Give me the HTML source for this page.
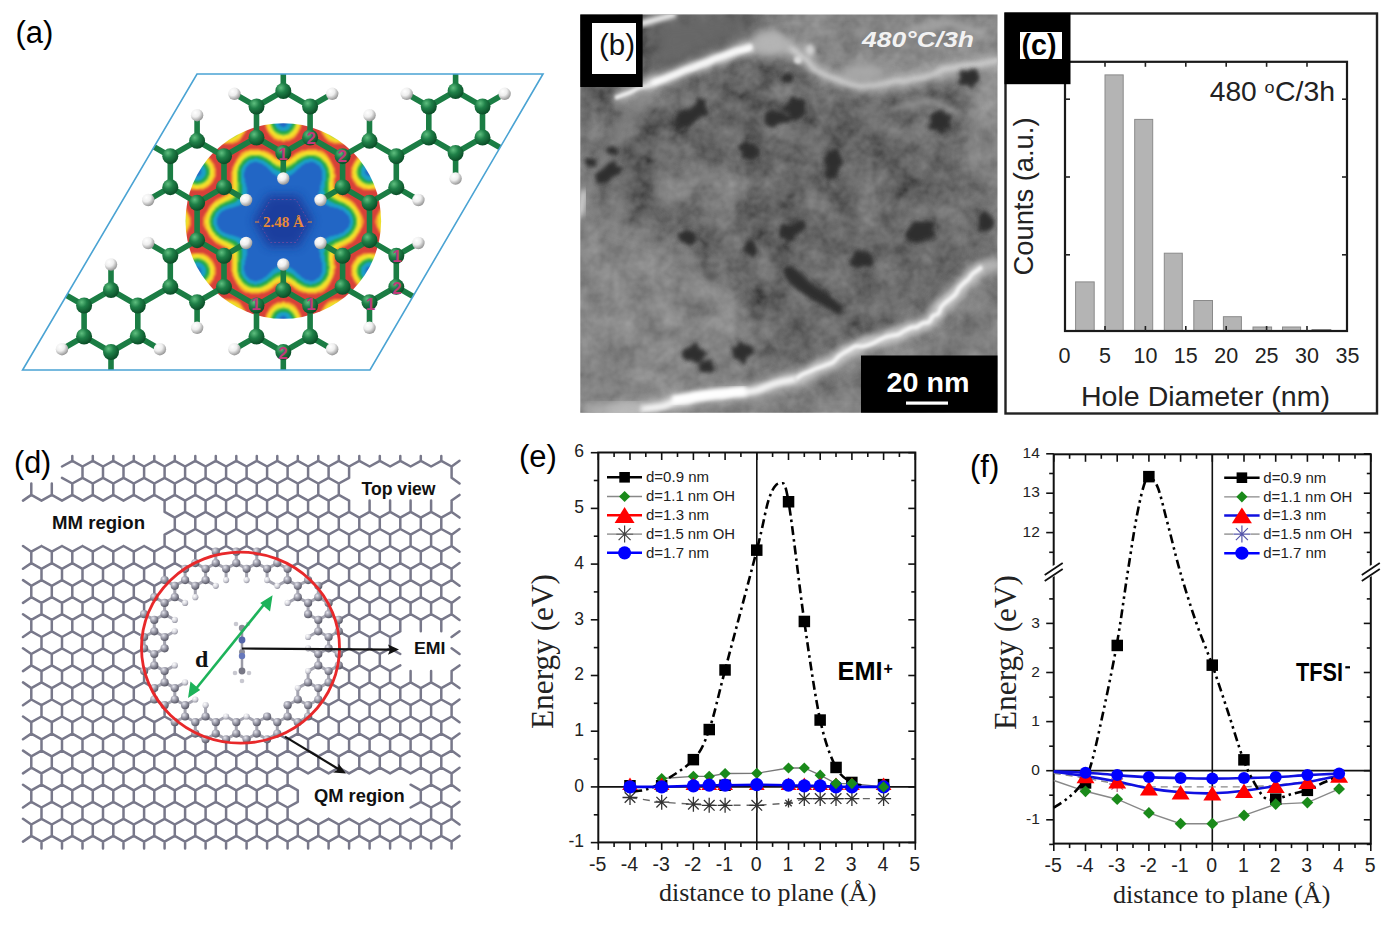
<!DOCTYPE html>
<html><head><meta charset="utf-8"><style>html,body{margin:0;padding:0;background:#fff;overflow:hidden}svg{display:block}</style></head>
<body><svg width="1394" height="932" viewBox="0 0 1394 932">
<rect width="1394" height="932" fill="#fff"/>
<rect x="598.3" y="452.5" width="317.0" height="389.9" fill="none" stroke="#111" stroke-width="2"/>
<line x1="598.3" y1="842.4" x2="598.3" y2="849.9" stroke="#111" stroke-width="1.6"/>
<line x1="598.3" y1="452.5" x2="598.3" y2="460.0" stroke="#111" stroke-width="1.6"/>
<text x="597.7" y="870.7" text-anchor="middle" font-size="19.5" fill="#222" font-family="Liberation Sans, sans-serif">-5</text>
<line x1="614.1" y1="842.4" x2="614.1" y2="846.9" stroke="#111" stroke-width="1.6"/>
<line x1="614.1" y1="452.5" x2="614.1" y2="457.0" stroke="#111" stroke-width="1.6"/>
<line x1="630.0" y1="842.4" x2="630.0" y2="849.9" stroke="#111" stroke-width="1.6"/>
<line x1="630.0" y1="452.5" x2="630.0" y2="460.0" stroke="#111" stroke-width="1.6"/>
<text x="629.4" y="870.7" text-anchor="middle" font-size="19.5" fill="#222" font-family="Liberation Sans, sans-serif">-4</text>
<line x1="645.8" y1="842.4" x2="645.8" y2="846.9" stroke="#111" stroke-width="1.6"/>
<line x1="645.8" y1="452.5" x2="645.8" y2="457.0" stroke="#111" stroke-width="1.6"/>
<line x1="661.7" y1="842.4" x2="661.7" y2="849.9" stroke="#111" stroke-width="1.6"/>
<line x1="661.7" y1="452.5" x2="661.7" y2="460.0" stroke="#111" stroke-width="1.6"/>
<text x="661.1" y="870.7" text-anchor="middle" font-size="19.5" fill="#222" font-family="Liberation Sans, sans-serif">-3</text>
<line x1="677.5" y1="842.4" x2="677.5" y2="846.9" stroke="#111" stroke-width="1.6"/>
<line x1="677.5" y1="452.5" x2="677.5" y2="457.0" stroke="#111" stroke-width="1.6"/>
<line x1="693.4" y1="842.4" x2="693.4" y2="849.9" stroke="#111" stroke-width="1.6"/>
<line x1="693.4" y1="452.5" x2="693.4" y2="460.0" stroke="#111" stroke-width="1.6"/>
<text x="692.8" y="870.7" text-anchor="middle" font-size="19.5" fill="#222" font-family="Liberation Sans, sans-serif">-2</text>
<line x1="709.2" y1="842.4" x2="709.2" y2="846.9" stroke="#111" stroke-width="1.6"/>
<line x1="709.2" y1="452.5" x2="709.2" y2="457.0" stroke="#111" stroke-width="1.6"/>
<line x1="725.1" y1="842.4" x2="725.1" y2="849.9" stroke="#111" stroke-width="1.6"/>
<line x1="725.1" y1="452.5" x2="725.1" y2="460.0" stroke="#111" stroke-width="1.6"/>
<text x="724.5" y="870.7" text-anchor="middle" font-size="19.5" fill="#222" font-family="Liberation Sans, sans-serif">-1</text>
<line x1="740.9" y1="842.4" x2="740.9" y2="846.9" stroke="#111" stroke-width="1.6"/>
<line x1="740.9" y1="452.5" x2="740.9" y2="457.0" stroke="#111" stroke-width="1.6"/>
<line x1="756.8" y1="842.4" x2="756.8" y2="849.9" stroke="#111" stroke-width="1.6"/>
<line x1="756.8" y1="452.5" x2="756.8" y2="460.0" stroke="#111" stroke-width="1.6"/>
<text x="756.2" y="870.7" text-anchor="middle" font-size="19.5" fill="#222" font-family="Liberation Sans, sans-serif">0</text>
<line x1="772.6" y1="842.4" x2="772.6" y2="846.9" stroke="#111" stroke-width="1.6"/>
<line x1="772.6" y1="452.5" x2="772.6" y2="457.0" stroke="#111" stroke-width="1.6"/>
<line x1="788.5" y1="842.4" x2="788.5" y2="849.9" stroke="#111" stroke-width="1.6"/>
<line x1="788.5" y1="452.5" x2="788.5" y2="460.0" stroke="#111" stroke-width="1.6"/>
<text x="787.9" y="870.7" text-anchor="middle" font-size="19.5" fill="#222" font-family="Liberation Sans, sans-serif">1</text>
<line x1="804.3" y1="842.4" x2="804.3" y2="846.9" stroke="#111" stroke-width="1.6"/>
<line x1="804.3" y1="452.5" x2="804.3" y2="457.0" stroke="#111" stroke-width="1.6"/>
<line x1="820.2" y1="842.4" x2="820.2" y2="849.9" stroke="#111" stroke-width="1.6"/>
<line x1="820.2" y1="452.5" x2="820.2" y2="460.0" stroke="#111" stroke-width="1.6"/>
<text x="819.6" y="870.7" text-anchor="middle" font-size="19.5" fill="#222" font-family="Liberation Sans, sans-serif">2</text>
<line x1="836.0" y1="842.4" x2="836.0" y2="846.9" stroke="#111" stroke-width="1.6"/>
<line x1="836.0" y1="452.5" x2="836.0" y2="457.0" stroke="#111" stroke-width="1.6"/>
<line x1="851.9" y1="842.4" x2="851.9" y2="849.9" stroke="#111" stroke-width="1.6"/>
<line x1="851.9" y1="452.5" x2="851.9" y2="460.0" stroke="#111" stroke-width="1.6"/>
<text x="851.3" y="870.7" text-anchor="middle" font-size="19.5" fill="#222" font-family="Liberation Sans, sans-serif">3</text>
<line x1="867.8" y1="842.4" x2="867.8" y2="846.9" stroke="#111" stroke-width="1.6"/>
<line x1="867.8" y1="452.5" x2="867.8" y2="457.0" stroke="#111" stroke-width="1.6"/>
<line x1="883.6" y1="842.4" x2="883.6" y2="849.9" stroke="#111" stroke-width="1.6"/>
<line x1="883.6" y1="452.5" x2="883.6" y2="460.0" stroke="#111" stroke-width="1.6"/>
<text x="883.0" y="870.7" text-anchor="middle" font-size="19.5" fill="#222" font-family="Liberation Sans, sans-serif">4</text>
<line x1="899.4" y1="842.4" x2="899.4" y2="846.9" stroke="#111" stroke-width="1.6"/>
<line x1="899.4" y1="452.5" x2="899.4" y2="457.0" stroke="#111" stroke-width="1.6"/>
<line x1="915.3" y1="842.4" x2="915.3" y2="849.9" stroke="#111" stroke-width="1.6"/>
<line x1="915.3" y1="452.5" x2="915.3" y2="460.0" stroke="#111" stroke-width="1.6"/>
<text x="914.7" y="870.7" text-anchor="middle" font-size="19.5" fill="#222" font-family="Liberation Sans, sans-serif">5</text>
<line x1="598.3" y1="842.6" x2="590.8" y2="842.6" stroke="#111" stroke-width="1.6"/>
<line x1="915.3" y1="842.6" x2="908.3" y2="842.6" stroke="#111" stroke-width="1.6"/>
<text x="584" y="847.3" text-anchor="end" font-size="17.5" fill="#222" font-family="Liberation Sans, sans-serif">-1</text>
<line x1="598.3" y1="814.8" x2="593.8" y2="814.8" stroke="#111" stroke-width="1.6"/>
<line x1="915.3" y1="814.8" x2="911.3" y2="814.8" stroke="#111" stroke-width="1.6"/>
<line x1="598.3" y1="786.9" x2="590.8" y2="786.9" stroke="#111" stroke-width="1.6"/>
<line x1="915.3" y1="786.9" x2="908.3" y2="786.9" stroke="#111" stroke-width="1.6"/>
<text x="584" y="791.6" text-anchor="end" font-size="17.5" fill="#222" font-family="Liberation Sans, sans-serif">0</text>
<line x1="598.3" y1="759.0" x2="593.8" y2="759.0" stroke="#111" stroke-width="1.6"/>
<line x1="915.3" y1="759.0" x2="911.3" y2="759.0" stroke="#111" stroke-width="1.6"/>
<line x1="598.3" y1="731.2" x2="590.8" y2="731.2" stroke="#111" stroke-width="1.6"/>
<line x1="915.3" y1="731.2" x2="908.3" y2="731.2" stroke="#111" stroke-width="1.6"/>
<text x="584" y="735.9" text-anchor="end" font-size="17.5" fill="#222" font-family="Liberation Sans, sans-serif">1</text>
<line x1="598.3" y1="703.3" x2="593.8" y2="703.3" stroke="#111" stroke-width="1.6"/>
<line x1="915.3" y1="703.3" x2="911.3" y2="703.3" stroke="#111" stroke-width="1.6"/>
<line x1="598.3" y1="675.5" x2="590.8" y2="675.5" stroke="#111" stroke-width="1.6"/>
<line x1="915.3" y1="675.5" x2="908.3" y2="675.5" stroke="#111" stroke-width="1.6"/>
<text x="584" y="680.2" text-anchor="end" font-size="17.5" fill="#222" font-family="Liberation Sans, sans-serif">2</text>
<line x1="598.3" y1="647.6" x2="593.8" y2="647.6" stroke="#111" stroke-width="1.6"/>
<line x1="915.3" y1="647.6" x2="911.3" y2="647.6" stroke="#111" stroke-width="1.6"/>
<line x1="598.3" y1="619.8" x2="590.8" y2="619.8" stroke="#111" stroke-width="1.6"/>
<line x1="915.3" y1="619.8" x2="908.3" y2="619.8" stroke="#111" stroke-width="1.6"/>
<text x="584" y="624.5" text-anchor="end" font-size="17.5" fill="#222" font-family="Liberation Sans, sans-serif">3</text>
<line x1="598.3" y1="591.9" x2="593.8" y2="591.9" stroke="#111" stroke-width="1.6"/>
<line x1="915.3" y1="591.9" x2="911.3" y2="591.9" stroke="#111" stroke-width="1.6"/>
<line x1="598.3" y1="564.1" x2="590.8" y2="564.1" stroke="#111" stroke-width="1.6"/>
<line x1="915.3" y1="564.1" x2="908.3" y2="564.1" stroke="#111" stroke-width="1.6"/>
<text x="584" y="568.8" text-anchor="end" font-size="17.5" fill="#222" font-family="Liberation Sans, sans-serif">4</text>
<line x1="598.3" y1="536.2" x2="593.8" y2="536.2" stroke="#111" stroke-width="1.6"/>
<line x1="915.3" y1="536.2" x2="911.3" y2="536.2" stroke="#111" stroke-width="1.6"/>
<line x1="598.3" y1="508.4" x2="590.8" y2="508.4" stroke="#111" stroke-width="1.6"/>
<line x1="915.3" y1="508.4" x2="908.3" y2="508.4" stroke="#111" stroke-width="1.6"/>
<text x="584" y="513.1" text-anchor="end" font-size="17.5" fill="#222" font-family="Liberation Sans, sans-serif">5</text>
<line x1="598.3" y1="480.5" x2="593.8" y2="480.5" stroke="#111" stroke-width="1.6"/>
<line x1="915.3" y1="480.5" x2="911.3" y2="480.5" stroke="#111" stroke-width="1.6"/>
<line x1="598.3" y1="452.7" x2="590.8" y2="452.7" stroke="#111" stroke-width="1.6"/>
<line x1="915.3" y1="452.7" x2="908.3" y2="452.7" stroke="#111" stroke-width="1.6"/>
<text x="584" y="457.4" text-anchor="end" font-size="17.5" fill="#222" font-family="Liberation Sans, sans-serif">6</text>
<line x1="598.3" y1="786.9" x2="915.3" y2="786.9" stroke="#111" stroke-width="1.8"/>
<line x1="756.8" y1="452.5" x2="756.8" y2="842.4" stroke="#111" stroke-width="1.6"/>
<path d="M630.0,797.5 L661.7,802.2 L693.4,804.2 L709.2,805.3 L725.1,805.3 L756.8,805.3 L788.5,803.1 L804.3,798.6 L820.2,798.6 L836.0,798.6 L851.9,798.6 L883.6,798.6" stroke="#666" stroke-width="1.4" fill="none" stroke-dasharray="7,6"/>
<path d="M622.5,797.5 L637.5,797.5 M624.7,792.2 L635.3,802.8 M630.0,790.0 L630.0,805.0 M635.3,792.2 L624.7,802.8 " stroke="#333" stroke-width="1.3" fill="none"/>
<path d="M654.2,802.2 L669.2,802.2 M656.4,796.9 L667.0,807.5 M661.7,794.7 L661.7,809.7 M667.0,796.9 L656.4,807.5 " stroke="#333" stroke-width="1.3" fill="none"/>
<path d="M685.9,804.2 L700.9,804.2 M688.1,798.9 L698.7,809.5 M693.4,796.7 L693.4,811.7 M698.7,798.9 L688.1,809.5 " stroke="#333" stroke-width="1.3" fill="none"/>
<path d="M701.8,805.3 L716.8,805.3 M703.9,800.0 L714.6,810.6 M709.2,797.8 L709.2,812.8 M714.6,800.0 L703.9,810.6 " stroke="#333" stroke-width="1.3" fill="none"/>
<path d="M717.6,805.3 L732.6,805.3 M719.8,800.0 L730.4,810.6 M725.1,797.8 L725.1,812.8 M730.4,800.0 L719.8,810.6 " stroke="#333" stroke-width="1.3" fill="none"/>
<path d="M749.3,805.3 L764.3,805.3 M751.5,800.0 L762.1,810.6 M756.8,797.8 L756.8,812.8 M762.1,800.0 L751.5,810.6 " stroke="#333" stroke-width="1.3" fill="none"/>
<path d="M784.0,803.1 L793.0,803.1 M785.3,799.9 L791.7,806.2 M788.5,798.6 L788.5,807.6 M791.7,799.9 L785.3,806.2 " stroke="#333" stroke-width="1.3" fill="none"/>
<path d="M796.8,798.6 L811.8,798.6 M799.0,793.3 L809.7,803.9 M804.3,791.1 L804.3,806.1 M809.7,793.3 L799.0,803.9 " stroke="#333" stroke-width="1.3" fill="none"/>
<path d="M812.7,798.6 L827.7,798.6 M814.9,793.3 L825.5,803.9 M820.2,791.1 L820.2,806.1 M825.5,793.3 L814.9,803.9 " stroke="#333" stroke-width="1.3" fill="none"/>
<path d="M828.5,798.6 L843.5,798.6 M830.7,793.3 L841.4,803.9 M836.0,791.1 L836.0,806.1 M841.4,793.3 L830.7,803.9 " stroke="#333" stroke-width="1.3" fill="none"/>
<path d="M844.4,798.6 L859.4,798.6 M846.6,793.3 L857.2,803.9 M851.9,791.1 L851.9,806.1 M857.2,793.3 L846.6,803.9 " stroke="#333" stroke-width="1.3" fill="none"/>
<path d="M876.1,798.6 L891.1,798.6 M878.3,793.3 L888.9,803.9 M883.6,791.1 L883.6,806.1 M888.9,793.3 L878.3,803.9 " stroke="#333" stroke-width="1.3" fill="none"/>
<path d="M661.7,778.5 L693.4,776.3 L709.2,776.3 L725.1,773.5 L756.8,773.3 L788.5,768.0 L804.3,768.0 L820.2,775.2 L836.0,783.6 L851.9,783.6 L883.6,786.9" stroke="#777" stroke-width="1.3" fill="none"/>
<path d="M633.2,791.4 C635.3,791.1 641.1,791.2 645.8,789.7 C650.6,788.2 653.8,787.5 661.7,782.4 C669.6,777.4 685.5,768.4 693.4,759.6 C701.3,750.8 704.0,744.5 709.2,729.5 C714.5,714.6 717.2,699.8 725.1,669.9 C733.0,640.0 749.4,579.0 756.8,550.2 C764.2,521.4 765.5,508.4 769.5,497.3 C773.4,486.1 777.4,482.6 780.6,483.3 C783.7,484.1 784.5,478.7 788.5,501.7 C792.5,524.7 799.1,585.1 804.3,621.5 C809.6,657.9 814.9,695.7 820.2,720.1 C825.5,744.4 830.8,757.0 836.0,767.4 C841.3,777.8 847.7,779.5 851.9,782.4 C856.1,785.4 859.8,784.8 861.4,785.2" stroke="#000" stroke-width="2.6" fill="none" stroke-dasharray="9,4,2.5,4"/>
<rect x="624.2" y="780.0" width="11.5" height="11.5" fill="#000"/>
<rect x="655.9" y="780.0" width="11.5" height="11.5" fill="#000"/>
<rect x="719.3" y="779.5" width="11.5" height="11.5" fill="#000"/>
<rect x="687.6" y="753.9" width="11.5" height="11.5" fill="#000"/>
<rect x="703.5" y="723.8" width="11.5" height="11.5" fill="#000"/>
<rect x="719.3" y="664.2" width="11.5" height="11.5" fill="#000"/>
<rect x="751.0" y="544.4" width="11.5" height="11.5" fill="#000"/>
<rect x="782.8" y="496.0" width="11.5" height="11.5" fill="#000"/>
<rect x="798.6" y="615.7" width="11.5" height="11.5" fill="#000"/>
<rect x="814.4" y="714.3" width="11.5" height="11.5" fill="#000"/>
<rect x="830.3" y="761.7" width="11.5" height="11.5" fill="#000"/>
<rect x="846.1" y="776.7" width="11.5" height="11.5" fill="#000"/>
<rect x="877.8" y="778.9" width="11.5" height="11.5" fill="#000"/>
<path d="M661.7,772.9 L667.3,778.5 L661.7,784.1 L656.1,778.5Z" fill="#1a8a1a"/>
<path d="M693.4,770.7 L699.0,776.3 L693.4,781.9 L687.8,776.3Z" fill="#1a8a1a"/>
<path d="M709.2,770.7 L714.9,776.3 L709.2,781.9 L703.6,776.3Z" fill="#1a8a1a"/>
<path d="M725.1,767.9 L730.7,773.5 L725.1,779.1 L719.5,773.5Z" fill="#1a8a1a"/>
<path d="M756.8,767.7 L762.4,773.3 L756.8,778.9 L751.2,773.3Z" fill="#1a8a1a"/>
<path d="M788.5,762.4 L794.1,768.0 L788.5,773.6 L782.9,768.0Z" fill="#1a8a1a"/>
<path d="M804.3,762.4 L809.9,768.0 L804.3,773.6 L798.7,768.0Z" fill="#1a8a1a"/>
<path d="M820.2,769.6 L825.8,775.2 L820.2,780.8 L814.6,775.2Z" fill="#1a8a1a"/>
<path d="M836.0,778.0 L841.6,783.6 L836.0,789.2 L830.4,783.6Z" fill="#1a8a1a"/>
<path d="M851.9,778.0 L857.5,783.6 L851.9,789.2 L846.3,783.6Z" fill="#1a8a1a"/>
<path d="M883.6,781.3 L889.2,786.9 L883.6,792.5 L878.0,786.9Z" fill="#1a8a1a"/>
<path d="M630.0,777.5 L637.9,790.1 L622.1,790.1Z" fill="#f00"/>
<path d="M661.7,777.5 L669.6,790.1 L653.8,790.1Z" fill="#f00"/>
<path d="M693.4,777.5 L701.3,790.1 L685.5,790.1Z" fill="#f00"/>
<path d="M709.2,777.5 L717.2,790.1 L701.3,790.1Z" fill="#f00"/>
<path d="M725.1,777.5 L733.0,790.1 L717.2,790.1Z" fill="#f00"/>
<path d="M756.8,777.5 L764.7,790.1 L748.9,790.1Z" fill="#f00"/>
<path d="M788.5,777.5 L796.4,790.1 L780.6,790.1Z" fill="#f00"/>
<path d="M804.3,777.5 L812.3,790.1 L796.4,790.1Z" fill="#f00"/>
<path d="M820.2,777.5 L828.1,790.1 L812.3,790.1Z" fill="#f00"/>
<path d="M836.0,777.5 L844.0,790.1 L828.1,790.1Z" fill="#f00"/>
<path d="M851.9,777.5 L859.8,790.1 L844.0,790.1Z" fill="#f00"/>
<path d="M883.6,777.5 L891.5,790.1 L875.7,790.1Z" fill="#f00"/>
<path d="M630.0,786.9 L661.7,786.9 L693.4,785.8 L709.2,785.2 L725.1,785.2 L756.8,784.7 L788.5,785.2 L804.3,785.8 L820.2,785.8 L836.0,786.9 L851.9,786.9 L883.6,786.9" stroke="#0000ee" stroke-width="2.6" fill="none"/>
<circle cx="630.0" cy="786.9" r="6.6" fill="#00f"/>
<circle cx="661.7" cy="786.9" r="6.6" fill="#00f"/>
<circle cx="693.4" cy="785.8" r="6.6" fill="#00f"/>
<circle cx="709.2" cy="785.2" r="6.6" fill="#00f"/>
<circle cx="725.1" cy="785.2" r="6.6" fill="#00f"/>
<circle cx="756.8" cy="784.7" r="6.6" fill="#00f"/>
<circle cx="788.5" cy="785.2" r="6.6" fill="#00f"/>
<circle cx="804.3" cy="785.8" r="6.6" fill="#00f"/>
<circle cx="820.2" cy="785.8" r="6.6" fill="#00f"/>
<circle cx="836.0" cy="786.9" r="6.6" fill="#00f"/>
<circle cx="851.9" cy="786.9" r="6.6" fill="#00f"/>
<circle cx="883.6" cy="786.9" r="6.6" fill="#00f"/>
<path d="M836.0,778.0 L841.6,783.6 L836.0,789.2 L830.4,783.6Z" fill="#1a8a1a"/>
<path d="M851.9,778.0 L857.5,783.6 L851.9,789.2 L846.3,783.6Z" fill="#1a8a1a"/>
<path d="M883.6,781.3 L889.2,786.9 L883.6,792.5 L878.0,786.9Z" fill="#1a8a1a"/>
<line x1="607" y1="477.3" x2="642" y2="477.3" stroke="#000" stroke-width="2.6"/><rect x="619.3" y="472.0" width="10.6" height="10.6" fill="#000"/>
<line x1="607" y1="496.5" x2="642" y2="496.5" stroke="#888" stroke-width="1.3"/><path d="M624.6,490.9 L630.2,496.5 L624.6,502.1 L619.0,496.5Z" fill="#1a8a1a"/>
<line x1="607" y1="515.2" x2="642" y2="515.2" stroke="#f00" stroke-width="2.6"/><path d="M624.6,507.1 L634.6,523.0 L614.6,523.0Z" fill="#f00"/>
<line x1="607" y1="534.1" x2="616" y2="534.1" stroke="#888" stroke-width="1.3"/><line x1="633" y1="534.1" x2="642" y2="534.1" stroke="#888" stroke-width="1.3"/><path d="M616.1,534.1 L633.1,534.1 M618.6,528.1 L630.6,540.1 M624.6,525.6 L624.6,542.6 M630.6,528.1 L618.6,540.1 " stroke="#444" stroke-width="1.2" fill="none"/>
<line x1="607" y1="552.8" x2="642" y2="552.8" stroke="#00f" stroke-width="2.6"/><circle cx="624.6" cy="552.8" r="6.6" fill="#00f"/>
<text x="646" y="482.1" font-size="15" fill="#222" textLength="63" lengthAdjust="spacingAndGlyphs" font-family="Liberation Sans, sans-serif">d=0.9 nm</text>
<text x="646" y="501.3" font-size="15" fill="#222" textLength="89" lengthAdjust="spacingAndGlyphs" font-family="Liberation Sans, sans-serif">d=1.1 nm OH</text>
<text x="646" y="520.0" font-size="15" fill="#222" textLength="63" lengthAdjust="spacingAndGlyphs" font-family="Liberation Sans, sans-serif">d=1.3 nm</text>
<text x="646" y="538.9" font-size="15" fill="#222" textLength="89" lengthAdjust="spacingAndGlyphs" font-family="Liberation Sans, sans-serif">d=1.5 nm OH</text>
<text x="646" y="557.6" font-size="15" fill="#222" textLength="63" lengthAdjust="spacingAndGlyphs" font-family="Liberation Sans, sans-serif">d=1.7 nm</text>
<text x="519" y="467" font-size="31" fill="#000" font-family="Liberation Sans, sans-serif">(e)</text>
<text x="837.5" y="680" font-size="25" font-weight="bold" fill="#000" textLength="45" lengthAdjust="spacingAndGlyphs" font-family="Liberation Sans, sans-serif">EMI</text><text x="883.5" y="673.5" font-size="16" font-weight="bold" fill="#000" font-family="Liberation Sans, sans-serif">+</text>
<text x="659" y="901" font-size="26" fill="#222" font-family="Liberation Serif, serif">distance to plane (Å)</text>
<text transform="translate(553,729) rotate(-90)" font-size="32" fill="#222" textLength="155" lengthAdjust="spacingAndGlyphs" font-family="Liberation Serif, serif">Energy (eV)</text>
<rect x="1053.7" y="454.3" width="317.1" height="389.3" fill="none" stroke="#111" stroke-width="2"/>
<line x1="1053.8" y1="843.6" x2="1053.8" y2="851.1" stroke="#111" stroke-width="1.6"/>
<line x1="1053.8" y1="454.3" x2="1053.8" y2="461.8" stroke="#111" stroke-width="1.6"/>
<text x="1053.2" y="871.5" text-anchor="middle" font-size="19.5" fill="#222" font-family="Liberation Sans, sans-serif">-5</text>
<line x1="1069.6" y1="843.6" x2="1069.6" y2="848.1" stroke="#111" stroke-width="1.6"/>
<line x1="1069.6" y1="454.3" x2="1069.6" y2="458.8" stroke="#111" stroke-width="1.6"/>
<line x1="1085.5" y1="843.6" x2="1085.5" y2="851.1" stroke="#111" stroke-width="1.6"/>
<line x1="1085.5" y1="454.3" x2="1085.5" y2="461.8" stroke="#111" stroke-width="1.6"/>
<text x="1084.9" y="871.5" text-anchor="middle" font-size="19.5" fill="#222" font-family="Liberation Sans, sans-serif">-4</text>
<line x1="1101.3" y1="843.6" x2="1101.3" y2="848.1" stroke="#111" stroke-width="1.6"/>
<line x1="1101.3" y1="454.3" x2="1101.3" y2="458.8" stroke="#111" stroke-width="1.6"/>
<line x1="1117.2" y1="843.6" x2="1117.2" y2="851.1" stroke="#111" stroke-width="1.6"/>
<line x1="1117.2" y1="454.3" x2="1117.2" y2="461.8" stroke="#111" stroke-width="1.6"/>
<text x="1116.6" y="871.5" text-anchor="middle" font-size="19.5" fill="#222" font-family="Liberation Sans, sans-serif">-3</text>
<line x1="1133.0" y1="843.6" x2="1133.0" y2="848.1" stroke="#111" stroke-width="1.6"/>
<line x1="1133.0" y1="454.3" x2="1133.0" y2="458.8" stroke="#111" stroke-width="1.6"/>
<line x1="1148.9" y1="843.6" x2="1148.9" y2="851.1" stroke="#111" stroke-width="1.6"/>
<line x1="1148.9" y1="454.3" x2="1148.9" y2="461.8" stroke="#111" stroke-width="1.6"/>
<text x="1148.3" y="871.5" text-anchor="middle" font-size="19.5" fill="#222" font-family="Liberation Sans, sans-serif">-2</text>
<line x1="1164.8" y1="843.6" x2="1164.8" y2="848.1" stroke="#111" stroke-width="1.6"/>
<line x1="1164.8" y1="454.3" x2="1164.8" y2="458.8" stroke="#111" stroke-width="1.6"/>
<line x1="1180.6" y1="843.6" x2="1180.6" y2="851.1" stroke="#111" stroke-width="1.6"/>
<line x1="1180.6" y1="454.3" x2="1180.6" y2="461.8" stroke="#111" stroke-width="1.6"/>
<text x="1180.0" y="871.5" text-anchor="middle" font-size="19.5" fill="#222" font-family="Liberation Sans, sans-serif">-1</text>
<line x1="1196.5" y1="843.6" x2="1196.5" y2="848.1" stroke="#111" stroke-width="1.6"/>
<line x1="1196.5" y1="454.3" x2="1196.5" y2="458.8" stroke="#111" stroke-width="1.6"/>
<line x1="1212.3" y1="843.6" x2="1212.3" y2="851.1" stroke="#111" stroke-width="1.6"/>
<line x1="1212.3" y1="454.3" x2="1212.3" y2="461.8" stroke="#111" stroke-width="1.6"/>
<text x="1211.7" y="871.5" text-anchor="middle" font-size="19.5" fill="#222" font-family="Liberation Sans, sans-serif">0</text>
<line x1="1228.1" y1="843.6" x2="1228.1" y2="848.1" stroke="#111" stroke-width="1.6"/>
<line x1="1228.1" y1="454.3" x2="1228.1" y2="458.8" stroke="#111" stroke-width="1.6"/>
<line x1="1244.0" y1="843.6" x2="1244.0" y2="851.1" stroke="#111" stroke-width="1.6"/>
<line x1="1244.0" y1="454.3" x2="1244.0" y2="461.8" stroke="#111" stroke-width="1.6"/>
<text x="1243.4" y="871.5" text-anchor="middle" font-size="19.5" fill="#222" font-family="Liberation Sans, sans-serif">1</text>
<line x1="1259.8" y1="843.6" x2="1259.8" y2="848.1" stroke="#111" stroke-width="1.6"/>
<line x1="1259.8" y1="454.3" x2="1259.8" y2="458.8" stroke="#111" stroke-width="1.6"/>
<line x1="1275.7" y1="843.6" x2="1275.7" y2="851.1" stroke="#111" stroke-width="1.6"/>
<line x1="1275.7" y1="454.3" x2="1275.7" y2="461.8" stroke="#111" stroke-width="1.6"/>
<text x="1275.1" y="871.5" text-anchor="middle" font-size="19.5" fill="#222" font-family="Liberation Sans, sans-serif">2</text>
<line x1="1291.5" y1="843.6" x2="1291.5" y2="848.1" stroke="#111" stroke-width="1.6"/>
<line x1="1291.5" y1="454.3" x2="1291.5" y2="458.8" stroke="#111" stroke-width="1.6"/>
<line x1="1307.4" y1="843.6" x2="1307.4" y2="851.1" stroke="#111" stroke-width="1.6"/>
<line x1="1307.4" y1="454.3" x2="1307.4" y2="461.8" stroke="#111" stroke-width="1.6"/>
<text x="1306.8" y="871.5" text-anchor="middle" font-size="19.5" fill="#222" font-family="Liberation Sans, sans-serif">3</text>
<line x1="1323.2" y1="843.6" x2="1323.2" y2="848.1" stroke="#111" stroke-width="1.6"/>
<line x1="1323.2" y1="454.3" x2="1323.2" y2="458.8" stroke="#111" stroke-width="1.6"/>
<line x1="1339.1" y1="843.6" x2="1339.1" y2="851.1" stroke="#111" stroke-width="1.6"/>
<line x1="1339.1" y1="454.3" x2="1339.1" y2="461.8" stroke="#111" stroke-width="1.6"/>
<text x="1338.5" y="871.5" text-anchor="middle" font-size="19.5" fill="#222" font-family="Liberation Sans, sans-serif">4</text>
<line x1="1355.0" y1="843.6" x2="1355.0" y2="848.1" stroke="#111" stroke-width="1.6"/>
<line x1="1355.0" y1="454.3" x2="1355.0" y2="458.8" stroke="#111" stroke-width="1.6"/>
<line x1="1370.8" y1="843.6" x2="1370.8" y2="851.1" stroke="#111" stroke-width="1.6"/>
<line x1="1370.8" y1="454.3" x2="1370.8" y2="461.8" stroke="#111" stroke-width="1.6"/>
<text x="1370.2" y="871.5" text-anchor="middle" font-size="19.5" fill="#222" font-family="Liberation Sans, sans-serif">5</text>
<line x1="1053.7" y1="844.4" x2="1049.2" y2="844.4" stroke="#111" stroke-width="1.6"/>
<line x1="1370.8" y1="844.4" x2="1366.8" y2="844.4" stroke="#111" stroke-width="1.6"/>
<line x1="1053.7" y1="819.8" x2="1046.2" y2="819.8" stroke="#111" stroke-width="1.6"/>
<line x1="1370.8" y1="819.8" x2="1363.8" y2="819.8" stroke="#111" stroke-width="1.6"/>
<text x="1039.8" y="824.0" text-anchor="end" font-size="15.5" fill="#222" font-family="Liberation Sans, sans-serif">-1</text>
<line x1="1053.7" y1="795.2" x2="1049.2" y2="795.2" stroke="#111" stroke-width="1.6"/>
<line x1="1370.8" y1="795.2" x2="1366.8" y2="795.2" stroke="#111" stroke-width="1.6"/>
<line x1="1053.7" y1="770.7" x2="1046.2" y2="770.7" stroke="#111" stroke-width="1.6"/>
<line x1="1370.8" y1="770.7" x2="1363.8" y2="770.7" stroke="#111" stroke-width="1.6"/>
<text x="1039.8" y="774.9" text-anchor="end" font-size="15.5" fill="#222" font-family="Liberation Sans, sans-serif">0</text>
<line x1="1053.7" y1="746.2" x2="1049.2" y2="746.2" stroke="#111" stroke-width="1.6"/>
<line x1="1370.8" y1="746.2" x2="1366.8" y2="746.2" stroke="#111" stroke-width="1.6"/>
<line x1="1053.7" y1="721.6" x2="1046.2" y2="721.6" stroke="#111" stroke-width="1.6"/>
<line x1="1370.8" y1="721.6" x2="1363.8" y2="721.6" stroke="#111" stroke-width="1.6"/>
<text x="1039.8" y="725.8" text-anchor="end" font-size="15.5" fill="#222" font-family="Liberation Sans, sans-serif">1</text>
<line x1="1053.7" y1="697.1" x2="1049.2" y2="697.1" stroke="#111" stroke-width="1.6"/>
<line x1="1370.8" y1="697.1" x2="1366.8" y2="697.1" stroke="#111" stroke-width="1.6"/>
<line x1="1053.7" y1="672.5" x2="1046.2" y2="672.5" stroke="#111" stroke-width="1.6"/>
<line x1="1370.8" y1="672.5" x2="1363.8" y2="672.5" stroke="#111" stroke-width="1.6"/>
<text x="1039.8" y="676.7" text-anchor="end" font-size="15.5" fill="#222" font-family="Liberation Sans, sans-serif">2</text>
<line x1="1053.7" y1="648.0" x2="1049.2" y2="648.0" stroke="#111" stroke-width="1.6"/>
<line x1="1370.8" y1="648.0" x2="1366.8" y2="648.0" stroke="#111" stroke-width="1.6"/>
<line x1="1053.7" y1="623.4" x2="1046.2" y2="623.4" stroke="#111" stroke-width="1.6"/>
<line x1="1370.8" y1="623.4" x2="1363.8" y2="623.4" stroke="#111" stroke-width="1.6"/>
<text x="1039.8" y="627.6" text-anchor="end" font-size="15.5" fill="#222" font-family="Liberation Sans, sans-serif">3</text>
<line x1="1053.7" y1="598.9" x2="1049.2" y2="598.9" stroke="#111" stroke-width="1.6"/>
<line x1="1370.8" y1="598.9" x2="1366.8" y2="598.9" stroke="#111" stroke-width="1.6"/>
<line x1="1053.7" y1="552.3" x2="1049.2" y2="552.3" stroke="#111" stroke-width="1.6"/>
<line x1="1370.8" y1="552.3" x2="1366.8" y2="552.3" stroke="#111" stroke-width="1.6"/>
<line x1="1053.7" y1="532.6" x2="1046.2" y2="532.6" stroke="#111" stroke-width="1.6"/>
<line x1="1370.8" y1="532.6" x2="1363.8" y2="532.6" stroke="#111" stroke-width="1.6"/>
<text x="1039.8" y="536.8" text-anchor="end" font-size="15.5" fill="#222" font-family="Liberation Sans, sans-serif">12</text>
<line x1="1053.7" y1="512.9" x2="1049.2" y2="512.9" stroke="#111" stroke-width="1.6"/>
<line x1="1370.8" y1="512.9" x2="1366.8" y2="512.9" stroke="#111" stroke-width="1.6"/>
<line x1="1053.7" y1="493.2" x2="1046.2" y2="493.2" stroke="#111" stroke-width="1.6"/>
<line x1="1370.8" y1="493.2" x2="1363.8" y2="493.2" stroke="#111" stroke-width="1.6"/>
<text x="1039.8" y="497.4" text-anchor="end" font-size="15.5" fill="#222" font-family="Liberation Sans, sans-serif">13</text>
<line x1="1053.7" y1="473.5" x2="1049.2" y2="473.5" stroke="#111" stroke-width="1.6"/>
<line x1="1370.8" y1="473.5" x2="1366.8" y2="473.5" stroke="#111" stroke-width="1.6"/>
<line x1="1053.7" y1="453.8" x2="1046.2" y2="453.8" stroke="#111" stroke-width="1.6"/>
<line x1="1370.8" y1="453.8" x2="1363.8" y2="453.8" stroke="#111" stroke-width="1.6"/>
<text x="1039.8" y="458.0" text-anchor="end" font-size="15.5" fill="#222" font-family="Liberation Sans, sans-serif">14</text>
<rect x="1045.7" y="566" width="16" height="10" fill="#fff" transform="rotate(-25 1053.7 571)"/>
<path d="M1044.7,575 L1062.7,563 M1044.7,581 L1062.7,569" stroke="#111" stroke-width="1.8"/>
<rect x="1362.8" y="566" width="16" height="10" fill="#fff" transform="rotate(-25 1370.8 571)"/>
<path d="M1361.8,575 L1379.8,563 M1361.8,581 L1379.8,569" stroke="#111" stroke-width="1.8"/>
<line x1="1053.7" y1="770.7" x2="1370.8" y2="770.7" stroke="#111" stroke-width="1.8"/>
<line x1="1212.3" y1="454.3" x2="1212.3" y2="843.6" stroke="#111" stroke-width="1.6"/>
<path d="M1053.8,780.5 L1085.5,791.3 L1117.2,799.2 L1148.9,812.9 L1180.6,823.7 L1212.3,823.7 L1244.0,815.4 L1275.7,804.1 L1307.4,802.6 L1339.1,788.9" stroke="#888" stroke-width="1.4" fill="none"/>
<path d="M1053.8,773.2 L1085.5,778.1 L1117.2,784.0 L1148.9,786.9 L1180.6,786.9 L1212.3,786.9 L1244.0,786.9 L1275.7,785.4 L1307.4,781.5 L1339.1,775.6" stroke="#888" stroke-width="1.4" fill="none" stroke-dasharray="7,5"/>
<path d="M1109.2,784.0 L1125.2,784.0 M1111.5,778.3 L1122.9,789.6 M1117.2,776.0 L1117.2,792.0 M1122.9,778.3 L1111.5,789.6 " stroke="#b06080" stroke-width="1.3" fill="none"/>
<path d="M1053.8,771.7 C1059.1,772.4 1074.9,774.5 1085.5,776.1 C1096.1,777.7 1106.6,779.5 1117.2,781.5 C1127.8,783.5 1138.3,786.6 1148.9,788.4 C1159.5,790.2 1170.0,791.5 1180.6,792.3 C1191.2,793.1 1201.7,793.5 1212.3,793.3 C1222.9,793.0 1233.4,792.1 1244.0,790.8 C1254.6,789.6 1265.1,787.4 1275.7,785.9 C1286.3,784.4 1296.8,783.7 1307.4,782.0 C1318.0,780.3 1333.8,776.7 1339.1,775.6" stroke="#1010e0" stroke-width="2.6" fill="none"/>
<path d="M1053.8,771.2 C1059.1,771.4 1074.9,772.0 1085.5,772.7 C1096.1,773.3 1106.6,774.4 1117.2,775.1 C1127.8,775.9 1138.3,776.6 1148.9,777.1 C1159.5,777.6 1170.0,777.8 1180.6,778.1 C1191.2,778.3 1201.7,778.6 1212.3,778.6 C1222.9,778.6 1233.4,778.3 1244.0,778.1 C1254.6,777.8 1265.1,777.6 1275.7,777.1 C1286.3,776.6 1296.8,775.7 1307.4,775.1 C1318.0,774.5 1333.8,773.9 1339.1,773.6" stroke="#1010e0" stroke-width="2.6" fill="none"/>
<path d="M1053.7,807.7 C1056.1,806.1 1063.6,801.6 1068.0,798.0 C1072.4,794.4 1076.5,790.7 1080.0,786.0 C1083.5,781.3 1086.0,779.8 1089.3,770.0 C1092.6,760.2 1095.5,747.8 1100.0,727.0 C1104.5,706.2 1112.0,671.2 1116.6,645.5 C1121.2,619.8 1124.2,594.8 1127.6,573.0 C1131.0,551.2 1134.1,530.2 1137.0,515.0 C1139.9,499.8 1142.8,488.2 1145.0,482.0 C1147.2,475.8 1147.8,477.0 1150.0,478.0 C1152.2,479.0 1155.0,480.2 1158.0,488.0 C1161.0,495.8 1164.2,510.8 1168.0,525.0 C1171.8,539.2 1175.8,556.8 1180.5,573.0 C1185.2,589.2 1190.7,606.6 1196.0,622.0 C1201.3,637.4 1207.0,650.2 1212.3,665.2 C1217.6,680.2 1222.8,696.2 1228.0,712.0 C1233.2,727.8 1239.1,748.0 1243.6,760.0 C1248.1,772.0 1251.4,777.7 1255.0,784.0 C1258.6,790.3 1261.5,795.5 1265.0,798.0 C1268.5,800.5 1271.5,799.7 1276.0,799.0 C1280.5,798.3 1286.8,795.5 1292.0,794.0 C1297.2,792.5 1301.9,792.0 1307.4,790.0 C1312.9,788.0 1319.7,784.3 1325.0,782.0 C1330.3,779.7 1336.7,777.0 1339.0,776.0" stroke="#000" stroke-width="2.6" fill="none" stroke-dasharray="9,4,2.5,4,2.5,4"/>
<rect x="1079.8" y="777.2" width="11.5" height="11.5" fill="#000"/>
<rect x="1111.5" y="639.7" width="11.5" height="11.5" fill="#000"/>
<rect x="1143.1" y="470.9" width="11.5" height="11.5" fill="#000"/>
<rect x="1206.5" y="659.4" width="11.5" height="11.5" fill="#000"/>
<rect x="1238.2" y="754.1" width="11.5" height="11.5" fill="#000"/>
<rect x="1270.0" y="793.4" width="11.5" height="11.5" fill="#000"/>
<rect x="1301.6" y="784.6" width="11.5" height="11.5" fill="#000"/>
<path d="M1085.5,768.9 L1094.5,783.2 L1076.5,783.2Z" fill="#f00"/>
<path d="M1117.2,774.3 L1126.2,788.6 L1108.2,788.6Z" fill="#f00"/>
<path d="M1148.9,781.2 L1157.9,795.5 L1139.9,795.5Z" fill="#f00"/>
<path d="M1180.6,785.1 L1189.6,799.4 L1171.6,799.4Z" fill="#f00"/>
<path d="M1212.3,786.1 L1221.3,800.4 L1203.3,800.4Z" fill="#f00"/>
<path d="M1244.0,783.6 L1253.0,798.0 L1235.0,798.0Z" fill="#f00"/>
<path d="M1275.7,778.7 L1284.7,793.1 L1266.7,793.1Z" fill="#f00"/>
<path d="M1307.4,774.8 L1316.4,789.1 L1298.4,789.1Z" fill="#f00"/>
<path d="M1339.1,768.4 L1348.1,782.7 L1330.1,782.7Z" fill="#f00"/>
<path d="M1085.5,785.4 L1091.4,791.3 L1085.5,797.2 L1079.6,791.3Z" fill="#1a8a1a"/>
<path d="M1117.2,793.3 L1123.1,799.2 L1117.2,805.1 L1111.3,799.2Z" fill="#1a8a1a"/>
<path d="M1148.9,807.0 L1154.8,812.9 L1148.9,818.8 L1143.0,812.9Z" fill="#1a8a1a"/>
<path d="M1180.6,817.8 L1186.5,823.7 L1180.6,829.6 L1174.7,823.7Z" fill="#1a8a1a"/>
<path d="M1212.3,817.8 L1218.2,823.7 L1212.3,829.6 L1206.4,823.7Z" fill="#1a8a1a"/>
<path d="M1244.0,809.5 L1249.9,815.4 L1244.0,821.3 L1238.1,815.4Z" fill="#1a8a1a"/>
<path d="M1275.7,798.2 L1281.6,804.1 L1275.7,810.0 L1269.8,804.1Z" fill="#1a8a1a"/>
<path d="M1307.4,796.7 L1313.3,802.6 L1307.4,808.5 L1301.5,802.6Z" fill="#1a8a1a"/>
<path d="M1339.1,783.0 L1345.0,788.9 L1339.1,794.8 L1333.2,788.9Z" fill="#1a8a1a"/>
<circle cx="1085.5" cy="772.7" r="6" fill="#00f"/>
<circle cx="1117.2" cy="775.1" r="6" fill="#00f"/>
<circle cx="1148.9" cy="777.1" r="6" fill="#00f"/>
<circle cx="1180.6" cy="778.1" r="6" fill="#00f"/>
<circle cx="1212.3" cy="778.6" r="6" fill="#00f"/>
<circle cx="1244.0" cy="778.1" r="6" fill="#00f"/>
<circle cx="1275.7" cy="777.1" r="6" fill="#00f"/>
<circle cx="1307.4" cy="775.1" r="6" fill="#00f"/>
<circle cx="1339.1" cy="773.6" r="6" fill="#00f"/>
<line x1="1224.2" y1="477.7" x2="1259.6" y2="477.7" stroke="#000" stroke-width="2.6"/><rect x="1236.6" y="472.4" width="10.6" height="10.6" fill="#000"/>
<line x1="1224.2" y1="496.8" x2="1259.6" y2="496.8" stroke="#888" stroke-width="1.3"/><path d="M1241.9,491.2 L1247.5,496.8 L1241.9,502.4 L1236.3,496.8Z" fill="#1a8a1a"/>
<line x1="1224.2" y1="515.5" x2="1259.6" y2="515.5" stroke="#1010e0" stroke-width="2.6"/><path d="M1241.9,507.4 L1251.9,523.3 L1231.9,523.3Z" fill="#f00"/>
<line x1="1224.2" y1="534.1" x2="1233.2" y2="534.1" stroke="#888" stroke-width="1.3"/><line x1="1250.6" y1="534.1" x2="1259.6" y2="534.1" stroke="#888" stroke-width="1.3"/><path d="M1233.4,534.1 L1250.4,534.1 M1235.9,528.1 L1247.9,540.1 M1241.9,525.6 L1241.9,542.6 M1247.9,528.1 L1235.9,540.1 " stroke="#5555aa" stroke-width="1.2" fill="none"/>
<line x1="1224.2" y1="553.2" x2="1259.6" y2="553.2" stroke="#00f" stroke-width="2.6"/><circle cx="1241.9" cy="553.2" r="6.6" fill="#00f"/>
<text x="1263.3" y="482.5" font-size="15" fill="#222" textLength="63" lengthAdjust="spacingAndGlyphs" font-family="Liberation Sans, sans-serif">d=0.9 nm</text>
<text x="1263.3" y="501.6" font-size="15" fill="#222" textLength="89" lengthAdjust="spacingAndGlyphs" font-family="Liberation Sans, sans-serif">d=1.1 nm OH</text>
<text x="1263.3" y="520.3" font-size="15" fill="#222" textLength="63" lengthAdjust="spacingAndGlyphs" font-family="Liberation Sans, sans-serif">d=1.3 nm</text>
<text x="1263.3" y="538.9" font-size="15" fill="#222" textLength="89" lengthAdjust="spacingAndGlyphs" font-family="Liberation Sans, sans-serif">d=1.5 nm OH</text>
<text x="1263.3" y="558.0" font-size="15" fill="#222" textLength="63" lengthAdjust="spacingAndGlyphs" font-family="Liberation Sans, sans-serif">d=1.7 nm</text>
<text x="970" y="477" font-size="31" fill="#000" font-family="Liberation Sans, sans-serif">(f)</text>
<text x="1296" y="680.5" font-size="25" font-weight="bold" fill="#000" textLength="47" lengthAdjust="spacingAndGlyphs" font-family="Liberation Sans, sans-serif">TFSI</text><rect x="1345.3" y="666.2" width="4.7" height="2.2" fill="#000"/>
<text x="1113" y="902.8" font-size="26" fill="#222" font-family="Liberation Serif, serif">distance to plane (Å)</text>
<text transform="translate(1016,730) rotate(-90)" font-size="32" fill="#222" textLength="155" lengthAdjust="spacingAndGlyphs" font-family="Liberation Serif, serif">Energy (eV)</text>
<rect x="1005.5" y="13.5" width="371.5" height="400" fill="#fff" stroke="#222" stroke-width="2.4"/>
<rect x="1075.6" y="281.9" width="18.6" height="49.1" fill="#b4b4b4" stroke="#8a8a8a" stroke-width="1"/>
<rect x="1105.0" y="74.9" width="18.2" height="256.1" fill="#b4b4b4" stroke="#8a8a8a" stroke-width="1"/>
<rect x="1134.7" y="119.4" width="18.0" height="211.6" fill="#b4b4b4" stroke="#8a8a8a" stroke-width="1"/>
<rect x="1164.3" y="253.2" width="18.0" height="77.8" fill="#b4b4b4" stroke="#8a8a8a" stroke-width="1"/>
<rect x="1193.8" y="300.5" width="18.7" height="30.5" fill="#b4b4b4" stroke="#8a8a8a" stroke-width="1"/>
<rect x="1223.4" y="316.7" width="18.0" height="14.3" fill="#b4b4b4" stroke="#8a8a8a" stroke-width="1"/>
<rect x="1253.0" y="327.0" width="18.6" height="4.0" fill="#b4b4b4" stroke="#8a8a8a" stroke-width="1"/>
<rect x="1282.5" y="327.0" width="18.1" height="4.0" fill="#b4b4b4" stroke="#8a8a8a" stroke-width="1"/>
<rect x="1312.0" y="329.5" width="18.8" height="1.5" fill="#b4b4b4" stroke="#8a8a8a" stroke-width="1"/>
<rect x="1065" y="61.8" width="282" height="269.2" fill="none" stroke="#1a1a1a" stroke-width="2.2"/>
<line x1="1105.0" y1="61.8" x2="1105.0" y2="66.8" stroke="#222" stroke-width="1.6"/>
<line x1="1105.0" y1="331" x2="1105.0" y2="326" stroke="#222" stroke-width="1.6"/>
<line x1="1145.4" y1="61.8" x2="1145.4" y2="66.8" stroke="#222" stroke-width="1.6"/>
<line x1="1145.4" y1="331" x2="1145.4" y2="326" stroke="#222" stroke-width="1.6"/>
<line x1="1185.8" y1="61.8" x2="1185.8" y2="66.8" stroke="#222" stroke-width="1.6"/>
<line x1="1185.8" y1="331" x2="1185.8" y2="326" stroke="#222" stroke-width="1.6"/>
<line x1="1226.2" y1="61.8" x2="1226.2" y2="66.8" stroke="#222" stroke-width="1.6"/>
<line x1="1226.2" y1="331" x2="1226.2" y2="326" stroke="#222" stroke-width="1.6"/>
<line x1="1266.6" y1="61.8" x2="1266.6" y2="66.8" stroke="#222" stroke-width="1.6"/>
<line x1="1266.6" y1="331" x2="1266.6" y2="326" stroke="#222" stroke-width="1.6"/>
<line x1="1307.0" y1="61.8" x2="1307.0" y2="66.8" stroke="#222" stroke-width="1.6"/>
<line x1="1307.0" y1="331" x2="1307.0" y2="326" stroke="#222" stroke-width="1.6"/>
<line x1="1065" y1="99.2" x2="1070" y2="99.2" stroke="#222" stroke-width="1.6"/>
<line x1="1347" y1="99.2" x2="1342" y2="99.2" stroke="#222" stroke-width="1.6"/>
<line x1="1065" y1="177" x2="1070" y2="177" stroke="#222" stroke-width="1.6"/>
<line x1="1347" y1="177" x2="1342" y2="177" stroke="#222" stroke-width="1.6"/>
<line x1="1065" y1="254.8" x2="1070" y2="254.8" stroke="#222" stroke-width="1.6"/>
<line x1="1347" y1="254.8" x2="1342" y2="254.8" stroke="#222" stroke-width="1.6"/>
<text x="1064.6" y="362.8" text-anchor="middle" font-size="21.5" fill="#222" font-family="Liberation Sans, sans-serif">0</text>
<text x="1105.0" y="362.8" text-anchor="middle" font-size="21.5" fill="#222" font-family="Liberation Sans, sans-serif">5</text>
<text x="1145.4" y="362.8" text-anchor="middle" font-size="21.5" fill="#222" font-family="Liberation Sans, sans-serif">10</text>
<text x="1185.8" y="362.8" text-anchor="middle" font-size="21.5" fill="#222" font-family="Liberation Sans, sans-serif">15</text>
<text x="1226.2" y="362.8" text-anchor="middle" font-size="21.5" fill="#222" font-family="Liberation Sans, sans-serif">20</text>
<text x="1266.6" y="362.8" text-anchor="middle" font-size="21.5" fill="#222" font-family="Liberation Sans, sans-serif">25</text>
<text x="1307.0" y="362.8" text-anchor="middle" font-size="21.5" fill="#222" font-family="Liberation Sans, sans-serif">30</text>
<text x="1347.4" y="362.8" text-anchor="middle" font-size="21.5" fill="#222" font-family="Liberation Sans, sans-serif">35</text>
<text x="1081" y="405.5" font-size="28" fill="#222" textLength="249" lengthAdjust="spacingAndGlyphs" font-family="Liberation Sans, sans-serif">Hole Diameter (nm)</text>
<text transform="translate(1032.5,275.5) rotate(-90)" font-size="28" fill="#222" textLength="158" lengthAdjust="spacingAndGlyphs" font-family="Liberation Sans, sans-serif">Counts (a.u.)</text>
<text x="1209.8" y="101" font-size="27.5" fill="#222" textLength="47" lengthAdjust="spacingAndGlyphs" font-family="Liberation Sans, sans-serif">480</text>
<text x="1264.5" y="92.6" font-size="16" fill="#222" textLength="10" lengthAdjust="spacingAndGlyphs" font-family="Liberation Sans, sans-serif">o</text>
<text x="1275" y="101" font-size="27.5" fill="#222" textLength="60" lengthAdjust="spacingAndGlyphs" font-family="Liberation Sans, sans-serif">C/3h</text>
<rect x="1004.5" y="12.7" width="66" height="71.5" fill="#000"/>
<rect x="1020" y="32" width="42" height="27" fill="#fff"/>
<svg x="1020" y="32" width="42" height="27" overflow="hidden"><text x="1.5" y="23" font-size="30" font-weight="bold" fill="#000" font-family="Liberation Sans, sans-serif" textLength="35" lengthAdjust="spacingAndGlyphs">(c)</text></svg>
<defs><clipPath id="semclip"><rect x="580.3" y="14.4" width="417.2" height="398.3"/></clipPath><filter id="bl2" x="-50%" y="-50%" width="200%" height="200%"><feGaussianBlur stdDeviation="2"/></filter><filter id="bl3" x="-50%" y="-50%" width="200%" height="200%"><feGaussianBlur stdDeviation="3"/></filter><filter id="bl5" x="-50%" y="-50%" width="200%" height="200%"><feGaussianBlur stdDeviation="5"/></filter><filter id="bl8" x="-30%" y="-30%" width="160%" height="160%"><feGaussianBlur stdDeviation="10"/></filter><filter id="bl1" x="-50%" y="-50%" width="200%" height="200%"><feGaussianBlur stdDeviation="1.4"/></filter><filter id="semtex" x="0" y="0" width="100%" height="100%"><feTurbulence type="fractalNoise" baseFrequency="0.11" numOctaves="2" seed="11" result="n1"/><feColorMatrix in="n1" type="matrix" values="1 0 0 0 0  1 0 0 0 0  1 0 0 0 0  0 0 0 0 1" result="g1"/><feTurbulence type="fractalNoise" baseFrequency="0.035" numOctaves="3" seed="5" result="n2"/><feColorMatrix in="n2" type="matrix" values="1 0 0 0 0  1 0 0 0 0  1 0 0 0 0  0 0 0 0 1" result="g2"/><feComposite in="SourceGraphic" in2="g1" operator="arithmetic" k1="0" k2="1" k3="0.09" k4="-0.045" result="s1"/><feComposite in="s1" in2="g2" operator="arithmetic" k1="0" k2="1" k3="0.22" k4="-0.11"/></filter></defs>
<g clip-path="url(#semclip)">
<g filter="url(#semtex)">
<rect x="580.3" y="14.4" width="417.20000000000005" height="398.3" fill="#767676"/>
<g filter="url(#bl8)">
<path d="M570,5 L800,5 L760,45 L700,62 L645,88 L600,120 L570,130Z" fill="#606060"/>
<path d="M760,5 L1010,5 L1010,250 L975,200 L960,75 L880,88 L820,75 L790,58 L760,45Z" fill="#878787"/>
<path d="M645,92 L700,68 L750,52 L790,62 L860,90 L950,78 L970,160 L985,268 L945,300 L880,338 L800,375 L780,390 L760,344 L738,296 L707,261 L663,234 L590,200 L592,150Z" fill="#686868"/>
<path d="M570,205 L663,236 L707,263 L738,298 L760,346 L782,399 L790,420 L570,420Z" fill="#838383"/>
<path d="M800,384 L880,346 L945,310 L1010,268 L1010,420 L790,420Z" fill="#7e7e7e"/>
<path d="M575,150 L590,160 L588,260 L575,270Z" fill="#868686"/>
<ellipse cx="700" cy="190" rx="40" ry="30" fill="#7a7a7a"/>
<ellipse cx="860" cy="200" rx="50" ry="40" fill="#6a6a6a"/>
<ellipse cx="900" cy="290" rx="40" ry="30" fill="#6c6c6c"/>
<ellipse cx="640" cy="330" rx="50" ry="50" fill="#888888"/>
</g>
</g>
<path d="M615.0,98.0 C616.1,97.7 618.8,97.3 621.4,96.3 C624.0,95.3 628.1,92.9 630.8,91.8 C633.5,90.6 635.1,90.4 637.5,89.6 C639.9,88.8 642.6,87.7 645.0,87.0 C647.4,86.3 649.8,86.3 651.7,85.1 C653.6,84.0 654.1,81.2 656.3,80.1 C658.5,79.0 662.5,79.2 664.8,78.5 C667.0,77.9 667.7,77.1 670.0,76.0 C672.3,74.9 675.8,72.6 678.3,71.8 C680.8,71.0 682.6,71.6 684.8,71.2 C687.1,70.7 689.2,70.1 691.7,69.1 C694.2,68.1 697.2,66.4 700.0,65.0 C702.8,63.6 706.4,61.6 708.7,60.6 C711.0,59.6 711.1,59.9 713.6,59.1 C716.1,58.3 721.1,56.7 723.8,55.6 C726.6,54.6 728.2,53.8 730.0,53.0 C731.8,52.2 733.1,51.7 734.6,51.0 C736.2,50.3 737.6,49.2 739.6,48.7 C741.5,48.1 744.2,48.2 746.3,47.7 C748.4,47.3 749.6,46.4 752.0,46.0 C754.4,45.6 757.7,45.4 760.7,45.4 C763.7,45.5 767.0,46.4 770.2,46.4 C773.4,46.4 776.6,45.2 779.9,45.3 C783.2,45.4 786.8,45.6 790.0,47.0 C793.2,48.4 796.4,51.8 799.3,53.9 C802.1,56.0 804.1,57.2 806.9,59.6 C809.8,62.0 813.5,65.9 816.2,68.3 C818.9,70.7 820.4,72.6 823.0,74.0 C825.6,75.4 828.3,75.4 831.6,76.5 C835.0,77.6 839.5,79.6 843.2,80.6 C846.8,81.7 850.4,81.9 853.6,82.8 C856.7,83.7 859.4,85.5 862.0,86.0 C864.6,86.5 867.3,86.0 869.2,85.8 C871.2,85.6 871.8,84.9 873.9,84.8 C876.0,84.6 879.7,85.1 881.9,84.8 C884.1,84.5 884.8,83.5 887.0,83.0 C889.2,82.5 892.7,82.6 895.3,82.0 C897.8,81.5 899.2,80.2 902.1,79.7 C905.0,79.2 909.7,79.3 912.6,79.0 C915.6,78.7 917.6,78.6 920.0,78.0 C922.4,77.4 924.3,76.4 927.0,75.6 C929.8,74.9 933.8,74.4 936.6,73.5 C939.4,72.6 941.1,71.2 943.6,70.3 C946.2,69.4 948.6,68.6 952.0,68.0 C955.4,67.4 960.0,67.6 964.0,66.8 C968.0,66.1 972.1,64.7 976.1,63.7 C980.1,62.6 984.0,61.2 988.0,60.6 C992.0,60.0 998.0,60.1 1000.0,60.0" stroke="#c4c4c4" stroke-width="14" fill="none" filter="url(#bl5)" opacity="0.75"/>
<path d="M645.0,87.0 C645.9,86.3 648.4,84.1 650.5,82.9 C652.7,81.7 655.9,80.6 658.1,79.8 C660.3,79.0 661.9,78.8 663.9,78.2 C665.9,77.6 668.0,76.8 670.0,76.0 C672.0,75.2 673.5,74.2 675.7,73.3 C677.9,72.3 680.6,71.4 683.1,70.2 C685.7,69.0 688.0,67.0 690.8,66.1 C693.6,65.2 697.3,65.5 700.0,65.0 C702.7,64.5 704.9,64.5 707.2,63.3 C709.4,62.1 710.9,58.8 713.5,57.9 C716.1,57.0 720.3,58.6 723.0,57.8 C725.8,57.0 727.9,54.2 730.0,53.0 C732.1,51.8 733.7,51.7 735.8,50.8 C738.0,50.0 740.9,48.3 742.9,47.7 C744.9,47.0 746.4,47.2 747.9,46.9 C749.4,46.6 751.3,46.2 752.0,46.0" stroke="#e0e0e0" stroke-width="9" fill="none" filter="url(#bl3)" opacity="0.9"/>
<path d="M796.0,379.0 C797.0,378.8 799.9,378.8 802.1,377.8 C804.3,376.8 806.7,374.8 809.1,373.0 C811.5,371.3 813.6,368.6 816.4,367.2 C819.2,365.9 823.0,366.2 826.0,365.0 C829.0,363.8 832.2,361.1 834.2,359.8 C836.3,358.5 836.7,358.3 838.2,357.3 C839.7,356.3 841.2,354.9 843.0,353.7 C844.8,352.5 847.0,350.8 849.0,350.0 C851.0,349.2 852.8,350.2 855.0,349.2 C857.1,348.1 859.6,345.0 861.9,343.7 C864.3,342.4 866.3,341.9 869.1,341.3 C871.9,340.7 876.4,340.3 879.0,340.0 C881.6,339.7 882.8,340.8 884.8,339.8 C886.8,338.7 888.9,334.2 890.9,333.6 C892.9,332.9 894.4,336.1 896.5,335.7 C898.7,335.3 902.1,332.1 904.0,331.0 C905.9,329.9 906.1,330.0 908.1,329.4 C910.0,328.7 913.6,328.0 915.9,327.3 C918.2,326.6 919.8,326.1 921.9,325.2 C924.1,324.3 927.2,323.2 929.0,322.0 C930.8,320.8 931.3,319.5 933.0,318.0 C934.7,316.5 938.0,315.0 939.0,312.9 C940.0,310.8 938.2,307.2 939.2,305.6 C940.2,303.9 942.9,304.3 945.0,303.0 C947.1,301.7 950.7,299.2 952.0,297.9 C953.3,296.6 951.7,296.7 953.0,295.2 C954.2,293.8 957.8,291.2 959.6,289.1 C961.5,287.1 962.2,284.9 964.0,283.0 C965.8,281.1 969.0,278.9 970.4,277.9 C971.8,276.9 971.4,277.8 972.3,276.9 C973.2,276.0 974.1,274.0 975.7,272.3 C977.3,270.7 980.9,267.9 982.0,267.0" stroke="#d4d4d4" stroke-width="9" fill="none" filter="url(#bl3)" opacity="0.85"/>
<path d="M610.0,413.0 C611.5,413.1 616.6,413.9 618.9,413.3 C621.1,412.8 621.2,410.2 623.7,409.8 C626.1,409.3 630.8,410.8 633.5,410.7 C636.2,410.6 637.5,409.6 640.0,409.0 C642.5,408.4 645.8,407.4 648.5,406.9 C651.2,406.5 653.7,406.9 656.3,406.3 C658.9,405.7 661.6,404.0 664.2,403.5 C666.9,402.9 669.5,403.4 672.0,403.0 C674.5,402.6 676.8,401.4 679.5,401.2 C682.2,400.9 685.3,401.9 688.2,401.5 C691.0,401.1 694.1,399.4 696.6,398.6 C699.1,397.9 700.2,397.6 703.0,397.0 C705.8,396.4 710.2,395.7 713.6,395.1 C716.9,394.4 719.5,393.5 723.1,393.1 C726.7,392.7 731.3,392.9 735.1,392.7 C739.0,392.5 742.2,392.5 746.0,392.0 C749.8,391.5 754.0,391.0 758.1,389.9 C762.3,388.9 767.0,387.2 771.1,385.7 C775.2,384.2 778.6,381.9 782.7,380.8 C786.9,379.7 792.6,380.1 796.0,379.0 C799.4,377.9 800.5,375.3 803.0,374.4 C805.5,373.5 808.4,374.6 811.0,373.5 C813.7,372.4 816.5,369.0 819.0,367.5 C821.5,366.1 823.7,365.9 826.0,365.0 C828.3,364.1 830.9,363.2 832.9,362.1 C835.0,361.1 836.4,360.0 838.2,358.7 C840.1,357.5 842.2,356.1 844.0,354.6 C845.8,353.2 847.0,350.9 849.0,350.0 C851.0,349.1 853.3,349.9 856.1,348.9 C858.8,347.9 862.7,344.9 865.4,344.0 C868.1,343.0 870.0,343.8 872.3,343.1 C874.5,342.5 876.9,340.9 879.0,340.0 C881.1,339.1 883.1,338.4 885.1,337.8 C887.2,337.3 889.4,337.4 891.5,336.8 C893.6,336.2 895.7,335.2 897.8,334.2 C899.8,333.3 902.0,331.7 904.0,331.0 C906.0,330.3 907.5,330.7 909.8,329.9 C912.1,329.1 915.5,327.1 917.7,326.4 C919.9,325.7 921.1,326.2 923.0,325.5 C924.8,324.8 927.2,323.4 929.0,322.0 C930.8,320.6 932.5,318.9 933.7,317.2 C934.9,315.5 934.8,313.7 936.2,312.0 C937.5,310.2 940.1,308.2 941.6,306.7 C943.1,305.3 943.4,304.6 945.0,303.0 C946.6,301.4 949.2,299.1 951.0,297.3 C952.8,295.5 954.1,293.9 955.7,292.4 C957.3,291.0 959.2,290.2 960.6,288.6 C962.0,287.0 962.7,284.6 964.0,283.0 C965.3,281.4 966.9,280.3 968.5,279.1 C970.1,277.8 972.1,276.8 973.5,275.3 C974.9,273.8 975.5,271.5 976.9,270.1 C978.4,268.7 980.4,267.5 982.0,267.0 C983.6,266.5 985.0,267.7 986.5,267.1 C988.1,266.4 989.7,263.7 991.4,263.2 C993.0,262.7 995.0,264.1 996.5,263.9 C997.9,263.7 999.4,262.3 1000.0,262.0" stroke="#cccccc" stroke-width="14" fill="none" filter="url(#bl5)" opacity="0.8"/>
<path d="M615.0,98.0 C616.1,97.6 619.4,96.2 621.9,95.4 C624.3,94.5 627.0,93.9 629.7,92.7 C632.3,91.6 635.2,89.7 637.8,88.7 C640.4,87.7 643.0,87.6 645.0,87.0 C647.0,86.4 648.1,86.1 650.1,85.1 C652.1,84.0 654.4,81.9 656.9,80.9 C659.4,79.8 662.8,79.5 664.9,78.7 C667.1,77.9 667.8,76.9 670.0,76.0 C672.2,75.1 675.8,74.2 678.3,73.2 C680.9,72.1 682.9,70.4 685.3,69.7 C687.8,68.9 690.4,69.4 692.8,68.6 C695.3,67.9 697.5,66.0 700.0,65.0 C702.5,64.0 705.0,63.8 707.6,62.6 C710.1,61.4 712.8,59.0 715.4,58.0 C718.0,56.9 720.7,57.0 723.1,56.2 C725.6,55.4 728.0,54.0 730.0,53.0 C732.0,52.0 733.0,50.7 735.0,50.1 C737.0,49.5 739.9,49.7 741.9,49.4 C743.9,49.2 745.3,49.2 747.0,48.7 C748.7,48.1 751.2,46.4 752.0,46.0" stroke="#f2f2f2" stroke-width="4" fill="none" filter="url(#bl1)"/>
<path d="M796.0,379.0 C797.1,378.2 800.3,375.6 802.7,374.3 C805.2,373.0 808.3,372.0 810.7,371.0 C813.1,369.9 814.6,369.2 817.2,368.2 C819.8,367.2 823.4,366.0 826.0,365.0 C828.6,364.0 831.0,363.5 833.0,362.2 C835.1,360.8 836.6,358.2 838.3,356.7 C840.0,355.2 841.6,354.2 843.4,353.1 C845.1,352.0 847.0,351.1 849.0,350.0 C851.0,348.9 853.2,346.9 855.5,346.3 C857.9,345.7 860.3,346.8 863.1,346.3 C866.0,345.8 869.8,344.5 872.5,343.4 C875.1,342.4 876.7,341.1 879.0,340.0 C881.3,338.9 884.2,337.5 886.2,336.8 C888.1,336.1 888.9,336.3 890.9,335.9 C893.0,335.5 896.3,335.1 898.4,334.3 C900.6,333.5 901.8,332.1 904.0,331.0 C906.2,329.9 909.3,328.2 911.4,327.5 C913.5,326.8 914.9,327.7 916.8,327.0 C918.7,326.3 920.7,324.1 922.8,323.3 C924.8,322.4 927.3,323.2 929.0,322.0 C930.7,320.8 931.4,317.4 932.9,316.0 C934.5,314.6 936.9,315.1 938.3,313.6 C939.7,312.1 940.0,308.9 941.1,307.2 C942.3,305.4 943.4,304.5 945.0,303.0 C946.6,301.5 949.2,299.7 951.0,298.2 C952.8,296.7 954.3,295.8 955.6,294.0 C957.0,292.3 957.9,289.6 959.3,287.7 C960.7,285.9 962.4,284.5 964.0,283.0 C965.6,281.5 967.5,280.2 968.8,278.8 C970.1,277.4 970.4,275.9 972.0,274.4 C973.6,272.9 976.8,270.9 978.4,269.6 C980.1,268.4 981.4,267.4 982.0,267.0" stroke="#f6f6f6" stroke-width="4" fill="none" filter="url(#bl1)"/>
<path d="M640.0,409.0 C641.4,408.9 645.6,408.5 648.4,408.2 C651.2,407.9 654.2,407.7 656.9,407.3 C659.6,406.9 662.2,406.5 664.7,405.8 C667.2,405.0 669.7,403.7 672.0,403.0 C674.3,402.3 675.5,401.8 678.3,401.4 C681.1,401.0 685.8,401.1 688.8,400.4 C691.8,399.8 694.1,397.9 696.5,397.3 C698.8,396.8 700.1,397.4 703.0,397.0 C705.9,396.6 710.1,395.4 713.7,395.0 C717.3,394.6 721.3,395.2 724.6,394.7 C728.0,394.3 730.2,392.9 733.8,392.4 C737.4,391.9 742.0,392.4 746.0,392.0 C750.0,391.6 753.5,391.3 757.8,390.0 C762.1,388.7 767.4,386.0 771.8,384.5 C776.2,383.0 780.4,382.1 784.4,381.2 C788.4,380.3 794.1,379.4 796.0,379.0" stroke="#f4f4f4" stroke-width="7" fill="none" filter="url(#bl2)"/>
<path d="M672,400 L703,395 L746,391" stroke="#ffffff" stroke-width="9" fill="none" filter="url(#bl2)"/>
<path d="M585,412 L640,405" stroke="#b8b8b8" stroke-width="10" fill="none" filter="url(#bl5)"/>
<path d="M790.0,47.0 C791.6,48.3 796.7,52.9 799.4,55.0 C802.2,57.1 804.2,57.4 806.4,59.5 C808.7,61.7 810.0,65.5 812.8,67.9 C815.5,70.3 819.7,72.3 823.0,74.0 C826.3,75.7 829.5,76.9 832.6,78.0 C835.8,79.2 838.9,80.1 842.0,81.1 C845.1,82.1 848.0,83.4 851.3,84.2 C854.7,85.0 859.0,85.9 862.0,86.0 C865.0,86.1 867.1,85.0 869.2,84.9 C871.3,84.8 872.9,85.4 874.7,85.2 C876.4,85.1 877.5,84.3 879.5,84.0 C881.6,83.6 884.2,83.5 887.0,83.0 C889.8,82.5 893.5,81.1 896.5,80.8 C899.4,80.5 901.9,81.6 904.7,81.2 C907.5,80.9 910.6,79.1 913.1,78.6 C915.7,78.1 917.8,78.3 920.0,78.0 C922.2,77.7 923.5,77.6 926.4,76.7 C929.2,75.8 934.6,74.0 937.2,72.8 C939.9,71.5 939.9,70.1 942.4,69.3 C944.8,68.5 948.3,68.7 952.0,68.0 C955.7,67.3 960.2,65.8 964.5,65.2 C968.8,64.6 974.1,64.8 977.8,64.4 C981.5,63.9 983.1,63.3 986.8,62.6 C990.5,61.9 997.8,60.4 1000.0,60.0" stroke="#d8d8d8" stroke-width="4" fill="none" filter="url(#bl2)" opacity="0.8"/>
<path d="M650,20 L760,10 L740,40 L700,55 L655,75Z" fill="#686868" filter="url(#bl8)"/>
<path d="M640,24 L676,14" stroke="#eeeeee" stroke-width="6" fill="none" filter="url(#bl2)"/>
<ellipse cx="770" cy="42" rx="16" ry="12" fill="#b4b4b4" filter="url(#bl5)"/>
<ellipse cx="865" cy="72" rx="22" ry="9" fill="#a8a8a8" filter="url(#bl5)"/>
<ellipse cx="810" cy="50" rx="5" ry="6" fill="#d0d0d0" filter="url(#bl2)"/>
<ellipse cx="798" cy="60" rx="4" ry="4" fill="#d8d8d8" filter="url(#bl1)"/>
<path d="M910,30 L950,22 L985,35" stroke="#a8a8a8" stroke-width="6" fill="none" filter="url(#bl3)"/>
<path d="M890,110 L930,100 L960,115" stroke="#9c9c9c" stroke-width="5" fill="none" filter="url(#bl3)"/>
<path d="M652,84 L690,68 L725,55 L752,47" stroke="#ffffff" stroke-width="6" fill="none" filter="url(#bl2)" opacity="0.9"/>
<path d="M578,210 L600,170 L625,125 L650,92" stroke="#929292" stroke-width="12" fill="none" filter="url(#bl5)" opacity="0.7"/>
<path d="M580,215 L584,190" stroke="#e0e0e0" stroke-width="6" fill="none" filter="url(#bl3)"/>
<g filter="url(#bl2)" fill="#2e2e2e">
<path d="M702.9,114.2 C702.2,115.8 700.1,117.7 698.6,119.1 C697.1,120.6 695.5,121.5 693.9,122.7 C692.4,124.0 691.0,125.9 689.3,126.7 C687.6,127.6 685.8,127.2 683.7,127.6 C681.7,128.0 678.2,129.7 677.1,129.2 C675.9,128.6 677.2,125.7 676.9,124.4 C676.6,123.1 675.2,122.6 675.1,121.3 C675.0,120.0 675.7,118.4 676.4,116.7 C677.2,115.1 677.9,112.5 679.6,111.3 C681.3,110.0 684.6,109.6 686.7,109.3 C688.7,108.9 689.9,109.5 691.9,109.1 C694.0,108.7 696.9,106.9 698.8,107.0 C700.6,107.0 702.2,108.2 702.9,109.4 C703.6,110.6 703.7,112.6 702.9,114.2Z"/>
<path d="M709.0,113.0 C708.9,114.4 707.2,116.1 706.0,116.6 C704.8,117.1 702.9,116.0 701.6,116.1 C700.3,116.2 699.3,117.5 698.1,117.3 C697.0,117.2 696.0,116.1 694.9,115.3 C693.9,114.5 692.6,113.7 691.8,112.5 C691.0,111.3 689.8,109.3 690.2,108.0 C690.6,106.7 693.2,105.7 694.2,104.8 C695.1,103.9 695.5,103.8 696.1,102.5 C696.8,101.2 696.8,97.5 697.8,96.9 C698.7,96.3 700.4,98.6 701.8,99.0 C703.2,99.4 705.4,98.4 706.0,99.4 C706.6,100.4 705.3,103.6 705.5,105.0 C705.6,106.4 706.1,106.7 706.7,108.0 C707.3,109.3 709.2,111.5 709.0,113.0Z"/>
<path d="M789.5,122.6 C787.9,123.4 783.5,122.6 781.6,122.9 C779.7,123.2 779.5,123.5 778.0,124.3 C776.6,125.1 774.6,127.5 772.8,127.7 C771.1,127.9 769.0,126.4 767.5,125.4 C766.1,124.5 764.5,123.2 764.2,122.0 C763.8,120.8 765.2,119.3 765.3,118.0 C765.4,116.7 764.1,115.3 764.5,114.1 C765.0,113.0 766.6,111.8 768.1,111.0 C769.5,110.3 771.5,109.4 773.2,109.4 C774.9,109.5 776.5,111.0 778.2,111.4 C779.8,111.8 781.9,111.2 783.2,111.7 C784.5,112.2 784.9,113.5 786.2,114.6 C787.5,115.6 790.5,116.7 791.1,118.0 C791.6,119.3 791.1,121.7 789.5,122.6Z"/>
<path d="M806.1,113.8 C805.5,115.1 803.3,115.8 801.9,116.8 C800.6,117.9 799.5,119.6 797.8,120.1 C796.2,120.7 793.6,121.1 792.1,120.3 C790.7,119.5 790.2,116.7 789.3,115.4 C788.5,114.1 788.6,113.5 787.1,112.4 C785.7,111.3 781.0,110.2 780.7,109.0 C780.5,107.8 784.3,106.1 785.6,104.9 C787.0,103.7 787.6,103.4 788.6,101.8 C789.6,100.2 790.1,96.1 791.6,95.5 C793.1,95.0 795.6,98.1 797.6,98.6 C799.7,99.2 802.6,98.0 803.9,99.0 C805.2,99.9 805.4,102.7 805.7,104.4 C805.9,106.0 805.2,107.4 805.2,109.0 C805.3,110.6 806.6,112.5 806.1,113.8Z"/>
<path d="M792.7,79.8 C792.4,80.5 792.5,81.6 792.0,82.0 C791.5,82.4 790.3,82.2 789.6,82.2 C788.8,82.2 788.3,82.0 787.5,82.0 C786.7,81.9 785.9,82.2 785.0,82.0 C784.0,81.8 782.4,81.6 781.8,80.9 C781.2,80.2 781.4,78.9 781.5,78.0 C781.6,77.1 781.6,75.9 782.3,75.3 C782.9,74.7 784.5,74.9 785.3,74.4 C786.1,74.0 786.4,72.8 787.1,72.6 C787.9,72.5 788.9,73.1 789.7,73.4 C790.4,73.7 791.0,74.1 791.6,74.6 C792.1,75.0 792.4,75.6 792.7,76.2 C793.1,76.7 793.6,77.4 793.6,78.0 C793.6,78.6 793.0,79.2 792.7,79.8Z"/>
<path d="M758.8,153.8 C758.3,155.0 757.2,156.2 756.0,157.1 C754.8,158.0 753.2,159.2 751.7,159.5 C750.1,159.7 748.3,159.0 746.6,158.6 C744.9,158.3 742.3,158.6 741.6,157.5 C740.9,156.5 743.0,153.7 742.6,152.5 C742.3,151.2 740.3,151.1 739.6,150.0 C738.8,148.9 737.7,146.9 738.2,145.8 C738.7,144.7 741.2,144.2 742.5,143.4 C743.9,142.5 745.0,140.6 746.4,140.7 C747.7,140.8 749.3,143.5 750.7,144.0 C752.1,144.6 753.9,143.5 754.9,144.0 C755.8,144.5 755.7,146.1 756.4,147.1 C757.2,148.1 758.9,148.9 759.3,150.0 C759.7,151.1 759.4,152.7 758.8,153.8Z"/>
<path d="M841.9,165.5 C841.2,166.9 839.4,167.8 838.2,168.4 C837.0,169.0 835.7,169.3 834.6,169.1 C833.5,169.0 832.9,167.6 831.7,167.6 C830.4,167.6 828.3,169.7 827.3,169.2 C826.3,168.7 826.2,166.1 825.6,164.6 C824.9,163.1 823.3,161.5 823.4,160.0 C823.4,158.5 825.4,157.3 826.0,155.6 C826.6,154.0 826.1,151.1 827.0,150.3 C827.9,149.5 830.0,151.2 831.4,150.8 C832.7,150.4 833.9,147.7 835.2,147.7 C836.4,147.6 838.1,149.2 838.9,150.5 C839.7,151.8 839.6,154.0 840.2,155.5 C840.8,157.1 842.5,158.3 842.8,160.0 C843.1,161.7 842.7,164.1 841.9,165.5Z"/>
<path d="M836.7,175.5 C836.4,176.5 837.0,178.6 836.3,179.1 C835.6,179.6 833.5,178.2 832.3,178.3 C831.1,178.5 830.2,180.2 829.2,180.2 C828.3,180.1 827.1,179.0 826.5,178.2 C825.9,177.4 826.3,176.2 825.7,175.4 C825.2,174.5 823.2,173.8 823.2,173.0 C823.2,172.2 825.3,171.6 825.8,170.7 C826.3,169.8 825.7,168.1 826.3,167.6 C827.0,167.1 828.7,167.7 829.7,167.7 C830.7,167.7 831.3,167.6 832.3,167.6 C833.3,167.6 834.5,167.3 835.7,167.6 C836.8,167.9 838.9,168.4 839.3,169.3 C839.7,170.2 838.5,172.0 838.0,173.0 C837.6,174.0 836.9,174.5 836.7,175.5Z"/>
<path d="M952.2,128.6 C951.6,129.8 946.9,128.3 945.3,129.4 C943.7,130.5 943.9,134.8 942.7,135.0 C941.5,135.3 939.6,131.8 938.2,131.0 C936.7,130.2 936.0,130.4 934.2,130.1 C932.5,129.7 928.1,130.0 927.5,128.7 C927.0,127.3 930.6,124.0 931.0,122.0 C931.3,120.0 929.1,117.9 929.5,116.4 C929.9,114.9 932.1,113.8 933.4,112.8 C934.8,111.9 936.2,111.0 937.7,110.6 C939.2,110.2 941.1,109.7 942.4,110.3 C943.7,110.9 944.1,113.3 945.6,114.2 C947.1,115.2 950.9,114.5 951.5,115.8 C952.1,117.1 949.0,119.9 949.1,122.0 C949.3,124.1 952.9,127.3 952.2,128.6Z"/>
<path d="M978.0,81.9 C977.2,82.9 975.4,82.8 974.4,84.0 C973.3,85.2 973.1,89.1 971.9,89.3 C970.7,89.4 968.9,85.4 967.3,84.8 C965.7,84.1 963.9,85.8 962.3,85.5 C960.6,85.2 957.4,84.3 957.1,83.1 C956.8,81.8 960.4,79.6 960.7,78.0 C961.0,76.4 958.8,75.0 959.0,73.7 C959.2,72.4 960.5,70.4 961.8,70.0 C963.2,69.6 965.6,71.2 967.2,71.0 C968.8,70.9 969.7,69.5 971.2,69.3 C972.8,69.0 975.3,68.9 976.5,69.6 C977.7,70.4 978.0,72.6 978.5,73.9 C979.0,75.3 979.6,76.7 979.6,78.0 C979.5,79.3 978.9,80.9 978.0,81.9Z"/>
<path d="M621.5,170.0 C621.0,171.3 621.1,172.9 619.7,174.0 C618.3,175.2 615.1,175.7 613.1,177.1 C611.1,178.5 609.9,181.1 607.8,182.2 C605.7,183.3 602.4,183.8 600.4,183.9 C598.4,183.9 596.2,183.4 595.6,182.5 C595.0,181.6 596.9,179.4 596.6,178.3 C596.2,177.3 593.6,177.2 593.8,176.1 C594.0,175.1 596.4,173.3 597.9,172.1 C599.4,170.9 601.0,170.3 602.7,168.8 C604.5,167.3 606.0,164.4 608.2,163.2 C610.5,161.9 614.8,160.7 616.2,161.2 C617.6,161.8 615.4,165.6 616.5,166.5 C617.6,167.3 621.9,165.6 622.7,166.1 C623.5,166.7 622.0,168.7 621.5,170.0Z"/>
<path d="M596.1,164.2 C595.9,164.9 595.8,166.2 595.1,166.6 C594.4,167.1 592.8,166.6 591.8,166.6 C590.8,166.6 590.0,166.8 589.2,166.7 C588.3,166.6 587.1,166.4 586.6,165.9 C586.1,165.4 586.4,164.4 586.0,163.7 C585.7,163.1 584.7,162.7 584.5,162.0 C584.2,161.3 584.4,160.5 584.7,159.8 C585.0,159.0 585.4,157.9 586.1,157.6 C586.9,157.4 588.5,158.3 589.5,158.4 C590.4,158.4 591.0,157.7 591.7,157.8 C592.3,158.0 592.5,158.8 593.4,159.1 C594.2,159.4 596.4,159.1 596.8,159.6 C597.3,160.0 596.5,161.2 596.3,162.0 C596.2,162.8 596.3,163.4 596.1,164.2Z"/>
<path d="M618.4,153.3 C618.1,154.0 617.4,154.9 616.6,155.1 C615.8,155.3 614.4,154.9 613.6,154.7 C612.7,154.6 612.3,154.4 611.5,154.4 C610.8,154.4 609.6,154.8 609.0,154.5 C608.4,154.2 608.4,153.4 607.8,152.8 C607.2,152.2 605.7,151.7 605.5,151.0 C605.2,150.3 606.0,149.4 606.5,148.7 C607.0,148.0 607.8,147.5 608.5,147.0 C609.3,146.6 610.2,146.4 611.1,146.2 C612.0,146.0 613.2,145.6 614.0,145.9 C614.7,146.2 614.9,147.5 615.5,148.0 C616.1,148.5 617.2,148.5 617.7,149.0 C618.2,149.5 618.3,150.3 618.4,151.0 C618.5,151.7 618.7,152.6 618.4,153.3Z"/>
<path d="M697.1,240.7 C696.8,241.9 695.3,242.8 694.0,243.7 C692.8,244.6 691.2,246.2 689.7,246.1 C688.2,246.0 686.5,243.9 685.1,243.3 C683.8,242.6 682.5,242.8 681.6,242.2 C680.7,241.6 680.2,240.6 679.6,239.7 C679.1,238.9 678.9,238.1 678.4,237.0 C677.9,235.9 676.0,234.0 676.6,233.2 C677.2,232.4 680.6,232.8 682.0,232.2 C683.3,231.5 683.5,229.5 684.7,229.3 C685.8,229.0 687.6,230.2 688.9,230.6 C690.2,231.0 691.5,231.1 692.6,231.6 C693.8,232.1 695.3,232.8 695.8,233.7 C696.4,234.6 695.6,235.8 695.8,237.0 C696.0,238.2 697.4,239.6 697.1,240.7Z"/>
<path d="M757.6,252.1 C757.5,253.2 756.3,254.1 755.5,255.1 C754.7,256.2 753.8,258.2 752.8,258.2 C751.9,258.2 750.6,255.9 749.7,255.1 C748.8,254.4 748.4,254.2 747.4,253.7 C746.5,253.2 744.9,253.1 744.3,252.1 C743.7,251.2 743.6,249.2 743.8,248.0 C744.1,246.8 745.3,246.0 745.7,244.8 C746.2,243.5 745.8,241.5 746.5,240.8 C747.1,240.0 748.6,240.7 749.6,240.3 C750.7,239.9 751.9,238.1 752.7,238.5 C753.5,239.0 753.7,241.8 754.2,242.8 C754.8,243.9 755.7,244.1 756.0,244.9 C756.3,245.8 755.9,246.8 756.1,248.0 C756.4,249.2 757.7,250.9 757.6,252.1Z"/>
<path d="M794.5,236.0 C793.7,237.4 795.6,240.7 794.9,241.5 C794.3,242.3 791.9,240.0 790.5,240.6 C789.1,241.1 787.5,245.3 786.6,244.9 C785.7,244.6 786.3,239.6 785.2,238.5 C784.0,237.3 780.7,239.0 779.8,238.1 C778.9,237.1 779.7,234.7 779.7,233.0 C779.8,231.3 779.5,229.6 779.9,228.0 C780.3,226.4 781.0,223.9 782.3,223.4 C783.5,222.9 786.0,224.8 787.4,225.0 C788.8,225.2 789.5,224.6 790.7,224.5 C791.9,224.4 794.0,223.8 794.8,224.6 C795.7,225.4 794.8,227.9 795.6,229.3 C796.4,230.7 799.8,231.9 799.6,233.0 C799.4,234.1 795.3,234.6 794.5,236.0Z"/>
<path d="M805.4,228.6 C805.0,229.3 804.1,230.0 803.3,230.5 C802.5,231.0 801.5,231.5 800.6,231.7 C799.6,231.9 798.6,231.6 797.5,231.6 C796.4,231.5 794.8,231.7 794.1,231.1 C793.4,230.6 793.9,229.1 793.4,228.3 C792.9,227.4 791.1,226.7 791.3,226.0 C791.4,225.3 793.7,224.8 794.3,224.1 C794.9,223.4 794.5,222.4 795.0,221.8 C795.6,221.3 796.7,220.8 797.5,220.7 C798.4,220.6 799.2,221.3 800.3,221.3 C801.4,221.3 803.3,220.3 804.1,220.7 C804.9,221.1 804.5,222.8 804.8,223.7 C805.1,224.6 805.5,225.2 805.6,226.0 C805.7,226.8 805.8,227.8 805.4,228.6Z"/>
<path d="M873.7,263.3 C873.2,264.6 872.1,266.8 870.4,267.3 C868.7,267.8 865.4,266.0 863.4,266.2 C861.3,266.4 859.7,268.4 857.9,268.4 C856.1,268.4 854.1,267.2 852.7,266.3 C851.2,265.4 849.4,264.2 849.2,263.0 C849.0,261.8 851.0,260.1 851.6,259.0 C852.3,257.9 852.7,257.3 853.1,256.3 C853.4,255.3 853.2,254.0 854.0,252.9 C854.8,251.8 856.4,249.8 858.0,249.7 C859.5,249.5 861.5,251.5 863.3,251.9 C865.1,252.4 867.3,251.8 868.5,252.4 C869.7,253.1 869.9,254.6 870.7,255.7 C871.5,256.8 872.7,257.7 873.1,259.0 C873.6,260.3 874.1,261.9 873.7,263.3Z"/>
<path d="M936.0,234.4 C935.5,235.7 932.0,237.1 930.0,238.0 C928.1,239.0 926.3,239.3 924.4,240.1 C922.4,240.9 920.5,242.6 918.4,242.9 C916.3,243.2 913.8,242.6 911.9,242.0 C910.0,241.3 908.3,240.2 907.1,239.0 C906.0,237.8 905.0,236.1 905.0,234.6 C905.0,233.2 906.4,231.5 907.3,230.1 C908.2,228.7 909.3,227.8 910.5,226.3 C911.6,224.8 912.4,221.9 914.2,221.2 C916.0,220.5 919.0,222.1 921.4,222.1 C923.9,222.1 926.6,220.7 928.9,221.0 C931.2,221.3 934.5,222.4 935.1,223.8 C935.7,225.3 932.5,228.0 932.6,229.8 C932.8,231.5 936.4,233.0 936.0,234.4Z"/>
<path d="M993.8,226.4 C993.1,227.9 991.4,228.7 990.3,229.5 C989.1,230.4 988.1,231.4 986.9,231.6 C985.7,231.8 984.7,230.9 983.2,230.9 C981.8,230.9 979.1,232.8 978.3,231.8 C977.5,230.8 978.3,226.9 978.3,225.1 C978.3,223.3 978.2,222.4 978.3,221.0 C978.3,219.6 978.1,218.2 978.4,216.9 C978.8,215.7 979.7,214.6 980.5,213.7 C981.3,212.8 982.3,211.8 983.3,211.5 C984.3,211.2 985.7,211.4 986.6,211.8 C987.6,212.3 988.2,213.6 989.1,214.4 C990.0,215.2 991.0,215.7 991.8,216.8 C992.7,217.9 993.9,219.4 994.2,221.0 C994.6,222.6 994.4,225.0 993.8,226.4Z"/>
<path d="M704.1,357.3 C703.3,358.7 702.5,360.0 701.3,361.1 C700.1,362.2 698.3,363.8 696.8,363.8 C695.2,363.7 693.6,361.1 692.0,360.6 C690.4,360.1 688.7,361.0 687.2,360.6 C685.6,360.1 683.6,359.1 682.7,357.8 C681.8,356.5 681.4,354.5 681.7,353.0 C682.0,351.5 683.2,349.9 684.4,348.9 C685.6,348.0 687.6,348.0 688.8,347.3 C690.1,346.6 690.5,345.6 691.8,344.7 C693.2,343.7 695.7,341.3 696.9,341.8 C698.1,342.3 698.1,346.2 698.9,347.5 C699.8,348.8 701.0,348.6 702.3,349.5 C703.5,350.4 706.2,351.7 706.5,353.0 C706.8,354.3 705.0,356.0 704.1,357.3Z"/>
<path d="M714.8,369.5 C714.6,370.5 713.2,371.5 712.2,372.1 C711.2,372.6 709.8,373.0 708.7,372.9 C707.6,372.9 706.8,372.0 705.5,371.9 C704.3,371.8 702.5,372.9 701.3,372.6 C700.2,372.2 699.1,370.8 698.8,369.7 C698.4,368.6 698.9,367.1 699.1,366.0 C699.3,364.9 699.3,363.7 700.0,362.9 C700.6,362.1 701.9,361.5 702.9,361.2 C703.8,360.9 704.8,361.2 705.7,360.9 C706.7,360.6 707.6,359.6 708.6,359.5 C709.7,359.3 711.5,359.4 712.1,360.1 C712.7,360.8 712.1,362.6 712.3,363.6 C712.5,364.6 712.9,365.0 713.3,366.0 C713.7,367.0 715.0,368.4 714.8,369.5Z"/>
<path d="M748.9,356.5 C747.6,357.5 747.1,357.3 746.4,358.8 C745.7,360.4 745.8,365.3 744.7,365.7 C743.7,366.1 741.5,362.3 740.2,361.2 C739.0,360.1 738.6,359.8 737.3,359.3 C736.0,358.7 733.3,358.8 732.6,357.8 C731.9,356.8 733.4,354.7 733.2,353.0 C733.0,351.3 730.8,348.7 731.5,347.6 C732.1,346.5 735.6,347.4 736.9,346.2 C738.2,345.0 738.1,340.9 739.3,340.5 C740.5,340.1 742.4,343.4 743.9,344.1 C745.4,344.7 746.9,344.0 748.3,344.6 C749.8,345.1 751.8,346.1 752.7,347.5 C753.7,348.9 754.7,351.5 754.1,353.0 C753.4,354.5 750.2,355.6 748.9,356.5Z"/>
<path d="M784,268 C790,262 798,270 808,280 C818,289 830,295 840,304 C845,309 842,316 836,313 C826,306 815,302 805,295 C795,288 780,276 784,268Z"/>
</g>
<ellipse cx="711" cy="276" rx="5" ry="5" fill="#5c5c5c" filter="url(#bl2)"/>
</g>
<rect x="580.3" y="14.5" width="62.3" height="72.5" fill="#000"/>
<rect x="592" y="23" width="44" height="51" fill="#fff"/>
<text x="599" y="54.5" font-size="29" fill="#111" textLength="36" lengthAdjust="spacingAndGlyphs" font-family="Liberation Sans, sans-serif">(b)</text>
<rect x="861" y="355.5" width="136.5" height="57.2" fill="#000"/>
<text x="886.5" y="391.6" font-size="27.5" font-weight="bold" fill="#fff" textLength="83" lengthAdjust="spacingAndGlyphs" font-family="Liberation Sans, sans-serif">20 nm</text>
<rect x="906" y="401.5" width="42" height="3.2" fill="#fff"/>
<text x="862" y="47.4" font-size="21.5" font-weight="bold" font-style="italic" fill="#f2f2f2" textLength="112" lengthAdjust="spacingAndGlyphs" font-family="Liberation Sans, sans-serif">480°C/3h</text>
<path d="M23.0,841.6L31.3,835.9M41.5,841.6L41.5,848.5M41.5,841.6L31.3,835.9M41.5,841.6L51.8,835.9M62.0,841.6L62.0,848.5M62.0,841.6L51.8,835.9M62.0,841.6L72.3,835.9M82.5,841.6L82.5,848.5M82.5,841.6L72.3,835.9M82.5,841.6L92.8,835.9M103.0,841.6L103.0,848.5M103.0,841.6L92.8,835.9M103.0,841.6L113.3,835.9M123.5,841.6L123.5,848.5M123.5,841.6L113.3,835.9M123.5,841.6L133.8,835.9M144.1,841.6L144.1,848.5M144.1,841.6L133.8,835.9M144.1,841.6L154.3,835.9M164.6,841.6L164.6,848.5M164.6,841.6L154.3,835.9M164.6,841.6L174.8,835.9M185.1,841.6L185.1,848.5M185.1,841.6L174.8,835.9M185.1,841.6L195.3,835.9M205.6,841.6L205.6,848.5M205.6,841.6L195.3,835.9M205.6,841.6L215.8,835.9M226.1,841.6L226.1,848.5M226.1,841.6L215.8,835.9M226.1,841.6L236.3,835.9M246.6,841.6L246.6,848.5M246.6,841.6L236.3,835.9M246.6,841.6L256.8,835.9M267.1,841.6L267.1,848.5M267.1,841.6L256.8,835.9M267.1,841.6L277.3,835.9M287.6,841.6L287.6,848.5M287.6,841.6L277.3,835.9M287.6,841.6L297.8,835.9M308.1,841.6L308.1,848.5M308.1,841.6L297.8,835.9M308.1,841.6L318.3,835.9M328.6,841.6L328.6,848.5M328.6,841.6L318.3,835.9M328.6,841.6L338.8,835.9M349.1,841.6L349.1,848.5M349.1,841.6L338.8,835.9M349.1,841.6L359.3,835.9M369.6,841.6L369.6,848.5M369.6,841.6L359.3,835.9M369.6,841.6L379.8,835.9M390.1,841.6L390.1,848.5M390.1,841.6L379.8,835.9M390.1,841.6L400.3,835.9M410.6,841.6L410.6,848.5M410.6,841.6L400.3,835.9M410.6,841.6L420.8,835.9M431.1,841.6L431.1,848.5M431.1,841.6L420.8,835.9M431.1,841.6L441.3,835.9M451.6,841.6L451.6,848.5M451.6,841.6L441.3,835.9M451.6,841.6L459.5,835.9M31.3,824.5L31.3,835.9M31.3,824.5L23.0,818.8M31.3,824.5L41.5,818.8M51.8,824.5L51.8,835.9M51.8,824.5L41.5,818.8M51.8,824.5L62.0,818.8M72.3,824.5L72.3,835.9M72.3,824.5L62.0,818.8M72.3,824.5L82.5,818.8M92.8,824.5L92.8,835.9M92.8,824.5L82.5,818.8M92.8,824.5L103.0,818.8M113.3,824.5L113.3,835.9M113.3,824.5L103.0,818.8M113.3,824.5L123.5,818.8M133.8,824.5L133.8,835.9M133.8,824.5L123.6,818.8M133.8,824.5L144.1,818.8M154.3,824.5L154.3,835.9M154.3,824.5L144.1,818.8M154.3,824.5L164.6,818.8M174.8,824.5L174.8,835.9M174.8,824.5L164.6,818.8M174.8,824.5L185.1,818.8M195.3,824.5L195.3,835.9M195.3,824.5L185.1,818.8M195.3,824.5L205.6,818.8M215.8,824.5L215.8,835.9M215.8,824.5L205.6,818.8M215.8,824.5L226.1,818.8M236.3,824.5L236.3,835.9M236.3,824.5L226.1,818.8M236.3,824.5L246.6,818.8M256.8,824.5L256.8,835.9M256.8,824.5L246.6,818.8M256.8,824.5L267.1,818.8M277.3,824.5L277.3,835.9M277.3,824.5L267.1,818.8M277.3,824.5L287.6,818.8M297.8,824.5L297.8,835.9M297.8,824.5L287.6,818.8M297.8,824.5L308.1,818.8M318.3,824.5L318.3,835.9M318.3,824.5L308.1,818.8M318.3,824.5L328.6,818.8M338.8,824.5L338.8,835.9M338.8,824.5L328.6,818.8M338.8,824.5L349.1,818.8M359.3,824.5L359.3,835.9M359.3,824.5L349.1,818.8M359.3,824.5L369.6,818.8M379.8,824.5L379.8,835.9M379.8,824.5L369.6,818.8M379.8,824.5L390.1,818.8M400.3,824.5L400.3,835.9M400.3,824.5L390.1,818.8M400.3,824.5L410.6,818.8M420.8,824.5L420.8,835.9M420.8,824.5L410.6,818.8M420.8,824.5L431.1,818.8M441.3,824.5L441.3,835.9M441.3,824.5L431.1,818.8M441.3,824.5L451.6,818.8M459.5,824.5L451.6,818.8M23.0,807.5L31.3,801.8M41.5,807.5L41.5,818.8M41.5,807.5L31.3,801.8M41.5,807.5L51.8,801.8M62.0,807.5L62.0,818.8M62.0,807.5L51.8,801.8M62.0,807.5L72.3,801.8M82.5,807.5L82.5,818.8M82.5,807.5L72.3,801.8M82.5,807.5L92.8,801.8M103.0,807.5L103.0,818.8M103.0,807.5L92.8,801.8M103.0,807.5L113.3,801.8M123.5,807.5L123.5,818.8M123.5,807.5L113.3,801.8M123.5,807.5L133.8,801.8M144.1,807.5L144.1,818.8M144.1,807.5L133.8,801.8M144.1,807.5L154.3,801.8M164.6,807.5L164.6,818.8M164.6,807.5L154.3,801.8M164.6,807.5L174.8,801.8M185.1,807.5L185.1,818.8M185.1,807.5L174.8,801.8M185.1,807.5L195.3,801.8M205.6,807.5L205.6,818.8M205.6,807.5L195.3,801.8M205.6,807.5L215.8,801.8M226.1,807.5L226.1,818.8M226.1,807.5L215.8,801.8M226.1,807.5L236.3,801.8M246.6,807.5L246.6,818.8M246.6,807.5L236.3,801.8M246.6,807.5L256.8,801.8M267.1,807.5L267.1,818.8M267.1,807.5L256.8,801.8M267.1,807.5L277.3,801.8M287.6,807.5L287.6,818.8M287.6,807.5L277.3,801.8M287.6,807.5L297.8,801.8M410.6,807.5L420.8,801.8M431.1,807.5L431.1,818.8M431.1,807.5L420.8,801.8M431.1,807.5L441.3,801.8M451.6,807.5L451.6,818.8M451.6,807.5L441.3,801.8M451.6,807.5L459.5,801.8M31.3,790.4L31.3,801.8M31.3,790.4L23.0,784.7M31.3,790.4L41.5,784.7M51.8,790.4L51.8,801.8M51.8,790.4L41.5,784.7M51.8,790.4L62.0,784.7M72.3,790.4L72.3,801.8M72.3,790.4L62.0,784.7M72.3,790.4L82.5,784.7M92.8,790.4L92.8,801.8M92.8,790.4L82.5,784.7M92.8,790.4L103.0,784.7M113.3,790.4L113.3,801.8M113.3,790.4L103.0,784.7M113.3,790.4L123.5,784.7M133.8,790.4L133.8,801.8M133.8,790.4L123.6,784.7M133.8,790.4L144.1,784.7M154.3,790.4L154.3,801.8M154.3,790.4L144.1,784.7M154.3,790.4L164.6,784.7M174.8,790.4L174.8,801.8M174.8,790.4L164.6,784.7M174.8,790.4L185.1,784.7M195.3,790.4L195.3,801.8M195.3,790.4L185.1,784.7M195.3,790.4L205.6,784.7M215.8,790.4L215.8,801.8M215.8,790.4L205.6,784.7M215.8,790.4L226.1,784.7M236.3,790.4L236.3,801.8M236.3,790.4L226.1,784.7M236.3,790.4L246.6,784.7M256.8,790.4L256.8,801.8M256.8,790.4L246.6,784.7M256.8,790.4L267.1,784.7M277.3,790.4L277.3,801.8M277.3,790.4L267.1,784.7M277.3,790.4L287.6,784.7M297.8,790.4L297.8,801.8M297.8,790.4L287.6,784.7M420.8,790.4L420.8,801.8M420.8,790.4L410.6,784.7M420.8,790.4L431.1,784.7M441.3,790.4L441.3,801.8M441.3,790.4L431.1,784.7M441.3,790.4L451.6,784.7M459.5,790.4L451.6,784.7M23.0,773.4L31.3,767.7M41.5,773.4L41.5,784.7M41.5,773.4L31.3,767.7M41.5,773.4L51.8,767.7M62.0,773.4L62.0,784.7M62.0,773.4L51.8,767.7M62.0,773.4L72.3,767.7M82.5,773.4L82.5,784.7M82.5,773.4L72.3,767.7M82.5,773.4L92.8,767.7M103.0,773.4L103.0,784.7M103.0,773.4L92.8,767.7M103.0,773.4L113.3,767.7M123.5,773.4L123.5,784.7M123.5,773.4L113.3,767.7M123.5,773.4L133.8,767.7M144.1,773.4L144.1,784.7M144.1,773.4L133.8,767.7M144.1,773.4L154.3,767.7M164.6,773.4L164.6,784.7M164.6,773.4L154.3,767.7M164.6,773.4L174.8,767.7M185.1,773.4L185.1,784.7M185.1,773.4L174.8,767.7M185.1,773.4L195.3,767.7M205.6,773.4L205.6,784.7M205.6,773.4L195.3,767.7M205.6,773.4L215.8,767.7M226.1,773.4L226.1,784.7M226.1,773.4L215.8,767.7M226.1,773.4L236.3,767.7M246.6,773.4L246.6,784.7M246.6,773.4L236.3,767.7M246.6,773.4L256.8,767.7M267.1,773.4L267.1,784.7M267.1,773.4L256.8,767.7M267.1,773.4L277.3,767.7M287.6,773.4L287.6,784.7M287.6,773.4L277.3,767.7M287.6,773.4L297.8,767.7M308.1,773.4L297.8,767.7M308.1,773.4L318.3,767.7M328.6,773.4L318.3,767.7M328.6,773.4L338.8,767.7M349.1,773.4L338.8,767.7M349.1,773.4L359.3,767.7M369.6,773.4L359.3,767.7M369.6,773.4L379.8,767.7M390.1,773.4L379.8,767.7M390.1,773.4L400.3,767.7M410.6,773.4L400.3,767.7M410.6,773.4L420.8,767.7M431.1,773.4L431.1,784.7M431.1,773.4L420.8,767.7M431.1,773.4L441.3,767.7M451.6,773.4L451.6,784.7M451.6,773.4L441.3,767.7M451.6,773.4L459.5,767.7M31.3,756.3L31.3,767.7M31.3,756.3L23.0,750.6M31.3,756.3L41.5,750.6M51.8,756.3L51.8,767.7M51.8,756.3L41.5,750.6M51.8,756.3L62.0,750.6M72.3,756.3L72.3,767.7M72.3,756.3L62.0,750.6M72.3,756.3L82.5,750.6M92.8,756.3L92.8,767.7M92.8,756.3L82.5,750.6M92.8,756.3L103.0,750.6M113.3,756.3L113.3,767.7M113.3,756.3L103.0,750.6M113.3,756.3L123.5,750.6M133.8,756.3L133.8,767.7M133.8,756.3L123.6,750.6M133.8,756.3L144.1,750.6M154.3,756.3L154.3,767.7M154.3,756.3L144.1,750.6M154.3,756.3L164.6,750.6M174.8,756.3L174.8,767.7M174.8,756.3L164.6,750.6M174.8,756.3L185.1,750.6M195.3,756.3L195.3,767.7M195.3,756.3L185.1,750.6M195.3,756.3L205.6,750.6M215.8,756.3L215.8,767.7M215.8,756.3L205.6,750.6M215.8,756.3L226.1,750.6M236.3,756.3L236.3,767.7M236.3,756.3L226.1,750.6M236.3,756.3L246.6,750.6M256.8,756.3L256.8,767.7M256.8,756.3L246.6,750.6M256.8,756.3L267.1,750.6M277.3,756.3L277.3,767.7M277.3,756.3L267.1,750.6M277.3,756.3L287.6,750.6M297.8,756.3L297.8,767.7M297.8,756.3L287.6,750.6M297.8,756.3L308.1,750.6M318.3,756.3L318.3,767.7M318.3,756.3L308.1,750.6M318.3,756.3L328.6,750.6M338.8,756.3L338.8,767.7M338.8,756.3L328.6,750.6M338.8,756.3L349.1,750.6M359.3,756.3L359.3,767.7M359.3,756.3L349.1,750.6M359.3,756.3L369.6,750.6M379.8,756.3L379.8,767.7M379.8,756.3L369.6,750.6M379.8,756.3L390.1,750.6M400.3,756.3L400.3,767.7M400.3,756.3L390.1,750.6M400.3,756.3L410.6,750.6M420.8,756.3L420.8,767.7M420.8,756.3L410.6,750.6M420.8,756.3L431.1,750.6M441.3,756.3L441.3,767.7M441.3,756.3L431.1,750.6M441.3,756.3L451.6,750.6M459.5,756.3L451.6,750.6M23.0,739.3L31.3,733.6M41.5,739.3L41.5,750.6M41.5,739.3L31.3,733.6M41.5,739.3L51.8,733.6M62.0,739.3L62.0,750.6M62.0,739.3L51.8,733.6M62.0,739.3L72.3,733.6M82.5,739.3L82.5,750.6M82.5,739.3L72.3,733.6M82.5,739.3L92.8,733.6M103.0,739.3L103.0,750.6M103.0,739.3L92.8,733.6M103.0,739.3L113.3,733.6M123.5,739.3L123.5,750.6M123.5,739.3L113.3,733.6M123.5,739.3L133.8,733.6M144.1,739.3L144.1,750.6M144.1,739.3L133.8,733.6M144.1,739.3L154.3,733.6M164.6,739.3L164.6,750.6M164.6,739.3L154.3,733.6M164.6,739.3L174.8,733.6M185.1,739.3L185.1,750.6M185.1,739.3L174.8,733.6M185.1,739.3L195.3,733.6M205.6,739.3L205.6,750.6M205.6,739.3L195.3,733.6M226.1,739.3L226.1,750.6M246.6,739.3L246.6,750.6M267.1,739.3L267.1,750.6M287.6,739.3L287.6,750.6M287.6,739.3L277.3,733.6M287.6,739.3L297.8,733.6M308.1,739.3L308.1,750.6M308.1,739.3L297.8,733.6M308.1,739.3L318.3,733.6M328.6,739.3L328.6,750.6M328.6,739.3L318.3,733.6M328.6,739.3L338.8,733.6M349.1,739.3L349.1,750.6M349.1,739.3L338.8,733.6M349.1,739.3L359.3,733.6M369.6,739.3L369.6,750.6M369.6,739.3L359.3,733.6M369.6,739.3L379.8,733.6M390.1,739.3L390.1,750.6M390.1,739.3L379.8,733.6M390.1,739.3L400.3,733.6M410.6,739.3L410.6,750.6M410.6,739.3L400.3,733.6M410.6,739.3L420.8,733.6M431.1,739.3L431.1,750.6M431.1,739.3L420.8,733.6M431.1,739.3L441.3,733.6M451.6,739.3L451.6,750.6M451.6,739.3L441.3,733.6M451.6,739.3L459.5,733.6M31.3,722.2L31.3,733.6M31.3,722.2L23.0,716.5M31.3,722.2L41.5,716.5M51.8,722.2L51.8,733.6M51.8,722.2L41.5,716.5M51.8,722.2L62.0,716.5M72.3,722.2L72.3,733.6M72.3,722.2L62.0,716.5M72.3,722.2L82.5,716.5M92.8,722.2L92.8,733.6M92.8,722.2L82.5,716.5M92.8,722.2L103.0,716.5M113.3,722.2L113.3,733.6M113.3,722.2L103.0,716.5M113.3,722.2L123.5,716.5M133.8,722.2L133.8,733.6M133.8,722.2L123.6,716.5M133.8,722.2L144.1,716.5M154.3,722.2L154.3,733.6M154.3,722.2L144.1,716.5M154.3,722.2L164.6,716.5M174.8,722.2L174.8,733.6M174.8,722.2L164.6,716.5M297.8,722.2L297.8,733.6M318.3,722.2L318.3,733.6M318.3,722.2L308.1,716.5M318.3,722.2L328.6,716.5M338.8,722.2L338.8,733.6M338.8,722.2L328.6,716.5M338.8,722.2L349.1,716.5M359.3,722.2L359.3,733.6M359.3,722.2L349.1,716.5M359.3,722.2L369.6,716.5M379.8,722.2L379.8,733.6M379.8,722.2L369.6,716.5M379.8,722.2L390.1,716.5M400.3,722.2L400.3,733.6M400.3,722.2L390.1,716.5M400.3,722.2L410.6,716.5M420.8,722.2L420.8,733.6M420.8,722.2L410.6,716.5M420.8,722.2L431.1,716.5M441.3,722.2L441.3,733.6M441.3,722.2L431.1,716.5M441.3,722.2L451.6,716.5M459.5,722.2L451.6,716.5M23.0,705.2L31.3,699.5M41.5,705.2L41.5,716.5M41.5,705.2L31.3,699.5M41.5,705.2L51.8,699.5M62.0,705.2L62.0,716.5M62.0,705.2L51.8,699.5M62.0,705.2L72.3,699.5M82.5,705.2L82.5,716.5M82.5,705.2L72.3,699.5M82.5,705.2L92.8,699.5M103.0,705.2L103.0,716.5M103.0,705.2L92.8,699.5M103.0,705.2L113.3,699.5M123.5,705.2L123.5,716.5M123.5,705.2L113.3,699.5M123.5,705.2L133.8,699.5M144.1,705.2L144.1,716.5M144.1,705.2L133.8,699.5M144.1,705.2L154.3,699.5M164.6,705.2L164.6,716.5M328.6,705.2L328.6,716.5M328.6,705.2L318.3,699.5M328.6,705.2L338.8,699.5M349.1,705.2L349.1,716.5M349.1,705.2L338.8,699.5M349.1,705.2L359.3,699.5M369.6,705.2L369.6,716.5M369.6,705.2L359.3,699.5M369.6,705.2L379.8,699.5M390.1,705.2L390.1,716.5M390.1,705.2L379.8,699.5M390.1,705.2L400.3,699.5M410.6,705.2L410.6,716.5M410.6,705.2L400.3,699.5M410.6,705.2L420.8,699.5M431.1,705.2L431.1,716.5M431.1,705.2L420.8,699.5M431.1,705.2L441.3,699.5M451.6,705.2L451.6,716.5M451.6,705.2L441.3,699.5M451.6,705.2L459.5,699.5M31.3,688.1L31.3,699.5M31.3,688.1L23.0,682.4M31.3,688.1L41.5,682.4M51.8,688.1L51.8,699.5M51.8,688.1L41.5,682.4M51.8,688.1L62.0,682.4M72.3,688.1L72.3,699.5M72.3,688.1L62.0,682.4M72.3,688.1L82.5,682.4M92.8,688.1L92.8,699.5M92.8,688.1L82.5,682.4M92.8,688.1L103.0,682.4M113.3,688.1L113.3,699.5M113.3,688.1L103.0,682.4M113.3,688.1L123.5,682.4M133.8,688.1L133.8,699.5M133.8,688.1L123.6,682.4M133.8,688.1L144.1,682.4M154.3,688.1L144.1,682.4M338.8,688.1L338.8,699.5M338.8,688.1L328.6,682.4M338.8,688.1L349.1,682.4M359.3,688.1L359.3,699.5M359.3,688.1L349.1,682.4M359.3,688.1L369.6,682.4M379.8,688.1L379.8,699.5M379.8,688.1L369.6,682.4M379.8,688.1L390.1,682.4M400.3,688.1L400.3,699.5M400.3,688.1L390.1,682.4M400.3,688.1L410.6,682.4M420.8,688.1L420.8,699.5M420.8,688.1L410.6,682.4M420.8,688.1L431.1,682.4M441.3,688.1L441.3,699.5M441.3,688.1L431.1,682.4M441.3,688.1L451.6,682.4M459.5,688.1L451.6,682.4M23.0,671.1L31.3,665.4M41.5,671.1L41.5,682.4M41.5,671.1L31.3,665.4M41.5,671.1L51.8,665.4M62.0,671.1L62.0,682.4M62.0,671.1L51.8,665.4M62.0,671.1L72.3,665.4M82.5,671.1L82.5,682.4M82.5,671.1L72.3,665.4M82.5,671.1L92.8,665.4M103.0,671.1L103.0,682.4M103.0,671.1L92.8,665.4M103.0,671.1L113.3,665.4M123.5,671.1L123.5,682.4M123.5,671.1L113.3,665.4M123.5,671.1L133.8,665.4M144.1,671.1L144.1,682.4M144.1,671.1L133.8,665.4M349.1,671.1L349.1,682.4M349.1,671.1L338.8,665.4M349.1,671.1L359.3,665.4M369.6,671.1L369.6,682.4M369.6,671.1L359.3,665.4M369.6,671.1L379.8,665.4M390.1,671.1L390.1,682.4M390.1,671.1L379.8,665.4M390.1,671.1L400.3,665.4M410.6,671.1L410.6,682.4M431.1,671.1L431.1,682.4M451.6,671.1L451.6,682.4M451.6,671.1L459.5,665.4M31.3,654.0L31.3,665.4M31.3,654.0L23.0,648.3M31.3,654.0L41.5,648.3M51.8,654.0L51.8,665.4M51.8,654.0L41.5,648.3M51.8,654.0L62.0,648.3M72.3,654.0L72.3,665.4M72.3,654.0L62.0,648.3M72.3,654.0L82.5,648.3M92.8,654.0L92.8,665.4M92.8,654.0L82.5,648.3M92.8,654.0L103.0,648.3M113.3,654.0L113.3,665.4M113.3,654.0L103.0,648.3M113.3,654.0L123.5,648.3M133.8,654.0L133.8,665.4M133.8,654.0L123.6,648.3M133.8,654.0L144.1,648.3M338.8,654.0L338.8,665.4M338.8,654.0L349.1,648.3M359.3,654.0L359.3,665.4M359.3,654.0L349.1,648.3M359.3,654.0L369.6,648.3M379.8,654.0L379.8,665.4M379.8,654.0L369.6,648.3M379.8,654.0L390.1,648.3M400.3,654.0L390.1,648.3M459.5,654.0L451.6,648.3M23.0,637.0L31.3,631.3M41.5,637.0L41.5,648.3M41.5,637.0L31.3,631.3M41.5,637.0L51.8,631.3M62.0,637.0L62.0,648.3M62.0,637.0L51.8,631.3M62.0,637.0L72.3,631.3M82.5,637.0L82.5,648.3M82.5,637.0L72.3,631.3M82.5,637.0L92.8,631.3M103.0,637.0L103.0,648.3M103.0,637.0L92.8,631.3M103.0,637.0L113.3,631.3M123.5,637.0L123.5,648.3M123.5,637.0L113.3,631.3M123.5,637.0L133.8,631.3M144.1,637.0L133.8,631.3M349.1,637.0L349.1,648.3M349.1,637.0L338.8,631.3M349.1,637.0L359.3,631.3M369.6,637.0L369.6,648.3M369.6,637.0L359.3,631.3M369.6,637.0L379.8,631.3M390.1,637.0L390.1,648.3M390.1,637.0L379.8,631.3M390.1,637.0L400.3,631.3M451.6,637.0L459.5,631.3M31.3,619.9L31.3,631.3M31.3,619.9L23.0,614.2M31.3,619.9L41.5,614.2M51.8,619.9L51.8,631.3M51.8,619.9L41.5,614.2M51.8,619.9L62.0,614.2M72.3,619.9L72.3,631.3M72.3,619.9L62.0,614.2M72.3,619.9L82.5,614.2M92.8,619.9L92.8,631.3M92.8,619.9L82.5,614.2M92.8,619.9L103.0,614.2M113.3,619.9L113.3,631.3M113.3,619.9L103.0,614.2M113.3,619.9L123.5,614.2M133.8,619.9L133.8,631.3M133.8,619.9L123.6,614.2M133.8,619.9L144.1,614.2M338.8,619.9L338.8,631.3M338.8,619.9L349.1,614.2M359.3,619.9L359.3,631.3M359.3,619.9L349.1,614.2M359.3,619.9L369.6,614.2M379.8,619.9L379.8,631.3M379.8,619.9L369.6,614.2M379.8,619.9L390.1,614.2M400.3,619.9L400.3,631.3M400.3,619.9L390.1,614.2M400.3,619.9L410.6,614.2M420.8,619.9L420.8,631.3M420.8,619.9L410.6,614.2M420.8,619.9L431.1,614.2M441.3,619.9L441.3,631.3M441.3,619.9L431.1,614.2M441.3,619.9L451.6,614.2M459.5,619.9L451.6,614.2M23.0,602.9L31.3,597.2M41.5,602.9L41.5,614.2M41.5,602.9L31.3,597.2M41.5,602.9L51.8,597.2M62.0,602.9L62.0,614.2M62.0,602.9L51.8,597.2M62.0,602.9L72.3,597.2M82.5,602.9L82.5,614.2M82.5,602.9L72.3,597.2M82.5,602.9L92.8,597.2M103.0,602.9L103.0,614.2M103.0,602.9L92.8,597.2M103.0,602.9L113.3,597.2M123.5,602.9L123.5,614.2M123.5,602.9L113.3,597.2M123.5,602.9L133.8,597.2M144.1,602.9L144.1,614.2M144.1,602.9L133.8,597.2M144.1,602.9L154.3,597.2M328.6,602.9L338.8,597.2M349.1,602.9L349.1,614.2M349.1,602.9L338.8,597.2M349.1,602.9L359.3,597.2M369.6,602.9L369.6,614.2M369.6,602.9L359.3,597.2M369.6,602.9L379.8,597.2M390.1,602.9L390.1,614.2M390.1,602.9L379.8,597.2M390.1,602.9L400.3,597.2M410.6,602.9L410.6,614.2M410.6,602.9L400.3,597.2M410.6,602.9L420.8,597.2M431.1,602.9L431.1,614.2M431.1,602.9L420.8,597.2M431.1,602.9L441.3,597.2M451.6,602.9L451.6,614.2M451.6,602.9L441.3,597.2M451.6,602.9L459.5,597.2M31.3,585.8L31.3,597.2M31.3,585.8L23.0,580.1M31.3,585.8L41.5,580.1M51.8,585.8L51.8,597.2M51.8,585.8L41.5,580.1M51.8,585.8L62.0,580.1M72.3,585.8L72.3,597.2M72.3,585.8L62.0,580.1M72.3,585.8L82.5,580.1M92.8,585.8L92.8,597.2M92.8,585.8L82.5,580.1M92.8,585.8L103.0,580.1M113.3,585.8L113.3,597.2M113.3,585.8L103.0,580.1M113.3,585.8L123.5,580.1M133.8,585.8L133.8,597.2M133.8,585.8L123.6,580.1M133.8,585.8L144.1,580.1M154.3,585.8L154.3,597.2M154.3,585.8L144.1,580.1M154.3,585.8L164.6,580.1M318.3,585.8L328.6,580.1M338.8,585.8L338.8,597.2M338.8,585.8L328.6,580.1M338.8,585.8L349.1,580.1M359.3,585.8L359.3,597.2M359.3,585.8L349.1,580.1M359.3,585.8L369.6,580.1M379.8,585.8L379.8,597.2M379.8,585.8L369.6,580.1M379.8,585.8L390.1,580.1M400.3,585.8L400.3,597.2M400.3,585.8L390.1,580.1M400.3,585.8L410.6,580.1M420.8,585.8L420.8,597.2M420.8,585.8L410.6,580.1M420.8,585.8L431.1,580.1M441.3,585.8L441.3,597.2M441.3,585.8L431.1,580.1M441.3,585.8L451.6,580.1M459.5,585.8L451.6,580.1M23.0,568.8L31.3,563.1M41.5,568.8L41.5,580.1M41.5,568.8L31.3,563.1M41.5,568.8L51.8,563.1M62.0,568.8L62.0,580.1M62.0,568.8L51.8,563.1M62.0,568.8L72.3,563.1M82.5,568.8L82.5,580.1M82.5,568.8L72.3,563.1M82.5,568.8L92.8,563.1M103.0,568.8L103.0,580.1M103.0,568.8L92.8,563.1M103.0,568.8L113.3,563.1M123.5,568.8L123.5,580.1M123.5,568.8L113.3,563.1M123.5,568.8L133.8,563.1M144.1,568.8L144.1,580.1M144.1,568.8L133.8,563.1M144.1,568.8L154.3,563.1M164.6,568.8L164.6,580.1M164.6,568.8L154.3,563.1M164.6,568.8L174.8,563.1M185.1,568.8L174.8,563.1M287.6,568.8L297.8,563.1M308.1,568.8L308.1,580.1M308.1,568.8L297.8,563.1M308.1,568.8L318.3,563.1M328.6,568.8L328.6,580.1M328.6,568.8L318.3,563.1M328.6,568.8L338.8,563.1M349.1,568.8L349.1,580.1M349.1,568.8L338.8,563.1M349.1,568.8L359.3,563.1M369.6,568.8L369.6,580.1M369.6,568.8L359.3,563.1M369.6,568.8L379.8,563.1M390.1,568.8L390.1,580.1M390.1,568.8L379.8,563.1M390.1,568.8L400.3,563.1M410.6,568.8L410.6,580.1M410.6,568.8L400.3,563.1M410.6,568.8L420.8,563.1M431.1,568.8L431.1,580.1M431.1,568.8L420.8,563.1M431.1,568.8L441.3,563.1M451.6,568.8L451.6,580.1M451.6,568.8L441.3,563.1M451.6,568.8L459.5,563.1M31.3,551.7L31.3,563.1M31.3,551.7L23.0,546.0M31.3,551.7L41.5,546.0M51.8,551.7L51.8,563.1M51.8,551.7L41.5,546.0M51.8,551.7L62.0,546.0M72.3,551.7L72.3,563.1M72.3,551.7L62.0,546.0M72.3,551.7L82.5,546.0M92.8,551.7L92.8,563.1M92.8,551.7L82.5,546.0M92.8,551.7L103.0,546.0M113.3,551.7L113.3,563.1M113.3,551.7L103.0,546.0M113.3,551.7L123.5,546.0M133.8,551.7L133.8,563.1M133.8,551.7L123.6,546.0M133.8,551.7L144.1,546.0M154.3,551.7L154.3,563.1M154.3,551.7L144.1,546.0M154.3,551.7L164.6,546.0M174.8,551.7L174.8,563.1M174.8,551.7L164.6,546.0M174.8,551.7L185.1,546.0M195.3,551.7L195.3,563.1M195.3,551.7L185.1,546.0M195.3,551.7L205.6,546.0M215.8,551.7L205.6,546.0M215.8,551.7L226.1,546.0M236.3,551.7L226.1,546.0M236.3,551.7L246.6,546.0M256.8,551.7L246.6,546.0M256.8,551.7L267.1,546.0M277.3,551.7L277.3,563.1M277.3,551.7L267.1,546.0M277.3,551.7L287.6,546.0M297.8,551.7L297.8,563.1M297.8,551.7L287.6,546.0M297.8,551.7L308.1,546.0M318.3,551.7L318.3,563.1M318.3,551.7L308.1,546.0M318.3,551.7L328.6,546.0M338.8,551.7L338.8,563.1M338.8,551.7L328.6,546.0M338.8,551.7L349.1,546.0M359.3,551.7L359.3,563.1M359.3,551.7L349.1,546.0M359.3,551.7L369.6,546.0M379.8,551.7L379.8,563.1M379.8,551.7L369.6,546.0M379.8,551.7L390.1,546.0M400.3,551.7L400.3,563.1M400.3,551.7L390.1,546.0M400.3,551.7L410.6,546.0M420.8,551.7L420.8,563.1M420.8,551.7L410.6,546.0M420.8,551.7L431.1,546.0M441.3,551.7L441.3,563.1M441.3,551.7L431.1,546.0M441.3,551.7L451.6,546.0M459.5,551.7L451.6,546.0M164.6,534.7L164.6,546.0M164.6,534.7L174.8,529.0M185.1,534.7L185.1,546.0M185.1,534.7L174.8,529.0M185.1,534.7L195.3,529.0M205.6,534.7L205.6,546.0M205.6,534.7L195.3,529.0M205.6,534.7L215.8,529.0M226.1,534.7L226.1,546.0M226.1,534.7L215.8,529.0M226.1,534.7L236.3,529.0M246.6,534.7L246.6,546.0M246.6,534.7L236.3,529.0M246.6,534.7L256.8,529.0M267.1,534.7L267.1,546.0M267.1,534.7L256.8,529.0M267.1,534.7L277.3,529.0M287.6,534.7L287.6,546.0M287.6,534.7L277.3,529.0M287.6,534.7L297.8,529.0M308.1,534.7L308.1,546.0M308.1,534.7L297.8,529.0M308.1,534.7L318.3,529.0M328.6,534.7L328.6,546.0M328.6,534.7L318.3,529.0M328.6,534.7L338.8,529.0M349.1,534.7L349.1,546.0M349.1,534.7L338.8,529.0M349.1,534.7L359.3,529.0M369.6,534.7L369.6,546.0M369.6,534.7L359.3,529.0M369.6,534.7L379.8,529.0M390.1,534.7L390.1,546.0M390.1,534.7L379.8,529.0M390.1,534.7L400.3,529.0M410.6,534.7L410.6,546.0M410.6,534.7L400.3,529.0M410.6,534.7L420.8,529.0M431.1,534.7L431.1,546.0M431.1,534.7L420.8,529.0M431.1,534.7L441.3,529.0M451.6,534.7L451.6,546.0M451.6,534.7L441.3,529.0M451.6,534.7L459.5,529.0M174.8,517.6L174.8,529.0M174.8,517.6L164.6,511.9M174.8,517.6L185.1,511.9M195.3,517.6L195.3,529.0M195.3,517.6L185.1,511.9M195.3,517.6L205.6,511.9M215.8,517.6L215.8,529.0M215.8,517.6L205.6,511.9M215.8,517.6L226.1,511.9M236.3,517.6L236.3,529.0M236.3,517.6L226.1,511.9M236.3,517.6L246.6,511.9M256.8,517.6L256.8,529.0M256.8,517.6L246.6,511.9M256.8,517.6L267.1,511.9M277.3,517.6L277.3,529.0M277.3,517.6L267.1,511.9M277.3,517.6L287.6,511.9M297.8,517.6L297.8,529.0M297.8,517.6L287.6,511.9M297.8,517.6L308.1,511.9M318.3,517.6L318.3,529.0M318.3,517.6L308.1,511.9M318.3,517.6L328.6,511.9M338.8,517.6L338.8,529.0M338.8,517.6L328.6,511.9M338.8,517.6L349.1,511.9M359.3,517.6L359.3,529.0M359.3,517.6L349.1,511.9M359.3,517.6L369.6,511.9M379.8,517.6L379.8,529.0M379.8,517.6L369.6,511.9M379.8,517.6L390.1,511.9M400.3,517.6L400.3,529.0M400.3,517.6L390.1,511.9M400.3,517.6L410.6,511.9M420.8,517.6L420.8,529.0M420.8,517.6L410.6,511.9M420.8,517.6L431.1,511.9M441.3,517.6L441.3,529.0M441.3,517.6L431.1,511.9M441.3,517.6L451.6,511.9M459.5,517.6L451.6,511.9M23.0,500.6L31.3,494.9M41.5,500.6L31.3,494.9M41.5,500.6L51.8,494.9M62.0,500.6L51.8,494.9M62.0,500.6L72.3,494.9M82.5,500.6L72.3,494.9M82.5,500.6L92.8,494.9M103.0,500.6L92.8,494.9M103.0,500.6L113.3,494.9M123.5,500.6L113.3,494.9M123.5,500.6L133.8,494.9M144.1,500.6L133.8,494.9M144.1,500.6L154.3,494.9M164.6,500.6L164.6,511.9M164.6,500.6L154.3,494.9M164.6,500.6L174.8,494.9M185.1,500.6L185.1,511.9M185.1,500.6L174.8,494.9M185.1,500.6L195.3,494.9M205.6,500.6L205.6,511.9M205.6,500.6L195.3,494.9M205.6,500.6L215.8,494.9M226.1,500.6L226.1,511.9M226.1,500.6L215.8,494.9M226.1,500.6L236.3,494.9M246.6,500.6L246.6,511.9M246.6,500.6L236.3,494.9M246.6,500.6L256.8,494.9M267.1,500.6L267.1,511.9M267.1,500.6L256.8,494.9M267.1,500.6L277.3,494.9M287.6,500.6L287.6,511.9M287.6,500.6L277.3,494.9M287.6,500.6L297.8,494.9M308.1,500.6L308.1,511.9M308.1,500.6L297.8,494.9M308.1,500.6L318.3,494.9M328.6,500.6L328.6,511.9M328.6,500.6L318.3,494.9M328.6,500.6L338.8,494.9M349.1,500.6L349.1,511.9M349.1,500.6L338.8,494.9M369.6,500.6L369.6,511.9M390.1,500.6L390.1,511.9M410.6,500.6L410.6,511.9M431.1,500.6L431.1,511.9M451.6,500.6L451.6,511.9M451.6,500.6L459.5,494.9M31.3,483.5L31.3,494.9M51.8,483.5L51.8,494.9M72.3,483.5L72.3,494.9M72.3,483.5L62.0,477.8M72.3,483.5L82.5,477.8M92.8,483.5L92.8,494.9M92.8,483.5L82.5,477.8M92.8,483.5L103.0,477.8M113.3,483.5L113.3,494.9M113.3,483.5L103.0,477.8M113.3,483.5L123.5,477.8M133.8,483.5L133.8,494.9M133.8,483.5L123.6,477.8M133.8,483.5L144.1,477.8M154.3,483.5L154.3,494.9M154.3,483.5L144.1,477.8M154.3,483.5L164.6,477.8M174.8,483.5L174.8,494.9M174.8,483.5L164.6,477.8M174.8,483.5L185.1,477.8M195.3,483.5L195.3,494.9M195.3,483.5L185.1,477.8M195.3,483.5L205.6,477.8M215.8,483.5L215.8,494.9M215.8,483.5L205.6,477.8M215.8,483.5L226.1,477.8M236.3,483.5L236.3,494.9M236.3,483.5L226.1,477.8M236.3,483.5L246.6,477.8M256.8,483.5L256.8,494.9M256.8,483.5L246.6,477.8M256.8,483.5L267.1,477.8M277.3,483.5L277.3,494.9M277.3,483.5L267.1,477.8M277.3,483.5L287.6,477.8M297.8,483.5L297.8,494.9M297.8,483.5L287.6,477.8M297.8,483.5L308.1,477.8M318.3,483.5L318.3,494.9M318.3,483.5L308.1,477.8M318.3,483.5L328.6,477.8M338.8,483.5L338.8,494.9M338.8,483.5L328.6,477.8M338.8,483.5L349.1,477.8M459.5,483.5L451.6,477.8M62.0,466.5L72.3,460.8M82.5,466.5L82.5,477.8M82.5,466.5L72.3,460.8M82.5,466.5L92.8,460.8M103.0,466.5L103.0,477.8M103.0,466.5L92.8,460.8M103.0,466.5L113.3,460.8M123.5,466.5L123.5,477.8M123.5,466.5L113.3,460.8M123.5,466.5L133.8,460.8M144.1,466.5L144.1,477.8M144.1,466.5L133.8,460.8M144.1,466.5L154.3,460.8M164.6,466.5L164.6,477.8M164.6,466.5L154.3,460.8M164.6,466.5L174.8,460.8M185.1,466.5L185.1,477.8M185.1,466.5L174.8,460.8M185.1,466.5L195.3,460.8M205.6,466.5L205.6,477.8M205.6,466.5L195.3,460.8M205.6,466.5L215.8,460.8M226.1,466.5L226.1,477.8M226.1,466.5L215.8,460.8M226.1,466.5L236.3,460.8M246.6,466.5L246.6,477.8M246.6,466.5L236.3,460.8M246.6,466.5L256.8,460.8M267.1,466.5L267.1,477.8M267.1,466.5L256.8,460.8M267.1,466.5L277.3,460.8M287.6,466.5L287.6,477.8M287.6,466.5L277.3,460.8M287.6,466.5L297.8,460.8M308.1,466.5L308.1,477.8M308.1,466.5L297.8,460.8M308.1,466.5L318.3,460.8M328.6,466.5L328.6,477.8M328.6,466.5L318.3,460.8M328.6,466.5L338.8,460.8M349.1,466.5L349.1,477.8M349.1,466.5L338.8,460.8M349.1,466.5L359.3,460.8M369.6,466.5L359.3,460.8M369.6,466.5L379.8,460.8M390.1,466.5L379.8,460.8M390.1,466.5L400.3,460.8M410.6,466.5L400.3,460.8M410.6,466.5L420.8,460.8M431.1,466.5L420.8,460.8M431.1,466.5L441.3,460.8M451.6,466.5L451.6,477.8M451.6,466.5L441.3,460.8M451.6,466.5L459.5,460.8M72.3,456.0L72.3,460.8M92.8,456.0L92.8,460.8M113.3,456.0L113.3,460.8M133.8,456.0L133.8,460.8M154.3,456.0L154.3,460.8M174.8,456.0L174.8,460.8M195.3,456.0L195.3,460.8M215.8,456.0L215.8,460.8M236.3,456.0L236.3,460.8M256.8,456.0L256.8,460.8M277.3,456.0L277.3,460.8M297.8,456.0L297.8,460.8M318.3,456.0L318.3,460.8M338.8,456.0L338.8,460.8M359.3,456.0L359.3,460.8M379.8,456.0L379.8,460.8M400.3,456.0L400.3,460.8M420.8,456.0L420.8,460.8M441.3,456.0L441.3,460.8" stroke="#78788a" stroke-width="2.5" stroke-linecap="round" fill="none"/>
<path d="M205.6,739.3L215.8,733.6M226.1,739.3L215.8,733.6M226.1,739.3L236.3,733.6M246.6,739.3L236.3,733.6M246.6,739.3L256.8,733.6M267.1,739.3L256.8,733.6M267.1,739.3L277.3,733.6M174.8,722.2L185.1,716.5M195.3,722.2L195.3,733.6M195.3,722.2L185.1,716.5M195.3,722.2L205.6,716.5M215.8,722.2L215.8,733.6M215.8,722.2L205.6,716.5M215.8,722.2L226.1,716.5M236.3,722.2L236.3,733.6M236.3,722.2L226.1,716.5M236.3,722.2L246.6,716.5M256.8,722.2L256.8,733.6M256.8,722.2L246.6,716.5M256.8,722.2L267.1,716.5M277.3,722.2L277.3,733.6M277.3,722.2L267.1,716.5M277.3,722.2L287.6,716.5M297.8,722.2L287.6,716.5M297.8,722.2L308.1,716.5M164.6,705.2L154.3,699.5M164.6,705.2L174.8,699.5M185.1,705.2L185.1,716.5M185.1,705.2L174.8,699.5M185.1,705.2L195.3,699.5M205.6,705.2L205.6,716.5M287.6,705.2L287.6,716.5M287.6,705.2L297.8,699.5M308.1,705.2L308.1,716.5M308.1,705.2L297.8,699.5M308.1,705.2L318.3,699.5M154.3,688.1L154.3,699.5M154.3,688.1L164.6,682.4M174.8,688.1L174.8,699.5M174.8,688.1L164.6,682.4M174.8,688.1L185.1,682.4M297.8,688.1L297.8,699.5M297.8,688.1L308.1,682.4M318.3,688.1L318.3,699.5M318.3,688.1L308.1,682.4M318.3,688.1L328.6,682.4M144.1,671.1L154.3,665.4M164.6,671.1L164.6,682.4M164.6,671.1L154.3,665.4M164.6,671.1L174.8,665.4M308.1,671.1L308.1,682.4M308.1,671.1L318.3,665.4M328.6,671.1L328.6,682.4M328.6,671.1L318.3,665.4M328.6,671.1L338.8,665.4M154.3,654.0L154.3,665.4M154.3,654.0L144.1,648.3M154.3,654.0L164.6,648.3M318.3,654.0L318.3,665.4M318.3,654.0L308.1,648.3M318.3,654.0L328.6,648.3M338.8,654.0L328.6,648.3M144.1,637.0L144.1,648.3M144.1,637.0L154.3,631.3M164.6,637.0L164.6,648.3M164.6,637.0L154.3,631.3M164.6,637.0L174.8,631.3M308.1,637.0L318.3,631.3M328.6,637.0L328.6,648.3M328.6,637.0L318.3,631.3M328.6,637.0L338.8,631.3M154.3,619.9L154.3,631.3M154.3,619.9L144.1,614.2M154.3,619.9L164.6,614.2M174.8,619.9L164.6,614.2M318.3,619.9L318.3,631.3M318.3,619.9L308.1,614.2M318.3,619.9L328.6,614.2M338.8,619.9L328.6,614.2M164.6,602.9L164.6,614.2M164.6,602.9L154.3,597.2M164.6,602.9L174.8,597.2M185.1,602.9L174.8,597.2M287.6,602.9L297.8,597.2M308.1,602.9L308.1,614.2M308.1,602.9L297.8,597.2M308.1,602.9L318.3,597.2M328.6,602.9L328.6,614.2M328.6,602.9L318.3,597.2M174.8,585.8L174.8,597.2M174.8,585.8L164.6,580.1M174.8,585.8L185.1,580.1M195.3,585.8L195.3,597.2M195.3,585.8L185.1,580.1M195.3,585.8L205.6,580.1M215.8,585.8L205.6,580.1M277.3,585.8L267.1,580.1M277.3,585.8L287.6,580.1M297.8,585.8L297.8,597.2M297.8,585.8L287.6,580.1M297.8,585.8L308.1,580.1M318.3,585.8L318.3,597.2M318.3,585.8L308.1,580.1M185.1,568.8L185.1,580.1M185.1,568.8L195.3,563.1M205.6,568.8L205.6,580.1M205.6,568.8L195.3,563.1M205.6,568.8L215.8,563.1M226.1,568.8L226.1,580.1M226.1,568.8L215.8,563.1M226.1,568.8L236.3,563.1M246.6,568.8L246.6,580.1M246.6,568.8L236.3,563.1M246.6,568.8L256.8,563.1M267.1,568.8L267.1,580.1M267.1,568.8L256.8,563.1M267.1,568.8L277.3,563.1M287.6,568.8L287.6,580.1M287.6,568.8L277.3,563.1M215.8,551.7L215.8,563.1M236.3,551.7L236.3,563.1M256.8,551.7L256.8,563.1" stroke="#a4a4b0" stroke-width="3" fill="none"/>
<defs><radialGradient id="qmc" cx="35%" cy="30%" r="70%"><stop offset="0" stop-color="#e4e4ec"/><stop offset="0.5" stop-color="#9a9aa8"/><stop offset="1" stop-color="#5a5a68"/></radialGradient><radialGradient id="qmh" cx="35%" cy="30%" r="70%"><stop offset="0" stop-color="#ffffff"/><stop offset="0.6" stop-color="#d4d4dc"/><stop offset="1" stop-color="#9898a4"/></radialGradient></defs>
<circle cx="205.6" cy="739.3" r="4.1" fill="url(#qmc)"/>
<circle cx="215.8" cy="733.6" r="4.1" fill="url(#qmc)"/>
<circle cx="226.1" cy="739.3" r="4.1" fill="url(#qmc)"/>
<circle cx="236.3" cy="733.6" r="4.1" fill="url(#qmc)"/>
<circle cx="246.6" cy="739.3" r="4.1" fill="url(#qmc)"/>
<circle cx="256.8" cy="733.6" r="4.1" fill="url(#qmc)"/>
<circle cx="267.1" cy="739.3" r="4.1" fill="url(#qmc)"/>
<circle cx="277.3" cy="733.6" r="4.1" fill="url(#qmc)"/>
<circle cx="174.8" cy="722.2" r="4.1" fill="url(#qmc)"/>
<circle cx="185.1" cy="716.5" r="4.1" fill="url(#qmc)"/>
<circle cx="195.3" cy="722.2" r="4.1" fill="url(#qmc)"/>
<circle cx="195.3" cy="733.6" r="4.1" fill="url(#qmc)"/>
<circle cx="205.6" cy="716.5" r="4.1" fill="url(#qmc)"/>
<circle cx="215.8" cy="722.2" r="4.1" fill="url(#qmc)"/>
<circle cx="226.1" cy="716.5" r="3.1" fill="url(#qmh)"/>
<circle cx="236.3" cy="722.2" r="4.1" fill="url(#qmc)"/>
<circle cx="246.6" cy="716.5" r="3.1" fill="url(#qmh)"/>
<circle cx="256.8" cy="722.2" r="4.1" fill="url(#qmc)"/>
<circle cx="267.1" cy="716.5" r="4.1" fill="url(#qmc)"/>
<circle cx="277.3" cy="722.2" r="4.1" fill="url(#qmc)"/>
<circle cx="287.6" cy="716.5" r="4.1" fill="url(#qmc)"/>
<circle cx="297.8" cy="722.2" r="4.1" fill="url(#qmc)"/>
<circle cx="308.1" cy="716.5" r="4.1" fill="url(#qmc)"/>
<circle cx="164.6" cy="705.2" r="4.1" fill="url(#qmc)"/>
<circle cx="154.3" cy="699.5" r="4.1" fill="url(#qmc)"/>
<circle cx="174.8" cy="699.5" r="4.1" fill="url(#qmc)"/>
<circle cx="185.1" cy="705.2" r="4.1" fill="url(#qmc)"/>
<circle cx="195.3" cy="699.5" r="3.1" fill="url(#qmh)"/>
<circle cx="205.6" cy="705.2" r="3.1" fill="url(#qmh)"/>
<circle cx="287.6" cy="705.2" r="4.1" fill="url(#qmc)"/>
<circle cx="297.8" cy="699.5" r="4.1" fill="url(#qmc)"/>
<circle cx="308.1" cy="705.2" r="4.1" fill="url(#qmc)"/>
<circle cx="318.3" cy="699.5" r="4.1" fill="url(#qmc)"/>
<circle cx="154.3" cy="688.1" r="4.1" fill="url(#qmc)"/>
<circle cx="164.6" cy="682.4" r="4.1" fill="url(#qmc)"/>
<circle cx="174.8" cy="688.1" r="4.1" fill="url(#qmc)"/>
<circle cx="185.1" cy="682.4" r="3.1" fill="url(#qmh)"/>
<circle cx="297.8" cy="688.1" r="3.1" fill="url(#qmh)"/>
<circle cx="308.1" cy="682.4" r="4.1" fill="url(#qmc)"/>
<circle cx="318.3" cy="688.1" r="4.1" fill="url(#qmc)"/>
<circle cx="328.6" cy="682.4" r="4.1" fill="url(#qmc)"/>
<circle cx="144.1" cy="671.1" r="4.1" fill="url(#qmc)"/>
<circle cx="154.3" cy="665.4" r="4.1" fill="url(#qmc)"/>
<circle cx="164.6" cy="671.1" r="4.1" fill="url(#qmc)"/>
<circle cx="174.8" cy="665.4" r="3.1" fill="url(#qmh)"/>
<circle cx="308.1" cy="671.1" r="3.1" fill="url(#qmh)"/>
<circle cx="318.3" cy="665.4" r="4.1" fill="url(#qmc)"/>
<circle cx="328.6" cy="671.1" r="4.1" fill="url(#qmc)"/>
<circle cx="338.8" cy="665.4" r="4.1" fill="url(#qmc)"/>
<circle cx="154.3" cy="654.0" r="4.1" fill="url(#qmc)"/>
<circle cx="144.1" cy="648.3" r="4.1" fill="url(#qmc)"/>
<circle cx="164.6" cy="648.3" r="4.1" fill="url(#qmc)"/>
<circle cx="318.3" cy="654.0" r="4.1" fill="url(#qmc)"/>
<circle cx="308.1" cy="648.3" r="3.1" fill="url(#qmh)"/>
<circle cx="328.6" cy="648.3" r="4.1" fill="url(#qmc)"/>
<circle cx="338.8" cy="654.0" r="4.1" fill="url(#qmc)"/>
<circle cx="144.1" cy="637.0" r="4.1" fill="url(#qmc)"/>
<circle cx="154.3" cy="631.3" r="4.1" fill="url(#qmc)"/>
<circle cx="164.6" cy="637.0" r="4.1" fill="url(#qmc)"/>
<circle cx="174.8" cy="631.3" r="3.1" fill="url(#qmh)"/>
<circle cx="308.1" cy="637.0" r="3.1" fill="url(#qmh)"/>
<circle cx="318.3" cy="631.3" r="4.1" fill="url(#qmc)"/>
<circle cx="328.6" cy="637.0" r="4.1" fill="url(#qmc)"/>
<circle cx="338.8" cy="631.3" r="4.1" fill="url(#qmc)"/>
<circle cx="154.3" cy="619.9" r="4.1" fill="url(#qmc)"/>
<circle cx="144.1" cy="614.2" r="4.1" fill="url(#qmc)"/>
<circle cx="164.6" cy="614.2" r="4.1" fill="url(#qmc)"/>
<circle cx="174.8" cy="619.9" r="3.1" fill="url(#qmh)"/>
<circle cx="318.3" cy="619.9" r="4.1" fill="url(#qmc)"/>
<circle cx="308.1" cy="614.2" r="4.1" fill="url(#qmc)"/>
<circle cx="328.6" cy="614.2" r="4.1" fill="url(#qmc)"/>
<circle cx="338.8" cy="619.9" r="4.1" fill="url(#qmc)"/>
<circle cx="164.6" cy="602.9" r="4.1" fill="url(#qmc)"/>
<circle cx="154.3" cy="597.2" r="4.1" fill="url(#qmc)"/>
<circle cx="174.8" cy="597.2" r="4.1" fill="url(#qmc)"/>
<circle cx="185.1" cy="602.9" r="3.1" fill="url(#qmh)"/>
<circle cx="287.6" cy="602.9" r="3.1" fill="url(#qmh)"/>
<circle cx="297.8" cy="597.2" r="4.1" fill="url(#qmc)"/>
<circle cx="308.1" cy="602.9" r="4.1" fill="url(#qmc)"/>
<circle cx="318.3" cy="597.2" r="4.1" fill="url(#qmc)"/>
<circle cx="328.6" cy="602.9" r="4.1" fill="url(#qmc)"/>
<circle cx="174.8" cy="585.8" r="4.1" fill="url(#qmc)"/>
<circle cx="164.6" cy="580.1" r="4.1" fill="url(#qmc)"/>
<circle cx="185.1" cy="580.1" r="4.1" fill="url(#qmc)"/>
<circle cx="195.3" cy="585.8" r="4.1" fill="url(#qmc)"/>
<circle cx="195.3" cy="597.2" r="3.1" fill="url(#qmh)"/>
<circle cx="205.6" cy="580.1" r="4.1" fill="url(#qmc)"/>
<circle cx="215.8" cy="585.8" r="3.1" fill="url(#qmh)"/>
<circle cx="277.3" cy="585.8" r="3.1" fill="url(#qmh)"/>
<circle cx="267.1" cy="580.1" r="3.1" fill="url(#qmh)"/>
<circle cx="287.6" cy="580.1" r="4.1" fill="url(#qmc)"/>
<circle cx="297.8" cy="585.8" r="4.1" fill="url(#qmc)"/>
<circle cx="308.1" cy="580.1" r="4.1" fill="url(#qmc)"/>
<circle cx="318.3" cy="585.8" r="4.1" fill="url(#qmc)"/>
<circle cx="185.1" cy="568.8" r="4.1" fill="url(#qmc)"/>
<circle cx="195.3" cy="563.1" r="4.1" fill="url(#qmc)"/>
<circle cx="205.6" cy="568.8" r="4.1" fill="url(#qmc)"/>
<circle cx="215.8" cy="563.1" r="4.1" fill="url(#qmc)"/>
<circle cx="226.1" cy="568.8" r="4.1" fill="url(#qmc)"/>
<circle cx="226.1" cy="580.1" r="3.1" fill="url(#qmh)"/>
<circle cx="236.3" cy="563.1" r="4.1" fill="url(#qmc)"/>
<circle cx="246.6" cy="568.8" r="4.1" fill="url(#qmc)"/>
<circle cx="246.6" cy="580.1" r="3.1" fill="url(#qmh)"/>
<circle cx="256.8" cy="563.1" r="4.1" fill="url(#qmc)"/>
<circle cx="267.1" cy="568.8" r="4.1" fill="url(#qmc)"/>
<circle cx="277.3" cy="563.1" r="4.1" fill="url(#qmc)"/>
<circle cx="287.6" cy="568.8" r="4.1" fill="url(#qmc)"/>
<circle cx="215.8" cy="551.7" r="4.1" fill="url(#qmc)"/>
<circle cx="236.3" cy="551.7" r="4.1" fill="url(#qmc)"/>
<circle cx="256.8" cy="551.7" r="4.1" fill="url(#qmc)"/>
<ellipse cx="240.5" cy="647.7" rx="99" ry="95.5" fill="none" stroke="#e8282a" stroke-width="2.8"/>
<path d="M242,626 L242,668" stroke="#9a9aa6" stroke-width="2.5"/>
<circle cx="242" cy="628" r="3.2" fill="#8e8e9a"/>
<circle cx="236" cy="624" r="2.3" fill="#c8c8d0"/>
<circle cx="248" cy="624" r="2.3" fill="#c8c8d0"/>
<circle cx="242" cy="640" r="3.4" fill="#5566aa"/>
<circle cx="242" cy="652" r="3" fill="#8e8e9a"/>
<circle cx="242" cy="656" r="3.2" fill="#6677bb"/>
<circle cx="242" cy="671" r="3.4" fill="#777785"/>
<circle cx="235" cy="673" r="2.3" fill="#c8c8d0"/>
<circle cx="249" cy="673" r="2.3" fill="#c8c8d0"/>
<circle cx="242" cy="681" r="2.3" fill="#c8c8d0"/>
<path d="M242,648.5 L392,649.6" stroke="#111" stroke-width="2.2"/><path d="M399,649.6 L388,644.5 L390,649.6 L388,654.7Z" fill="#111"/>
<path d="M285,736.6 L340,770" stroke="#111" stroke-width="2.2"/><path d="M346,773.5 L338.5,763.5 L338,769.5 L333,772.5Z" fill="#111"/>
<path d="M195,690 L266,602" stroke="#1db35a" stroke-width="2.6"/><path d="M189,696.5 L191,683 L199,690Z M271.6,596.7 L269.5,610 L261.5,603Z" fill="#1db35a" stroke="#1db35a" stroke-width="1.5"/>
<text x="195" y="666.5" font-size="24" font-weight="bold" fill="#111" font-family="Liberation Serif, serif">d</text>
<text x="52" y="529.4" font-size="18.5" font-weight="bold" fill="#111" textLength="93" lengthAdjust="spacingAndGlyphs" font-family="Liberation Sans, sans-serif">MM region</text>
<text x="361.5" y="494.7" font-size="17.6" font-weight="bold" fill="#111" textLength="74" lengthAdjust="spacingAndGlyphs" font-family="Liberation Sans, sans-serif">Top view</text>
<text x="414" y="654.4" font-size="16" font-weight="bold" fill="#111" textLength="31.5" lengthAdjust="spacingAndGlyphs" font-family="Liberation Sans, sans-serif">EMI</text>
<text x="314" y="802.2" font-size="18" font-weight="bold" fill="#111" textLength="90.6" lengthAdjust="spacingAndGlyphs" font-family="Liberation Sans, sans-serif">QM region</text>
<text x="14" y="473" font-size="30.5" fill="#000" font-family="Liberation Sans, sans-serif">(d)</text>
<defs><clipPath id="paraclip"><polygon points="197,74 543,74 370,370 22.6,370"/></clipPath><clipPath id="diskclip"><circle cx="283.3" cy="221" r="97.8"/></clipPath><radialGradient id="cball" cx="35%" cy="30%" r="70%"><stop offset="0" stop-color="#5fbf7f"/><stop offset="0.45" stop-color="#1f8048"/><stop offset="1" stop-color="#0b4f28"/></radialGradient><radialGradient id="hball" cx="35%" cy="30%" r="70%"><stop offset="0" stop-color="#ffffff"/><stop offset="0.5" stop-color="#eeeeee"/><stop offset="1" stop-color="#9a9a9a"/></radialGradient><filter id="contour" x="0" y="0" width="100%" height="100%" color-interpolation-filters="sRGB"><feGaussianBlur stdDeviation="11"/><feComponentTransfer><feFuncR type="linear" slope="4"/><feFuncG type="linear" slope="4"/><feFuncB type="linear" slope="4"/></feComponentTransfer><feComponentTransfer><feFuncR type="discrete" tableValues="0.137 0.137 0.137 0.137 0.137 0.137 0.137 0.137 0.137 0.137 0.137 0.137 0.137 0.137 0.137 0.137 0.137 0.137 0.137 0.137 0.137 0.137 0.137 0.137 0.137 0.137 0.137 0.137 0.137 0.137 0.137 0.137 0.137 0.137 0.137 0.137 0.137 0.137 0.137 0.137 0.137 0.137 0.137 0.137 0.137 0.137 0.137 0.137 0.137 0.137 0.102 0.102 0.102 0.102 0.102 0.102 0.102 0.102 0.102 0.102 0.102 0.102 0.102 0.102 0.102 0.102 0.102 0.102 0.102 0.102 0.102 0.102 0.102 0.102 0.102 0.102 0.102 0.102 0.102 0.102 0.133 0.133 0.133 0.133 0.133 0.133 0.133 0.133 0.133 0.133 0.133 0.133 0.133 0.133 0.133 0.133 0.133 0.133 0.133 0.133 0.133 0.133 0.133 0.133 0.133 0.133 0.561 0.561 0.561 0.561 0.561 0.561 0.561 0.561 0.561 0.561 0.561 0.561 0.561 0.561 0.957 0.957 0.957 0.957 0.957 0.957 0.957 0.957 0.957 0.957 0.957 0.957 0.957 0.957 0.957 0.957 0.957 0.957 0.957 0.957 0.957 0.957 0.957 0.957 0.957 0.957 0.957 0.957 0.957 0.957 0.957 0.957 0.957 0.957 0.957 0.957 0.957 0.957 0.957 0.957 0.957 0.957 0.961 0.961 0.961 0.961 0.961 0.961 0.961 0.961 0.961 0.961 0.961 0.961 0.961 0.961 0.961 0.961 0.961 0.961 0.847 0.847 0.847 0.847 0.847 0.847 0.847 0.847 0.847 0.847 0.847 0.847 0.847 0.847 0.847 0.847 0.847 0.847 0.847 0.847"/><feFuncG type="discrete" tableValues="0.400 0.400 0.400 0.400 0.400 0.400 0.400 0.400 0.400 0.400 0.400 0.400 0.400 0.400 0.400 0.400 0.400 0.400 0.400 0.400 0.400 0.400 0.400 0.400 0.400 0.400 0.400 0.400 0.400 0.400 0.400 0.400 0.400 0.400 0.400 0.400 0.400 0.400 0.400 0.400 0.400 0.400 0.400 0.400 0.400 0.400 0.400 0.400 0.400 0.400 0.627 0.627 0.627 0.627 0.627 0.627 0.627 0.627 0.627 0.627 0.627 0.627 0.627 0.627 0.627 0.627 0.627 0.627 0.627 0.627 0.627 0.627 0.627 0.627 0.627 0.627 0.627 0.627 0.627 0.627 0.659 0.659 0.659 0.659 0.659 0.659 0.659 0.659 0.659 0.659 0.659 0.659 0.659 0.659 0.659 0.659 0.659 0.659 0.659 0.659 0.659 0.659 0.659 0.659 0.659 0.659 0.812 0.812 0.812 0.812 0.812 0.812 0.812 0.812 0.812 0.812 0.812 0.812 0.812 0.812 0.878 0.878 0.878 0.878 0.878 0.878 0.878 0.878 0.878 0.878 0.878 0.878 0.878 0.878 0.878 0.878 0.878 0.878 0.878 0.878 0.878 0.878 0.878 0.878 0.878 0.878 0.878 0.878 0.878 0.878 0.878 0.878 0.878 0.878 0.878 0.878 0.878 0.878 0.878 0.878 0.878 0.878 0.604 0.604 0.604 0.604 0.604 0.604 0.604 0.604 0.604 0.604 0.604 0.604 0.604 0.604 0.604 0.604 0.604 0.604 0.251 0.251 0.251 0.251 0.251 0.251 0.251 0.251 0.251 0.251 0.251 0.251 0.251 0.251 0.251 0.251 0.251 0.251 0.251 0.251"/><feFuncB type="discrete" tableValues="0.776 0.776 0.776 0.776 0.776 0.776 0.776 0.776 0.776 0.776 0.776 0.776 0.776 0.776 0.776 0.776 0.776 0.776 0.776 0.776 0.776 0.776 0.776 0.776 0.776 0.776 0.776 0.776 0.776 0.776 0.776 0.776 0.776 0.776 0.776 0.776 0.776 0.776 0.776 0.776 0.776 0.776 0.776 0.776 0.776 0.776 0.776 0.776 0.776 0.776 0.784 0.784 0.784 0.784 0.784 0.784 0.784 0.784 0.784 0.784 0.784 0.784 0.784 0.784 0.784 0.784 0.784 0.784 0.784 0.784 0.784 0.784 0.784 0.784 0.784 0.784 0.784 0.784 0.784 0.784 0.290 0.290 0.290 0.290 0.290 0.290 0.290 0.290 0.290 0.290 0.290 0.290 0.290 0.290 0.290 0.290 0.290 0.290 0.290 0.290 0.290 0.290 0.290 0.290 0.290 0.290 0.227 0.227 0.227 0.227 0.227 0.227 0.227 0.227 0.227 0.227 0.227 0.227 0.227 0.227 0.165 0.165 0.165 0.165 0.165 0.165 0.165 0.165 0.165 0.165 0.165 0.165 0.165 0.165 0.165 0.165 0.165 0.165 0.165 0.165 0.165 0.165 0.165 0.165 0.165 0.165 0.165 0.165 0.165 0.165 0.165 0.165 0.165 0.165 0.165 0.165 0.165 0.165 0.165 0.165 0.165 0.165 0.180 0.180 0.180 0.180 0.180 0.180 0.180 0.180 0.180 0.180 0.180 0.180 0.180 0.180 0.180 0.180 0.180 0.180 0.227 0.227 0.227 0.227 0.227 0.227 0.227 0.227 0.227 0.227 0.227 0.227 0.227 0.227 0.227 0.227 0.227 0.227 0.227 0.227"/></feComponentTransfer><feGaussianBlur stdDeviation="0.9"/></filter></defs>
<g clip-path="url(#diskclip)"><g filter="url(#contour)">
<rect x="150" y="90" width="270" height="265" fill="#000"/>
<path d="M24.8,140.8L51.6,156.2M51.6,156.2L51.6,187.2M51.6,187.2L24.8,202.8M24.8,202.8L-2.1,187.2M-2.1,187.2L-2.1,156.2M-2.1,156.2L24.8,140.8M24.8,240.2L51.6,255.8M51.6,255.8L51.6,286.8M51.6,286.8L24.8,302.2M24.8,302.2L-2.1,286.8M-2.1,286.8L-2.1,255.8M-2.1,255.8L24.8,240.2M24.8,240.2L24.8,202.8M51.6,286.8L84.1,305.5M-2.1,286.8L-34.5,305.5M111.0,290.0L137.8,305.5M137.8,305.5L137.8,336.5M137.8,336.5L111.0,352.0M111.0,352.0L84.1,336.5M84.1,336.5L84.1,305.5M84.1,305.5L111.0,290.0M111.0,389.5L137.8,405.0M137.8,405.0L137.8,436.0M137.8,436.0L111.0,451.5M111.0,451.5L84.1,436.0M84.1,436.0L84.1,405.0M84.1,405.0L111.0,389.5M111.0,389.5L111.0,352.0M137.8,436.0L170.3,454.8M84.1,436.0L51.6,454.8M111.0,-8.5L137.8,7.0M137.8,7.0L137.8,38.0M137.8,38.0L111.0,53.5M111.0,53.5L84.1,38.0M84.1,38.0L84.1,7.0M84.1,7.0L111.0,-8.5M111.0,91.0L137.8,106.5M137.8,106.5L137.8,137.5M137.8,137.5L111.0,153.0M111.0,153.0L84.1,137.5M84.1,137.5L84.1,106.5M84.1,106.5L111.0,91.0M111.0,91.0L111.0,53.5M137.8,137.5L170.3,156.2M84.1,137.5L51.6,156.2M197.1,140.8L224.0,156.2M224.0,156.2L224.0,187.2M224.0,187.2L197.1,202.8M197.1,202.8L170.3,187.2M170.3,187.2L170.3,156.2M170.3,156.2L197.1,140.8M197.1,240.2L224.0,255.8M224.0,255.8L224.0,286.8M224.0,286.8L197.1,302.2M197.1,302.2L170.3,286.8M170.3,286.8L170.3,255.8M170.3,255.8L197.1,240.2M197.1,240.2L197.1,202.8M224.0,286.8L256.5,305.5M170.3,286.8L137.8,305.5M283.3,290.0L310.1,305.5M310.1,305.5L310.1,336.5M310.1,336.5L283.3,352.0M283.3,352.0L256.5,336.5M256.5,336.5L256.5,305.5M256.5,305.5L283.3,290.0M283.3,389.5L310.1,405.0M310.1,405.0L310.1,436.0M310.1,436.0L283.3,451.5M283.3,451.5L256.5,436.0M256.5,436.0L256.5,405.0M256.5,405.0L283.3,389.5M283.3,389.5L283.3,352.0M310.1,436.0L342.6,454.8M256.5,436.0L224.0,454.8M283.3,-8.5L310.1,7.0M310.1,7.0L310.1,38.0M310.1,38.0L283.3,53.5M283.3,53.5L256.5,38.0M256.5,38.0L256.5,7.0M256.5,7.0L283.3,-8.5M283.3,91.0L310.1,106.5M310.1,106.5L310.1,137.5M310.1,137.5L283.3,153.0M283.3,153.0L256.5,137.5M256.5,137.5L256.5,106.5M256.5,106.5L283.3,91.0M283.3,91.0L283.3,53.5M310.1,137.5L342.6,156.2M256.5,137.5L224.0,156.2M369.5,140.8L396.3,156.2M396.3,156.2L396.3,187.2M396.3,187.2L369.5,202.8M369.5,202.8L342.6,187.2M342.6,187.2L342.6,156.2M342.6,156.2L369.5,140.8M369.5,240.2L396.3,255.8M396.3,255.8L396.3,286.8M396.3,286.8L369.5,302.2M369.5,302.2L342.6,286.8M342.6,286.8L342.6,255.8M342.6,255.8L369.5,240.2M369.5,240.2L369.5,202.8M396.3,286.8L428.8,305.5M342.6,286.8L310.1,305.5M455.6,290.0L482.5,305.5M482.5,305.5L482.5,336.5M482.5,336.5L455.6,352.0M455.6,352.0L428.8,336.5M428.8,336.5L428.8,305.5M428.8,305.5L455.6,290.0M455.6,389.5L482.5,405.0M482.5,405.0L482.5,436.0M482.5,436.0L455.6,451.5M455.6,451.5L428.8,436.0M428.8,436.0L428.8,405.0M428.8,405.0L455.6,389.5M455.6,389.5L455.6,352.0M482.5,436.0L515.0,454.8M428.8,436.0L396.3,454.8M455.6,-8.5L482.5,7.0M482.5,7.0L482.5,38.0M482.5,38.0L455.6,53.5M455.6,53.5L428.8,38.0M428.8,38.0L428.8,7.0M428.8,7.0L455.6,-8.5M455.6,91.0L482.5,106.5M482.5,106.5L482.5,137.5M482.5,137.5L455.6,153.0M455.6,153.0L428.8,137.5M428.8,137.5L428.8,106.5M428.8,106.5L455.6,91.0M455.6,91.0L455.6,53.5M482.5,137.5L515.0,156.2M428.8,137.5L396.3,156.2M541.8,140.8L568.7,156.2M568.7,156.2L568.7,187.2M568.7,187.2L541.8,202.8M541.8,202.8L515.0,187.2M515.0,187.2L515.0,156.2M515.0,156.2L541.8,140.8M541.8,240.2L568.7,255.8M568.7,255.8L568.7,286.8M568.7,286.8L541.8,302.2M541.8,302.2L515.0,286.8M515.0,286.8L515.0,255.8M515.0,255.8L541.8,240.2M541.8,240.2L541.8,202.8M568.7,286.8L601.1,305.5M515.0,286.8L482.5,305.5" stroke="#fff" stroke-width="6" fill="none"/>
<path d="M24.8,140.8L24.8,115.2M51.6,187.2L73.7,200.0M-2.1,187.2L-24.1,200.0M51.6,255.8L73.7,243.0M24.8,302.2L24.8,327.8M-2.1,255.8L-24.1,243.0M111.0,290.0L111.0,264.5M137.8,336.5L159.9,349.2M84.1,336.5L62.0,349.2M137.8,405.0L159.9,392.2M111.0,451.5L111.0,477.0M84.1,405.0L62.0,392.2M111.0,-8.5L111.0,-34.0M137.8,38.0L159.9,50.7M84.1,38.0L62.0,50.7M137.8,106.5L159.9,93.8M111.0,153.0L111.0,178.5M84.1,106.5L62.0,93.8M197.1,140.8L197.1,115.2M224.0,187.2L246.1,200.0M170.3,187.2L148.2,200.0M224.0,255.8L246.1,243.0M197.1,302.2L197.1,327.8M170.3,255.8L148.2,243.0M283.3,290.0L283.3,264.5M310.1,336.5L332.2,349.2M256.5,336.5L234.4,349.2M310.1,405.0L332.2,392.2M283.3,451.5L283.3,477.0M256.5,405.0L234.4,392.2M283.3,-8.5L283.3,-34.0M310.1,38.0L332.2,50.7M256.5,38.0L234.4,50.7M310.1,106.5L332.2,93.8M283.3,153.0L283.3,178.5M256.5,106.5L234.4,93.8M369.5,140.8L369.5,115.2M396.3,187.2L418.4,200.0M342.6,187.2L320.5,200.0M396.3,255.8L418.4,243.0M369.5,302.2L369.5,327.8M342.6,255.8L320.5,243.0M455.6,290.0L455.6,264.5M482.5,336.5L504.6,349.2M428.8,336.5L406.7,349.2M482.5,405.0L504.6,392.2M455.6,451.5L455.6,477.0M428.8,405.0L406.7,392.2M455.6,-8.5L455.6,-34.0M482.5,38.0L504.6,50.7M428.8,38.0L406.7,50.7M482.5,106.5L504.6,93.8M455.6,153.0L455.6,178.5M428.8,106.5L406.7,93.8M541.8,140.8L541.8,115.2M568.7,187.2L590.7,200.0M515.0,187.2L492.9,200.0M568.7,255.8L590.7,243.0M541.8,302.2L541.8,327.8M515.0,255.8L492.9,243.0" stroke="#b0b0b0" stroke-width="4" fill="none"/>
<circle cx="24.8" cy="140.8" r="5" fill="#fff"/><circle cx="51.6" cy="156.2" r="5" fill="#fff"/><circle cx="51.6" cy="187.2" r="5" fill="#fff"/><circle cx="24.8" cy="202.8" r="5" fill="#fff"/><circle cx="-2.1" cy="187.2" r="5" fill="#fff"/><circle cx="-2.1" cy="156.2" r="5" fill="#fff"/><circle cx="24.8" cy="240.2" r="5" fill="#fff"/><circle cx="51.6" cy="255.8" r="5" fill="#fff"/><circle cx="51.6" cy="286.8" r="5" fill="#fff"/><circle cx="24.8" cy="302.2" r="5" fill="#fff"/><circle cx="-2.1" cy="286.8" r="5" fill="#fff"/><circle cx="-2.1" cy="255.8" r="5" fill="#fff"/><circle cx="111.0" cy="290.0" r="5" fill="#fff"/><circle cx="137.8" cy="305.5" r="5" fill="#fff"/><circle cx="137.8" cy="336.5" r="5" fill="#fff"/><circle cx="111.0" cy="352.0" r="5" fill="#fff"/><circle cx="84.1" cy="336.5" r="5" fill="#fff"/><circle cx="84.1" cy="305.5" r="5" fill="#fff"/><circle cx="111.0" cy="389.5" r="5" fill="#fff"/><circle cx="137.8" cy="405.0" r="5" fill="#fff"/><circle cx="137.8" cy="436.0" r="5" fill="#fff"/><circle cx="111.0" cy="451.5" r="5" fill="#fff"/><circle cx="84.1" cy="436.0" r="5" fill="#fff"/><circle cx="84.1" cy="405.0" r="5" fill="#fff"/><circle cx="111.0" cy="-8.5" r="5" fill="#fff"/><circle cx="137.8" cy="7.0" r="5" fill="#fff"/><circle cx="137.8" cy="38.0" r="5" fill="#fff"/><circle cx="111.0" cy="53.5" r="5" fill="#fff"/><circle cx="84.1" cy="38.0" r="5" fill="#fff"/><circle cx="84.1" cy="7.0" r="5" fill="#fff"/><circle cx="111.0" cy="91.0" r="5" fill="#fff"/><circle cx="137.8" cy="106.5" r="5" fill="#fff"/><circle cx="137.8" cy="137.5" r="5" fill="#fff"/><circle cx="111.0" cy="153.0" r="5" fill="#fff"/><circle cx="84.1" cy="137.5" r="5" fill="#fff"/><circle cx="84.1" cy="106.5" r="5" fill="#fff"/><circle cx="197.1" cy="140.8" r="5" fill="#fff"/><circle cx="224.0" cy="156.2" r="5" fill="#fff"/><circle cx="224.0" cy="187.2" r="5" fill="#fff"/><circle cx="197.1" cy="202.8" r="5" fill="#fff"/><circle cx="170.3" cy="187.2" r="5" fill="#fff"/><circle cx="170.3" cy="156.2" r="5" fill="#fff"/><circle cx="197.1" cy="240.2" r="5" fill="#fff"/><circle cx="224.0" cy="255.8" r="5" fill="#fff"/><circle cx="224.0" cy="286.8" r="5" fill="#fff"/><circle cx="197.1" cy="302.2" r="5" fill="#fff"/><circle cx="170.3" cy="286.8" r="5" fill="#fff"/><circle cx="170.3" cy="255.8" r="5" fill="#fff"/><circle cx="283.3" cy="290.0" r="5" fill="#fff"/><circle cx="310.1" cy="305.5" r="5" fill="#fff"/><circle cx="310.1" cy="336.5" r="5" fill="#fff"/><circle cx="283.3" cy="352.0" r="5" fill="#fff"/><circle cx="256.5" cy="336.5" r="5" fill="#fff"/><circle cx="256.5" cy="305.5" r="5" fill="#fff"/><circle cx="283.3" cy="389.5" r="5" fill="#fff"/><circle cx="310.1" cy="405.0" r="5" fill="#fff"/><circle cx="310.1" cy="436.0" r="5" fill="#fff"/><circle cx="283.3" cy="451.5" r="5" fill="#fff"/><circle cx="256.5" cy="436.0" r="5" fill="#fff"/><circle cx="256.5" cy="405.0" r="5" fill="#fff"/><circle cx="283.3" cy="-8.5" r="5" fill="#fff"/><circle cx="310.1" cy="7.0" r="5" fill="#fff"/><circle cx="310.1" cy="38.0" r="5" fill="#fff"/><circle cx="283.3" cy="53.5" r="5" fill="#fff"/><circle cx="256.5" cy="38.0" r="5" fill="#fff"/><circle cx="256.5" cy="7.0" r="5" fill="#fff"/><circle cx="283.3" cy="91.0" r="5" fill="#fff"/><circle cx="310.1" cy="106.5" r="5" fill="#fff"/><circle cx="310.1" cy="137.5" r="5" fill="#fff"/><circle cx="283.3" cy="153.0" r="5" fill="#fff"/><circle cx="256.5" cy="137.5" r="5" fill="#fff"/><circle cx="256.5" cy="106.5" r="5" fill="#fff"/><circle cx="369.5" cy="140.8" r="5" fill="#fff"/><circle cx="396.3" cy="156.2" r="5" fill="#fff"/><circle cx="396.3" cy="187.2" r="5" fill="#fff"/><circle cx="369.5" cy="202.8" r="5" fill="#fff"/><circle cx="342.6" cy="187.2" r="5" fill="#fff"/><circle cx="342.6" cy="156.2" r="5" fill="#fff"/><circle cx="369.5" cy="240.2" r="5" fill="#fff"/><circle cx="396.3" cy="255.8" r="5" fill="#fff"/><circle cx="396.3" cy="286.8" r="5" fill="#fff"/><circle cx="369.5" cy="302.2" r="5" fill="#fff"/><circle cx="342.6" cy="286.8" r="5" fill="#fff"/><circle cx="342.6" cy="255.8" r="5" fill="#fff"/><circle cx="455.6" cy="290.0" r="5" fill="#fff"/><circle cx="482.5" cy="305.5" r="5" fill="#fff"/><circle cx="482.5" cy="336.5" r="5" fill="#fff"/><circle cx="455.6" cy="352.0" r="5" fill="#fff"/><circle cx="428.8" cy="336.5" r="5" fill="#fff"/><circle cx="428.8" cy="305.5" r="5" fill="#fff"/><circle cx="455.6" cy="389.5" r="5" fill="#fff"/><circle cx="482.5" cy="405.0" r="5" fill="#fff"/><circle cx="482.5" cy="436.0" r="5" fill="#fff"/><circle cx="455.6" cy="451.5" r="5" fill="#fff"/><circle cx="428.8" cy="436.0" r="5" fill="#fff"/><circle cx="428.8" cy="405.0" r="5" fill="#fff"/><circle cx="455.6" cy="-8.5" r="5" fill="#fff"/><circle cx="482.5" cy="7.0" r="5" fill="#fff"/><circle cx="482.5" cy="38.0" r="5" fill="#fff"/><circle cx="455.6" cy="53.5" r="5" fill="#fff"/><circle cx="428.8" cy="38.0" r="5" fill="#fff"/><circle cx="428.8" cy="7.0" r="5" fill="#fff"/><circle cx="455.6" cy="91.0" r="5" fill="#fff"/><circle cx="482.5" cy="106.5" r="5" fill="#fff"/><circle cx="482.5" cy="137.5" r="5" fill="#fff"/><circle cx="455.6" cy="153.0" r="5" fill="#fff"/><circle cx="428.8" cy="137.5" r="5" fill="#fff"/><circle cx="428.8" cy="106.5" r="5" fill="#fff"/><circle cx="541.8" cy="140.8" r="5" fill="#fff"/><circle cx="568.7" cy="156.2" r="5" fill="#fff"/><circle cx="568.7" cy="187.2" r="5" fill="#fff"/><circle cx="541.8" cy="202.8" r="5" fill="#fff"/><circle cx="515.0" cy="187.2" r="5" fill="#fff"/><circle cx="515.0" cy="156.2" r="5" fill="#fff"/><circle cx="541.8" cy="240.2" r="5" fill="#fff"/><circle cx="568.7" cy="255.8" r="5" fill="#fff"/><circle cx="568.7" cy="286.8" r="5" fill="#fff"/><circle cx="541.8" cy="302.2" r="5" fill="#fff"/><circle cx="515.0" cy="286.8" r="5" fill="#fff"/><circle cx="515.0" cy="255.8" r="5" fill="#fff"/>
</g>
<path d="M253,221 L268,195 L298.5,195 L313.5,221 L298.5,247 L268,247Z" fill="#1e3c9c" filter="url(#bl5)" opacity="0.95"/>
<path d="M258,221 L270.5,199.5 L296,199.5 L308.5,221 L296,242.5 L270.5,242.5Z" fill="none" stroke="#7a4aa0" stroke-width="1" stroke-dasharray="2,2" opacity="0.7"/>
</g>
<g clip-path="url(#paraclip)">
<path d="M24.8,140.8L51.6,156.2M51.6,156.2L51.6,187.2M51.6,187.2L24.8,202.8M24.8,202.8L-2.1,187.2M-2.1,187.2L-2.1,156.2M-2.1,156.2L24.8,140.8M24.8,140.8L24.8,115.2M51.6,187.2L73.7,200.0M-2.1,187.2L-24.1,200.0M24.8,240.2L51.6,255.8M51.6,255.8L51.6,286.8M51.6,286.8L24.8,302.2M24.8,302.2L-2.1,286.8M-2.1,286.8L-2.1,255.8M-2.1,255.8L24.8,240.2M51.6,255.8L73.7,243.0M24.8,302.2L24.8,327.8M-2.1,255.8L-24.1,243.0M24.8,240.2L24.8,202.8M51.6,286.8L84.1,305.5M-2.1,286.8L-34.5,305.5M111.0,290.0L137.8,305.5M137.8,305.5L137.8,336.5M137.8,336.5L111.0,352.0M111.0,352.0L84.1,336.5M84.1,336.5L84.1,305.5M84.1,305.5L111.0,290.0M111.0,290.0L111.0,264.5M137.8,336.5L159.9,349.2M84.1,336.5L62.0,349.2M111.0,389.5L137.8,405.0M137.8,405.0L137.8,436.0M137.8,436.0L111.0,451.5M111.0,451.5L84.1,436.0M84.1,436.0L84.1,405.0M84.1,405.0L111.0,389.5M137.8,405.0L159.9,392.2M111.0,451.5L111.0,477.0M84.1,405.0L62.0,392.2M111.0,389.5L111.0,352.0M137.8,436.0L170.3,454.8M84.1,436.0L51.6,454.8M111.0,-8.5L137.8,7.0M137.8,7.0L137.8,38.0M137.8,38.0L111.0,53.5M111.0,53.5L84.1,38.0M84.1,38.0L84.1,7.0M84.1,7.0L111.0,-8.5M111.0,-8.5L111.0,-34.0M137.8,38.0L159.9,50.7M84.1,38.0L62.0,50.7M111.0,91.0L137.8,106.5M137.8,106.5L137.8,137.5M137.8,137.5L111.0,153.0M111.0,153.0L84.1,137.5M84.1,137.5L84.1,106.5M84.1,106.5L111.0,91.0M137.8,106.5L159.9,93.8M111.0,153.0L111.0,178.5M84.1,106.5L62.0,93.8M111.0,91.0L111.0,53.5M137.8,137.5L170.3,156.2M84.1,137.5L51.6,156.2M197.1,140.8L224.0,156.2M224.0,156.2L224.0,187.2M224.0,187.2L197.1,202.8M197.1,202.8L170.3,187.2M170.3,187.2L170.3,156.2M170.3,156.2L197.1,140.8M197.1,140.8L197.1,115.2M224.0,187.2L246.1,200.0M170.3,187.2L148.2,200.0M197.1,240.2L224.0,255.8M224.0,255.8L224.0,286.8M224.0,286.8L197.1,302.2M197.1,302.2L170.3,286.8M170.3,286.8L170.3,255.8M170.3,255.8L197.1,240.2M224.0,255.8L246.1,243.0M197.1,302.2L197.1,327.8M170.3,255.8L148.2,243.0M197.1,240.2L197.1,202.8M224.0,286.8L256.5,305.5M170.3,286.8L137.8,305.5M283.3,290.0L310.1,305.5M310.1,305.5L310.1,336.5M310.1,336.5L283.3,352.0M283.3,352.0L256.5,336.5M256.5,336.5L256.5,305.5M256.5,305.5L283.3,290.0M283.3,290.0L283.3,264.5M310.1,336.5L332.2,349.2M256.5,336.5L234.4,349.2M283.3,389.5L310.1,405.0M310.1,405.0L310.1,436.0M310.1,436.0L283.3,451.5M283.3,451.5L256.5,436.0M256.5,436.0L256.5,405.0M256.5,405.0L283.3,389.5M310.1,405.0L332.2,392.2M283.3,451.5L283.3,477.0M256.5,405.0L234.4,392.2M283.3,389.5L283.3,352.0M310.1,436.0L342.6,454.8M256.5,436.0L224.0,454.8M283.3,-8.5L310.1,7.0M310.1,7.0L310.1,38.0M310.1,38.0L283.3,53.5M283.3,53.5L256.5,38.0M256.5,38.0L256.5,7.0M256.5,7.0L283.3,-8.5M283.3,-8.5L283.3,-34.0M310.1,38.0L332.2,50.7M256.5,38.0L234.4,50.7M283.3,91.0L310.1,106.5M310.1,106.5L310.1,137.5M310.1,137.5L283.3,153.0M283.3,153.0L256.5,137.5M256.5,137.5L256.5,106.5M256.5,106.5L283.3,91.0M310.1,106.5L332.2,93.8M283.3,153.0L283.3,178.5M256.5,106.5L234.4,93.8M283.3,91.0L283.3,53.5M310.1,137.5L342.6,156.2M256.5,137.5L224.0,156.2M369.5,140.8L396.3,156.2M396.3,156.2L396.3,187.2M396.3,187.2L369.5,202.8M369.5,202.8L342.6,187.2M342.6,187.2L342.6,156.2M342.6,156.2L369.5,140.8M369.5,140.8L369.5,115.2M396.3,187.2L418.4,200.0M342.6,187.2L320.5,200.0M369.5,240.2L396.3,255.8M396.3,255.8L396.3,286.8M396.3,286.8L369.5,302.2M369.5,302.2L342.6,286.8M342.6,286.8L342.6,255.8M342.6,255.8L369.5,240.2M396.3,255.8L418.4,243.0M369.5,302.2L369.5,327.8M342.6,255.8L320.5,243.0M369.5,240.2L369.5,202.8M396.3,286.8L428.8,305.5M342.6,286.8L310.1,305.5M455.6,290.0L482.5,305.5M482.5,305.5L482.5,336.5M482.5,336.5L455.6,352.0M455.6,352.0L428.8,336.5M428.8,336.5L428.8,305.5M428.8,305.5L455.6,290.0M455.6,290.0L455.6,264.5M482.5,336.5L504.6,349.2M428.8,336.5L406.7,349.2M455.6,389.5L482.5,405.0M482.5,405.0L482.5,436.0M482.5,436.0L455.6,451.5M455.6,451.5L428.8,436.0M428.8,436.0L428.8,405.0M428.8,405.0L455.6,389.5M482.5,405.0L504.6,392.2M455.6,451.5L455.6,477.0M428.8,405.0L406.7,392.2M455.6,389.5L455.6,352.0M482.5,436.0L515.0,454.8M428.8,436.0L396.3,454.8M455.6,-8.5L482.5,7.0M482.5,7.0L482.5,38.0M482.5,38.0L455.6,53.5M455.6,53.5L428.8,38.0M428.8,38.0L428.8,7.0M428.8,7.0L455.6,-8.5M455.6,-8.5L455.6,-34.0M482.5,38.0L504.6,50.7M428.8,38.0L406.7,50.7M455.6,91.0L482.5,106.5M482.5,106.5L482.5,137.5M482.5,137.5L455.6,153.0M455.6,153.0L428.8,137.5M428.8,137.5L428.8,106.5M428.8,106.5L455.6,91.0M482.5,106.5L504.6,93.8M455.6,153.0L455.6,178.5M428.8,106.5L406.7,93.8M455.6,91.0L455.6,53.5M482.5,137.5L515.0,156.2M428.8,137.5L396.3,156.2M541.8,140.8L568.7,156.2M568.7,156.2L568.7,187.2M568.7,187.2L541.8,202.8M541.8,202.8L515.0,187.2M515.0,187.2L515.0,156.2M515.0,156.2L541.8,140.8M541.8,140.8L541.8,115.2M568.7,187.2L590.7,200.0M515.0,187.2L492.9,200.0M541.8,240.2L568.7,255.8M568.7,255.8L568.7,286.8M568.7,286.8L541.8,302.2M541.8,302.2L515.0,286.8M515.0,286.8L515.0,255.8M515.0,255.8L541.8,240.2M568.7,255.8L590.7,243.0M541.8,302.2L541.8,327.8M515.0,255.8L492.9,243.0M541.8,240.2L541.8,202.8M568.7,286.8L601.1,305.5M515.0,286.8L482.5,305.5" stroke="#1b7d44" stroke-width="5.6" fill="none"/>
<circle cx="24.8" cy="115.2" r="6.2" fill="url(#hball)"/><circle cx="73.7" cy="200.0" r="6.2" fill="url(#hball)"/><circle cx="-24.1" cy="200.0" r="6.2" fill="url(#hball)"/><circle cx="73.7" cy="243.0" r="6.2" fill="url(#hball)"/><circle cx="24.8" cy="327.8" r="6.2" fill="url(#hball)"/><circle cx="-24.1" cy="243.0" r="6.2" fill="url(#hball)"/><circle cx="111.0" cy="264.5" r="6.2" fill="url(#hball)"/><circle cx="159.9" cy="349.2" r="6.2" fill="url(#hball)"/><circle cx="62.0" cy="349.2" r="6.2" fill="url(#hball)"/><circle cx="159.9" cy="392.2" r="6.2" fill="url(#hball)"/><circle cx="111.0" cy="477.0" r="6.2" fill="url(#hball)"/><circle cx="62.0" cy="392.2" r="6.2" fill="url(#hball)"/><circle cx="111.0" cy="-34.0" r="6.2" fill="url(#hball)"/><circle cx="159.9" cy="50.7" r="6.2" fill="url(#hball)"/><circle cx="62.0" cy="50.7" r="6.2" fill="url(#hball)"/><circle cx="159.9" cy="93.8" r="6.2" fill="url(#hball)"/><circle cx="111.0" cy="178.5" r="6.2" fill="url(#hball)"/><circle cx="62.0" cy="93.8" r="6.2" fill="url(#hball)"/><circle cx="197.1" cy="115.2" r="6.2" fill="url(#hball)"/><circle cx="246.1" cy="200.0" r="6.2" fill="url(#hball)"/><circle cx="148.2" cy="200.0" r="6.2" fill="url(#hball)"/><circle cx="246.1" cy="243.0" r="6.2" fill="url(#hball)"/><circle cx="197.1" cy="327.8" r="6.2" fill="url(#hball)"/><circle cx="148.2" cy="243.0" r="6.2" fill="url(#hball)"/><circle cx="283.3" cy="264.5" r="6.2" fill="url(#hball)"/><circle cx="332.2" cy="349.2" r="6.2" fill="url(#hball)"/><circle cx="234.4" cy="349.2" r="6.2" fill="url(#hball)"/><circle cx="332.2" cy="392.2" r="6.2" fill="url(#hball)"/><circle cx="283.3" cy="477.0" r="6.2" fill="url(#hball)"/><circle cx="234.4" cy="392.2" r="6.2" fill="url(#hball)"/><circle cx="283.3" cy="-34.0" r="6.2" fill="url(#hball)"/><circle cx="332.2" cy="50.7" r="6.2" fill="url(#hball)"/><circle cx="234.4" cy="50.7" r="6.2" fill="url(#hball)"/><circle cx="332.2" cy="93.8" r="6.2" fill="url(#hball)"/><circle cx="283.3" cy="178.5" r="6.2" fill="url(#hball)"/><circle cx="234.4" cy="93.8" r="6.2" fill="url(#hball)"/><circle cx="369.5" cy="115.2" r="6.2" fill="url(#hball)"/><circle cx="418.4" cy="200.0" r="6.2" fill="url(#hball)"/><circle cx="320.5" cy="200.0" r="6.2" fill="url(#hball)"/><circle cx="418.4" cy="243.0" r="6.2" fill="url(#hball)"/><circle cx="369.5" cy="327.8" r="6.2" fill="url(#hball)"/><circle cx="320.5" cy="243.0" r="6.2" fill="url(#hball)"/><circle cx="455.6" cy="264.5" r="6.2" fill="url(#hball)"/><circle cx="504.6" cy="349.2" r="6.2" fill="url(#hball)"/><circle cx="406.7" cy="349.2" r="6.2" fill="url(#hball)"/><circle cx="504.6" cy="392.2" r="6.2" fill="url(#hball)"/><circle cx="455.6" cy="477.0" r="6.2" fill="url(#hball)"/><circle cx="406.7" cy="392.2" r="6.2" fill="url(#hball)"/><circle cx="455.6" cy="-34.0" r="6.2" fill="url(#hball)"/><circle cx="504.6" cy="50.7" r="6.2" fill="url(#hball)"/><circle cx="406.7" cy="50.7" r="6.2" fill="url(#hball)"/><circle cx="504.6" cy="93.8" r="6.2" fill="url(#hball)"/><circle cx="455.6" cy="178.5" r="6.2" fill="url(#hball)"/><circle cx="406.7" cy="93.8" r="6.2" fill="url(#hball)"/><circle cx="541.8" cy="115.2" r="6.2" fill="url(#hball)"/><circle cx="590.7" cy="200.0" r="6.2" fill="url(#hball)"/><circle cx="492.9" cy="200.0" r="6.2" fill="url(#hball)"/><circle cx="590.7" cy="243.0" r="6.2" fill="url(#hball)"/><circle cx="541.8" cy="327.8" r="6.2" fill="url(#hball)"/><circle cx="492.9" cy="243.0" r="6.2" fill="url(#hball)"/>
<circle cx="24.8" cy="140.8" r="8" fill="url(#cball)"/><circle cx="51.6" cy="156.2" r="8" fill="url(#cball)"/><circle cx="51.6" cy="187.2" r="8" fill="url(#cball)"/><circle cx="24.8" cy="202.8" r="8" fill="url(#cball)"/><circle cx="-2.1" cy="187.2" r="8" fill="url(#cball)"/><circle cx="-2.1" cy="156.2" r="8" fill="url(#cball)"/><circle cx="24.8" cy="240.2" r="8" fill="url(#cball)"/><circle cx="51.6" cy="255.8" r="8" fill="url(#cball)"/><circle cx="51.6" cy="286.8" r="8" fill="url(#cball)"/><circle cx="24.8" cy="302.2" r="8" fill="url(#cball)"/><circle cx="-2.1" cy="286.8" r="8" fill="url(#cball)"/><circle cx="-2.1" cy="255.8" r="8" fill="url(#cball)"/><circle cx="111.0" cy="290.0" r="8" fill="url(#cball)"/><circle cx="137.8" cy="305.5" r="8" fill="url(#cball)"/><circle cx="137.8" cy="336.5" r="8" fill="url(#cball)"/><circle cx="111.0" cy="352.0" r="8" fill="url(#cball)"/><circle cx="84.1" cy="336.5" r="8" fill="url(#cball)"/><circle cx="84.1" cy="305.5" r="8" fill="url(#cball)"/><circle cx="111.0" cy="389.5" r="8" fill="url(#cball)"/><circle cx="137.8" cy="405.0" r="8" fill="url(#cball)"/><circle cx="137.8" cy="436.0" r="8" fill="url(#cball)"/><circle cx="111.0" cy="451.5" r="8" fill="url(#cball)"/><circle cx="84.1" cy="436.0" r="8" fill="url(#cball)"/><circle cx="84.1" cy="405.0" r="8" fill="url(#cball)"/><circle cx="111.0" cy="-8.5" r="8" fill="url(#cball)"/><circle cx="137.8" cy="7.0" r="8" fill="url(#cball)"/><circle cx="137.8" cy="38.0" r="8" fill="url(#cball)"/><circle cx="111.0" cy="53.5" r="8" fill="url(#cball)"/><circle cx="84.1" cy="38.0" r="8" fill="url(#cball)"/><circle cx="84.1" cy="7.0" r="8" fill="url(#cball)"/><circle cx="111.0" cy="91.0" r="8" fill="url(#cball)"/><circle cx="137.8" cy="106.5" r="8" fill="url(#cball)"/><circle cx="137.8" cy="137.5" r="8" fill="url(#cball)"/><circle cx="111.0" cy="153.0" r="8" fill="url(#cball)"/><circle cx="84.1" cy="137.5" r="8" fill="url(#cball)"/><circle cx="84.1" cy="106.5" r="8" fill="url(#cball)"/><circle cx="197.1" cy="140.8" r="8" fill="url(#cball)"/><circle cx="224.0" cy="156.2" r="8" fill="url(#cball)"/><circle cx="224.0" cy="187.2" r="8" fill="url(#cball)"/><circle cx="197.1" cy="202.8" r="8" fill="url(#cball)"/><circle cx="170.3" cy="187.2" r="8" fill="url(#cball)"/><circle cx="170.3" cy="156.2" r="8" fill="url(#cball)"/><circle cx="197.1" cy="240.2" r="8" fill="url(#cball)"/><circle cx="224.0" cy="255.8" r="8" fill="url(#cball)"/><circle cx="224.0" cy="286.8" r="8" fill="url(#cball)"/><circle cx="197.1" cy="302.2" r="8" fill="url(#cball)"/><circle cx="170.3" cy="286.8" r="8" fill="url(#cball)"/><circle cx="170.3" cy="255.8" r="8" fill="url(#cball)"/><circle cx="283.3" cy="290.0" r="8" fill="url(#cball)"/><circle cx="310.1" cy="305.5" r="8" fill="url(#cball)"/><circle cx="310.1" cy="336.5" r="8" fill="url(#cball)"/><circle cx="283.3" cy="352.0" r="8" fill="url(#cball)"/><circle cx="256.5" cy="336.5" r="8" fill="url(#cball)"/><circle cx="256.5" cy="305.5" r="8" fill="url(#cball)"/><circle cx="283.3" cy="389.5" r="8" fill="url(#cball)"/><circle cx="310.1" cy="405.0" r="8" fill="url(#cball)"/><circle cx="310.1" cy="436.0" r="8" fill="url(#cball)"/><circle cx="283.3" cy="451.5" r="8" fill="url(#cball)"/><circle cx="256.5" cy="436.0" r="8" fill="url(#cball)"/><circle cx="256.5" cy="405.0" r="8" fill="url(#cball)"/><circle cx="283.3" cy="-8.5" r="8" fill="url(#cball)"/><circle cx="310.1" cy="7.0" r="8" fill="url(#cball)"/><circle cx="310.1" cy="38.0" r="8" fill="url(#cball)"/><circle cx="283.3" cy="53.5" r="8" fill="url(#cball)"/><circle cx="256.5" cy="38.0" r="8" fill="url(#cball)"/><circle cx="256.5" cy="7.0" r="8" fill="url(#cball)"/><circle cx="283.3" cy="91.0" r="8" fill="url(#cball)"/><circle cx="310.1" cy="106.5" r="8" fill="url(#cball)"/><circle cx="310.1" cy="137.5" r="8" fill="url(#cball)"/><circle cx="283.3" cy="153.0" r="8" fill="url(#cball)"/><circle cx="256.5" cy="137.5" r="8" fill="url(#cball)"/><circle cx="256.5" cy="106.5" r="8" fill="url(#cball)"/><circle cx="369.5" cy="140.8" r="8" fill="url(#cball)"/><circle cx="396.3" cy="156.2" r="8" fill="url(#cball)"/><circle cx="396.3" cy="187.2" r="8" fill="url(#cball)"/><circle cx="369.5" cy="202.8" r="8" fill="url(#cball)"/><circle cx="342.6" cy="187.2" r="8" fill="url(#cball)"/><circle cx="342.6" cy="156.2" r="8" fill="url(#cball)"/><circle cx="369.5" cy="240.2" r="8" fill="url(#cball)"/><circle cx="396.3" cy="255.8" r="8" fill="url(#cball)"/><circle cx="396.3" cy="286.8" r="8" fill="url(#cball)"/><circle cx="369.5" cy="302.2" r="8" fill="url(#cball)"/><circle cx="342.6" cy="286.8" r="8" fill="url(#cball)"/><circle cx="342.6" cy="255.8" r="8" fill="url(#cball)"/><circle cx="455.6" cy="290.0" r="8" fill="url(#cball)"/><circle cx="482.5" cy="305.5" r="8" fill="url(#cball)"/><circle cx="482.5" cy="336.5" r="8" fill="url(#cball)"/><circle cx="455.6" cy="352.0" r="8" fill="url(#cball)"/><circle cx="428.8" cy="336.5" r="8" fill="url(#cball)"/><circle cx="428.8" cy="305.5" r="8" fill="url(#cball)"/><circle cx="455.6" cy="389.5" r="8" fill="url(#cball)"/><circle cx="482.5" cy="405.0" r="8" fill="url(#cball)"/><circle cx="482.5" cy="436.0" r="8" fill="url(#cball)"/><circle cx="455.6" cy="451.5" r="8" fill="url(#cball)"/><circle cx="428.8" cy="436.0" r="8" fill="url(#cball)"/><circle cx="428.8" cy="405.0" r="8" fill="url(#cball)"/><circle cx="455.6" cy="-8.5" r="8" fill="url(#cball)"/><circle cx="482.5" cy="7.0" r="8" fill="url(#cball)"/><circle cx="482.5" cy="38.0" r="8" fill="url(#cball)"/><circle cx="455.6" cy="53.5" r="8" fill="url(#cball)"/><circle cx="428.8" cy="38.0" r="8" fill="url(#cball)"/><circle cx="428.8" cy="7.0" r="8" fill="url(#cball)"/><circle cx="455.6" cy="91.0" r="8" fill="url(#cball)"/><circle cx="482.5" cy="106.5" r="8" fill="url(#cball)"/><circle cx="482.5" cy="137.5" r="8" fill="url(#cball)"/><circle cx="455.6" cy="153.0" r="8" fill="url(#cball)"/><circle cx="428.8" cy="137.5" r="8" fill="url(#cball)"/><circle cx="428.8" cy="106.5" r="8" fill="url(#cball)"/><circle cx="541.8" cy="140.8" r="8" fill="url(#cball)"/><circle cx="568.7" cy="156.2" r="8" fill="url(#cball)"/><circle cx="568.7" cy="187.2" r="8" fill="url(#cball)"/><circle cx="541.8" cy="202.8" r="8" fill="url(#cball)"/><circle cx="515.0" cy="187.2" r="8" fill="url(#cball)"/><circle cx="515.0" cy="156.2" r="8" fill="url(#cball)"/><circle cx="541.8" cy="240.2" r="8" fill="url(#cball)"/><circle cx="568.7" cy="255.8" r="8" fill="url(#cball)"/><circle cx="568.7" cy="286.8" r="8" fill="url(#cball)"/><circle cx="541.8" cy="302.2" r="8" fill="url(#cball)"/><circle cx="515.0" cy="286.8" r="8" fill="url(#cball)"/><circle cx="515.0" cy="255.8" r="8" fill="url(#cball)"/>
</g>
<polygon points="197,74 543,74 370,370 22.6,370" fill="none" stroke="#4aa3d3" stroke-width="1.6"/>
<text x="283.1" y="159.5" text-anchor="middle" font-size="17" font-weight="bold" fill="#c03a7a" font-family="Liberation Sans, sans-serif">1</text>
<text x="311.3" y="144.0" text-anchor="middle" font-size="17" font-weight="bold" fill="#c03a7a" font-family="Liberation Sans, sans-serif">2</text>
<text x="342.3" y="162.3" text-anchor="middle" font-size="17" font-weight="bold" fill="#c03a7a" font-family="Liberation Sans, sans-serif">2</text>
<text x="397" y="261.5" text-anchor="middle" font-size="17" font-weight="bold" fill="#c03a7a" font-family="Liberation Sans, sans-serif">1</text>
<text x="397" y="293.5" text-anchor="middle" font-size="17" font-weight="bold" fill="#c03a7a" font-family="Liberation Sans, sans-serif">2</text>
<text x="370.6" y="309.5" text-anchor="middle" font-size="17" font-weight="bold" fill="#c03a7a" font-family="Liberation Sans, sans-serif">1</text>
<text x="311" y="309.5" text-anchor="middle" font-size="17" font-weight="bold" fill="#c03a7a" font-family="Liberation Sans, sans-serif">1</text>
<text x="283" y="358.5" text-anchor="middle" font-size="17" font-weight="bold" fill="#c03a7a" font-family="Liberation Sans, sans-serif">2</text>
<text x="256" y="309.5" text-anchor="middle" font-size="17" font-weight="bold" fill="#c03a7a" font-family="Liberation Sans, sans-serif">1</text>
<text x="283.3" y="226.5" text-anchor="middle" font-size="15" font-weight="bold" fill="#e88a3a" font-family="Liberation Serif, serif">2.48 Å</text>
<path d="M255,222 L259,222 M308,222 L312,222" stroke="#e88a3a" stroke-width="1"/>
<text x="15.5" y="42.8" font-size="31" fill="#000" font-family="Liberation Sans, sans-serif">(a)</text>
</svg></body></html>
